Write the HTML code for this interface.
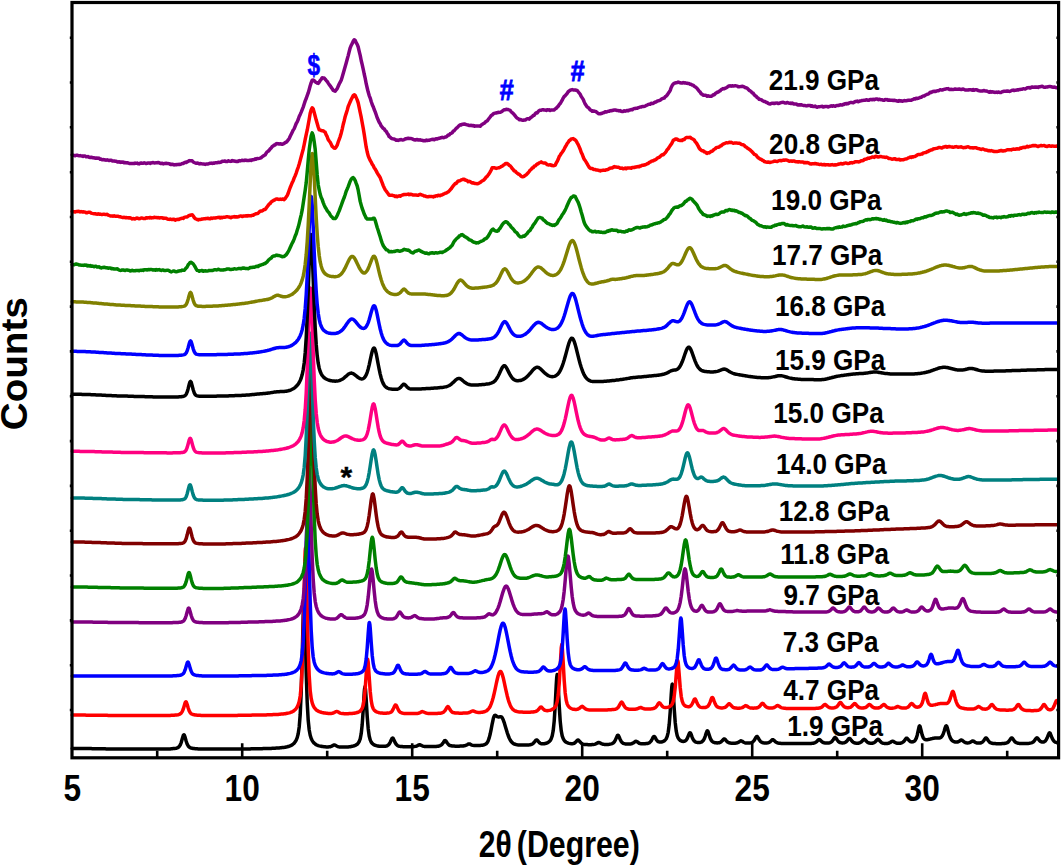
<!DOCTYPE html>
<html><head><meta charset="utf-8"><style>
html,body{margin:0;padding:0;background:#fff;}
body{width:1061px;height:866px;overflow:hidden;}
svg{display:block;}
text{font-family:"Liberation Sans",sans-serif;font-weight:bold;fill:#000;}
</style></head><body>
<svg width="1061" height="866" viewBox="0 0 1061 866">
<rect width="1061" height="866" fill="#fff"/>
<g fill="none" stroke-width="3.5" stroke-linejoin="round" stroke-linecap="round">
<path d="M72.2 748.5L73.2 748.5 74.2 748.5 75.2 748.5 76.2 748.5 77.2 748.5 78.2 748.5 79.2 748.5 80.2 748.5 81.2 748.5 82.2 748.5 83.2 748.6 84.2 748.6 85.2 748.6 86.2 748.6 87.2 748.6 88.2 748.6 89.2 748.6 90.2 748.6 91.2 748.6 92.2 748.7 93.2 748.7 94.2 748.7 95.2 748.7 96.2 748.7 97.2 748.7 98.2 748.7 99.2 748.8 100.2 748.8 101.2 748.8 102.2 748.8 103.2 748.8 104.2 748.8 105.2 748.8 106.2 748.9 107.2 748.9 108.2 748.9 109.2 748.9 110.2 748.9 111.2 748.9 112.2 748.9 113.2 749.0 114.2 749.0 115.2 749.0 116.2 749.0 117.2 749.0 118.2 749.0 119.2 749.0 120.2 749.0 121.2 749.1 122.2 749.1 123.2 749.1 124.2 749.1 125.2 749.1 126.2 749.1 127.2 749.1 128.2 749.1 129.2 749.1 130.2 749.1 131.2 749.1 132.2 749.1 133.2 749.1 134.2 749.1 135.2 749.1 136.2 749.1 137.2 749.1 138.2 749.1 139.2 749.1 140.2 749.1 141.2 749.1 142.2 749.1 143.2 749.1 144.2 749.1 145.2 749.1 146.2 749.1 147.2 749.1 148.2 749.1 149.2 749.1 150.2 749.1 151.2 749.1 152.2 749.1 153.2 749.1 154.2 749.1 155.2 749.1 156.2 749.1 157.2 749.1 158.2 749.1 159.2 749.1 160.2 749.1 161.2 749.1 162.2 749.0 163.2 749.0 164.2 749.0 165.2 749.0 166.2 749.0 167.2 749.0 168.2 748.9 169.2 748.9 170.2 748.9 171.2 748.8 172.2 748.7 173.2 748.6 174.2 748.5 175.2 748.4 176.2 748.2 177.2 747.9 178.2 747.4 179.2 746.5 180.2 745.0 181.2 742.6 182.2 739.1 183.2 735.7 183.4 735.2 183.9 734.7 184.2 734.9 184.4 735.2 185.2 737.6 186.2 741.3 187.2 744.2 188.2 746.0 189.2 747.1 190.2 747.7 191.2 748.1 192.2 748.3 193.2 748.5 194.2 748.6 195.2 748.7 196.2 748.8 197.2 748.8 198.2 748.9 199.2 748.9 200.2 749.0 201.2 749.0 202.2 749.0 203.2 749.0 204.2 749.0 205.2 749.1 206.2 749.1 207.2 749.1 208.2 749.1 209.2 749.1 210.2 749.1 211.2 749.1 212.2 749.1 213.2 749.1 214.2 749.1 215.2 749.1 216.2 749.1 217.2 749.1 218.2 749.1 219.2 749.1 220.2 749.1 221.2 749.1 222.2 749.1 223.2 749.1 224.2 749.1 225.2 749.1 226.2 749.1 227.2 749.1 228.2 749.1 229.2 749.1 230.2 749.1 231.2 749.1 232.2 749.1 233.2 749.0 234.2 749.0 235.2 749.0 236.2 749.0 237.2 749.0 238.2 749.0 239.2 749.0 240.2 749.0 241.2 749.0 242.2 749.0 243.2 748.9 244.2 748.9 245.2 748.9 246.2 748.9 247.2 748.9 248.2 748.9 249.2 748.9 250.2 748.9 251.2 748.8 252.2 748.8 253.2 748.8 254.2 748.8 255.2 748.8 256.2 748.8 257.2 748.8 258.2 748.7 259.2 748.7 260.2 748.7 261.2 748.7 262.2 748.7 263.2 748.6 264.2 748.6 265.2 748.6 266.2 748.6 267.2 748.5 268.2 748.5 269.2 748.5 270.2 748.4 271.2 748.4 272.2 748.3 273.2 748.3 274.2 748.2 275.2 748.2 276.2 748.1 277.2 748.1 278.2 748.0 279.2 747.9 280.2 747.8 281.2 747.7 282.2 747.6 283.2 747.5 284.2 747.4 285.2 747.2 286.2 747.0 287.2 746.8 288.2 746.5 289.2 746.2 290.2 745.8 291.2 745.4 292.2 744.8 293.2 744.0 294.2 743.1 295.2 741.8 296.2 740.1 297.2 737.6 298.2 733.7 299.2 727.0 300.2 714.5 301.2 692.2 302.2 656.8 303.2 615.6 303.5 606.5 304.0 600.0 304.2 601.1 304.5 606.5 305.2 631.3 306.2 672.4 307.2 702.5 308.2 720.3 309.2 730.0 310.2 735.3 311.2 738.5 312.2 740.6 313.2 742.1 314.2 743.2 315.2 744.0 316.2 744.7 317.2 745.2 318.2 745.6 319.2 745.9 320.2 746.1 321.2 746.3 322.2 746.5 323.2 746.6 324.2 746.8 325.2 746.8 326.2 746.9 327.2 746.9 328.2 746.9 329.2 746.8 330.2 746.7 331.2 746.4 332.2 745.9 333.2 745.3 333.8 745.0 334.2 744.9 334.3 744.9 334.8 745.0 335.2 745.2 336.2 745.8 337.2 746.3 338.2 746.7 339.2 746.9 340.2 747.0 341.2 747.1 342.2 747.1 343.2 747.1 344.2 747.1 345.2 747.1 346.2 747.0 347.2 747.0 348.2 746.9 349.2 746.8 350.2 746.7 351.2 746.5 352.2 746.3 353.2 746.1 354.2 745.8 355.2 745.4 356.2 744.9 357.2 744.2 358.2 743.1 359.2 741.5 360.2 738.8 361.2 733.7 362.2 724.5 363.2 710.0 364.2 693.1 364.5 689.4 365.0 686.7 365.2 687.1 365.5 689.4 366.2 699.5 367.2 716.4 368.2 728.7 369.2 736.0 370.2 739.9 371.2 742.1 372.2 743.4 373.2 744.3 374.2 744.9 375.2 745.3 376.2 745.6 377.2 745.9 378.2 746.0 379.2 746.2 380.2 746.2 381.2 746.3 382.2 746.3 383.2 746.3 384.2 746.3 385.2 746.2 386.2 746.0 387.2 745.7 388.2 745.1 389.2 744.0 390.2 742.3 391.2 740.0 392.1 738.3 392.2 738.2 392.6 738.0 393.1 738.3 393.2 738.5 394.2 740.5 395.2 742.7 396.2 744.3 397.2 745.3 398.2 745.9 399.2 746.2 400.2 746.4 401.2 746.5 402.2 746.6 403.2 746.7 404.2 746.7 405.2 746.7 406.2 746.8 407.2 746.8 408.2 746.8 409.2 746.8 410.2 746.8 411.2 746.7 412.2 746.7 413.2 746.7 414.2 746.6 415.2 746.4 416.2 746.2 417.2 745.8 418.2 745.2 419.1 744.8 419.2 744.8 419.6 744.8 420.1 744.8 420.2 744.9 421.2 745.3 422.2 745.8 423.2 746.2 424.2 746.4 425.2 746.5 426.2 746.6 427.2 746.6 428.2 746.6 429.2 746.6 430.2 746.6 431.2 746.6 432.2 746.6 433.2 746.5 434.2 746.5 435.2 746.4 436.2 746.4 437.2 746.3 438.2 746.2 439.2 746.0 440.2 745.6 441.2 745.0 442.2 744.1 443.2 742.7 444.2 741.2 444.6 740.7 445.1 740.5 445.2 740.5 445.6 740.7 446.2 741.4 447.2 743.0 448.2 744.2 449.2 745.1 450.2 745.6 451.2 745.8 452.2 746.0 453.2 746.1 454.2 746.1 455.2 746.2 456.2 746.2 457.2 746.2 458.2 746.2 459.2 746.2 460.2 746.1 461.2 746.1 462.2 746.1 463.2 746.0 464.2 745.8 465.2 745.6 466.2 745.2 467.2 744.7 468.2 744.1 468.5 744.0 469.0 743.9 469.2 743.9 469.5 743.9 470.2 744.2 471.2 744.8 472.2 745.2 473.2 745.4 474.2 745.6 475.2 745.6 476.2 745.6 477.2 745.6 478.2 745.5 479.2 745.5 480.2 745.4 481.2 745.3 482.2 745.2 483.2 745.0 484.2 744.7 485.2 744.3 486.2 743.7 487.2 742.6 488.2 740.8 489.2 737.9 490.2 734.0 491.2 729.1 492.2 723.8 493.2 719.1 493.5 717.9 494.0 716.5 494.2 716.1 494.5 715.6 495.2 715.2 496.2 715.8 497.2 716.6 498.2 717.0 499.2 716.9 500.2 716.7 501.0 716.7 501.2 716.8 501.5 717.0 502.0 717.5 502.2 717.8 503.2 719.8 504.2 722.6 505.2 725.9 506.2 729.3 507.2 732.6 508.2 735.5 509.2 738.0 510.2 740.0 511.2 741.5 512.2 742.6 513.2 743.4 514.2 744.0 515.2 744.3 516.2 744.6 517.2 744.8 518.2 744.9 519.2 745.0 520.2 745.0 521.2 745.0 522.2 745.1 523.2 745.1 524.2 745.1 525.2 745.1 526.2 745.1 527.2 745.0 528.2 744.9 529.2 744.9 530.2 744.7 531.2 744.5 532.2 744.1 533.2 743.4 534.2 742.3 535.2 741.0 536.0 740.1 536.2 739.9 536.5 739.9 537.0 740.0 537.2 740.2 538.2 741.3 539.2 742.5 540.2 743.2 541.2 743.7 542.2 743.8 543.2 743.8 544.2 743.7 545.2 743.5 546.2 743.3 547.2 742.9 548.2 742.3 549.2 741.6 550.2 740.5 551.2 738.8 552.2 735.9 553.2 730.7 554.2 721.1 555.2 705.4 556.2 685.5 556.7 677.5 557.2 674.4 557.7 677.5 558.2 685.5 559.2 705.4 560.2 721.1 561.2 730.6 562.2 735.9 563.2 738.7 564.2 740.4 565.2 741.5 566.2 742.2 567.2 742.7 568.2 743.1 569.2 743.4 570.2 743.6 571.2 743.7 572.2 743.7 573.2 743.5 574.2 743.2 575.2 742.5 576.2 741.5 577.2 740.4 577.5 740.1 578.0 740.0 578.2 740.0 578.5 740.2 579.2 740.9 580.2 742.1 581.2 743.1 582.2 743.8 583.2 744.2 584.2 744.4 585.2 744.5 586.2 744.6 587.2 744.6 588.2 744.7 589.2 744.7 590.2 744.7 591.2 744.7 592.2 744.6 593.2 744.6 594.2 744.4 595.2 744.1 596.2 743.7 597.2 743.1 598.2 742.6 598.3 742.5 598.8 742.4 599.2 742.5 599.3 742.5 600.2 743.0 601.2 743.6 602.2 744.0 603.2 744.2 604.2 744.4 605.2 744.4 606.2 744.4 607.2 744.4 608.2 744.4 609.2 744.3 610.2 744.1 611.2 743.9 612.2 743.6 613.2 743.0 614.2 742.0 615.2 740.4 616.2 738.1 617.2 735.9 617.4 735.5 617.9 735.2 618.2 735.3 618.4 735.5 619.2 737.1 620.2 739.5 621.2 741.4 622.2 742.6 623.2 743.3 624.2 743.6 625.2 743.9 626.2 744.0 627.2 744.0 628.2 744.1 629.2 744.0 630.2 744.0 631.2 743.8 632.2 743.5 633.2 743.0 634.2 742.3 635.2 741.5 635.5 741.4 636.0 741.3 636.2 741.3 636.5 741.4 637.2 741.8 638.2 742.5 639.2 743.2 640.2 743.5 641.2 743.7 642.2 743.8 643.2 743.8 644.2 743.8 645.2 743.7 646.2 743.6 647.2 743.5 648.2 743.2 649.2 742.8 650.2 742.0 651.2 740.8 652.2 739.0 653.2 737.1 653.5 736.7 654.0 736.4 654.2 736.4 654.5 736.6 655.2 737.6 656.2 739.4 657.2 740.8 658.2 741.6 659.2 742.0 660.2 742.1 661.2 742.1 662.2 741.8 663.2 741.4 664.2 740.9 665.2 740.0 666.2 738.7 667.2 736.4 668.2 732.3 669.2 724.6 670.2 711.9 671.2 695.2 671.8 686.8 672.2 684.3 672.3 684.2 672.8 686.8 673.2 692.0 674.2 708.7 675.2 722.4 676.2 730.9 677.2 735.6 678.2 738.1 679.2 739.5 680.2 740.4 681.2 740.9 682.2 741.3 683.2 741.4 684.2 741.3 685.2 740.9 686.2 740.1 687.2 738.5 688.2 736.1 689.2 733.6 689.5 733.1 690.0 732.7 690.2 732.8 690.5 733.1 691.2 734.6 692.2 737.4 693.2 739.5 694.2 740.9 695.2 741.8 696.2 742.2 697.2 742.4 698.2 742.5 699.2 742.5 700.2 742.4 701.2 742.1 702.2 741.6 703.2 740.6 704.2 738.9 705.2 736.3 706.2 733.1 706.9 731.3 707.2 730.9 707.4 730.8 707.9 731.3 708.2 731.9 709.2 735.1 710.2 738.1 711.2 740.1 712.2 741.4 713.2 742.1 714.2 742.5 715.2 742.7 716.2 742.8 717.2 742.9 718.2 742.8 719.2 742.7 720.2 742.4 721.2 741.7 722.2 740.8 723.2 739.6 723.8 739.1 724.2 738.9 724.3 738.9 724.8 739.1 725.2 739.4 726.2 740.6 727.2 741.7 728.2 742.4 729.2 742.8 730.2 743.1 731.2 743.2 732.2 743.3 733.2 743.3 734.2 743.3 735.2 743.2 736.2 743.1 737.2 742.8 738.2 742.4 739.2 741.8 740.2 741.1 740.5 740.9 741.0 740.8 741.2 740.9 741.5 740.9 742.2 741.3 743.2 742.0 744.2 742.5 745.2 742.9 746.2 743.0 747.2 743.1 748.2 743.1 749.2 743.0 750.2 742.9 751.2 742.7 752.2 742.3 753.2 741.5 754.2 740.3 755.2 738.6 756.2 736.9 756.4 736.7 756.9 736.4 757.2 736.5 757.4 736.7 758.2 737.9 759.2 739.7 760.2 741.1 761.2 742.0 762.2 742.5 763.2 742.8 764.2 742.9 765.2 743.0 766.2 743.0 767.2 742.9 768.2 742.7 769.2 742.3 770.2 741.7 771.2 740.8 772.2 739.9 772.3 739.8 772.8 739.7 773.2 739.8 773.3 739.9 774.2 740.6 775.2 741.6 776.2 742.3 777.2 742.8 778.2 743.1 779.2 743.3 780.2 743.3 781.2 743.4 782.2 743.5 783.2 743.5 784.2 743.5 785.2 743.5 786.2 743.6 787.2 743.6 788.2 743.6 789.2 743.6 790.2 743.6 791.2 743.6 792.2 743.6 793.2 743.6 794.2 743.6 795.2 743.6 796.2 743.6 797.2 743.6 798.2 743.6 799.2 743.6 800.2 743.6 801.2 743.6 802.2 743.6 803.2 743.6 804.2 743.6 805.2 743.6 806.2 743.5 807.2 743.5 808.2 743.5 809.2 743.5 810.2 743.4 811.2 743.4 812.2 743.3 813.2 743.2 814.2 743.0 815.2 742.6 816.2 742.0 817.2 741.1 818.2 740.1 818.7 739.7 819.2 739.5 819.7 739.7 820.2 740.0 821.2 741.1 822.2 741.9 823.2 742.5 824.2 742.8 825.2 743.0 826.2 743.1 827.2 743.1 828.2 743.0 829.2 742.9 830.2 742.6 831.2 742.0 832.2 741.1 833.2 739.7 834.2 738.1 834.6 737.7 835.1 737.4 835.2 737.5 835.6 737.7 836.2 738.4 837.2 740.0 838.2 741.3 839.2 742.1 840.2 742.6 841.2 742.8 842.2 742.9 843.2 742.9 844.2 742.7 845.2 742.4 846.2 741.7 847.2 740.7 848.2 739.3 848.9 738.6 849.2 738.4 849.4 738.4 849.9 738.6 850.2 738.9 851.2 740.2 852.2 741.4 853.2 742.3 854.2 742.8 855.2 743.1 856.2 743.2 857.2 743.2 858.2 743.2 859.2 743.0 860.2 742.6 861.2 742.0 862.2 741.0 863.2 739.9 863.7 739.5 864.2 739.3 864.7 739.5 865.2 739.9 866.2 741.1 867.2 742.1 868.2 742.7 869.2 743.1 870.2 743.2 871.2 743.3 872.2 743.2 873.2 743.0 874.2 742.6 875.2 741.9 876.2 740.8 877.2 739.7 877.5 739.4 878.0 739.3 878.2 739.3 878.5 739.4 879.2 740.1 880.2 741.3 881.2 742.3 882.2 742.9 883.2 743.2 884.2 743.4 885.2 743.5 886.2 743.5 887.2 743.5 888.2 743.3 889.2 743.0 890.2 742.5 891.2 741.8 892.1 741.3 892.2 741.3 892.6 741.2 893.1 741.3 893.2 741.3 894.2 741.9 895.2 742.5 896.2 743.0 897.2 743.2 898.2 743.3 899.2 743.3 900.2 743.2 901.2 743.0 902.2 742.6 903.2 741.9 904.2 740.9 905.2 739.5 906.1 738.4 906.2 738.3 906.6 738.2 907.1 738.3 907.2 738.4 908.2 739.5 909.2 740.7 910.2 741.5 911.2 741.8 912.2 741.9 913.2 741.7 914.2 741.2 915.2 740.2 916.2 738.4 917.2 735.2 918.2 730.5 919.1 726.6 919.2 726.3 919.6 725.8 920.1 726.5 920.2 726.8 921.2 731.0 922.2 735.1 923.2 737.7 924.2 739.0 925.2 739.6 926.2 739.8 927.2 739.7 928.2 739.6 929.2 739.3 930.2 739.1 931.2 738.8 932.2 738.6 933.2 738.3 934.2 738.2 934.5 738.1 935.0 738.1 935.2 738.1 935.5 738.1 936.2 738.0 937.2 738.0 938.2 738.0 939.2 738.0 940.2 737.8 941.2 737.2 942.2 736.0 943.2 734.0 944.2 731.0 945.2 727.6 945.8 726.1 946.2 725.8 946.3 725.8 946.8 726.4 947.2 727.5 948.2 731.3 949.2 735.0 950.2 737.7 951.2 739.5 952.2 740.6 953.2 741.3 954.2 741.8 955.2 742.0 956.2 742.1 957.2 742.1 958.2 741.8 959.2 741.2 960.2 740.5 960.9 740.1 961.2 740.0 961.4 740.0 961.9 740.1 962.2 740.3 963.2 741.2 964.2 742.0 965.2 742.5 966.2 742.8 967.2 742.9 968.2 742.9 969.2 742.7 970.2 742.3 971.2 741.7 972.2 741.1 972.3 741.0 972.8 741.0 973.2 741.0 973.3 741.1 974.2 741.6 975.2 742.3 976.2 742.7 977.2 743.0 978.2 743.1 979.2 743.1 980.2 743.0 981.2 742.7 982.2 742.2 983.2 741.3 984.2 739.9 985.2 738.4 985.5 738.1 986.0 737.9 986.2 738.0 986.5 738.1 987.2 739.0 988.2 740.5 989.2 741.8 990.2 742.6 991.2 743.0 992.2 743.3 993.2 743.5 994.2 743.6 995.2 743.6 996.2 743.7 997.2 743.7 998.2 743.7 999.2 743.7 1000.2 743.7 1001.2 743.7 1002.2 743.6 1003.2 743.6 1004.2 743.5 1005.2 743.3 1006.2 743.1 1007.2 742.7 1008.2 742.0 1009.2 740.9 1010.2 739.4 1011.2 738.1 1011.7 737.9 1012.2 738.1 1013.2 739.4 1014.2 740.9 1015.2 742.0 1016.2 742.6 1017.2 743.0 1018.2 743.2 1019.2 743.4 1020.2 743.4 1021.2 743.5 1022.2 743.5 1023.2 743.5 1024.2 743.5 1025.2 743.5 1026.2 743.5 1027.2 743.4 1028.2 743.4 1029.2 743.3 1030.2 743.1 1031.2 742.9 1032.2 742.6 1033.2 742.0 1034.2 741.0 1035.2 739.6 1036.2 738.2 1036.4 738.0 1036.9 737.8 1037.2 737.9 1037.4 738.0 1038.2 738.9 1039.2 740.2 1040.2 741.2 1041.2 741.8 1042.2 742.1 1043.2 742.0 1044.2 741.7 1045.2 741.1 1046.2 739.8 1047.2 737.8 1048.2 735.2 1049.1 733.2 1049.2 733.0 1049.6 732.8 1050.1 733.2 1050.2 733.3 1051.2 735.8 1052.2 738.4 1053.2 740.2 1054.2 741.4 1055.2 742.1 1056.2 742.4 1057.2 742.7 1058.2 742.8" stroke="#000000"/>
<path d="M72.2 715.1L73.2 715.1 74.2 715.1 75.2 715.1 76.2 715.1 77.2 715.1 78.2 715.1 79.2 715.1 80.2 715.1 81.2 715.1 82.2 715.1 83.2 715.1 84.2 715.1 85.2 715.1 86.2 715.2 87.2 715.2 88.2 715.2 89.2 715.2 90.2 715.2 91.2 715.2 92.2 715.2 93.2 715.2 94.2 715.2 95.2 715.2 96.2 715.2 97.2 715.2 98.2 715.3 99.2 715.3 100.2 715.3 101.2 715.3 102.2 715.3 103.2 715.3 104.2 715.3 105.2 715.3 106.2 715.3 107.2 715.3 108.2 715.4 109.2 715.4 110.2 715.4 111.2 715.4 112.2 715.4 113.2 715.4 114.2 715.4 115.2 715.4 116.2 715.4 117.2 715.4 118.2 715.4 119.2 715.4 120.2 715.5 121.2 715.5 122.2 715.5 123.2 715.5 124.2 715.5 125.2 715.5 126.2 715.5 127.2 715.5 128.2 715.5 129.2 715.5 130.2 715.5 131.2 715.5 132.2 715.5 133.2 715.5 134.2 715.5 135.2 715.5 136.2 715.5 137.2 715.5 138.2 715.5 139.2 715.5 140.2 715.5 141.2 715.5 142.2 715.5 143.2 715.5 144.2 715.5 145.2 715.5 146.2 715.5 147.2 715.5 148.2 715.5 149.2 715.5 150.2 715.5 151.2 715.5 152.2 715.5 153.2 715.5 154.2 715.5 155.2 715.5 156.2 715.5 157.2 715.5 158.2 715.5 159.2 715.5 160.2 715.5 161.2 715.5 162.2 715.5 163.2 715.5 164.2 715.5 165.2 715.5 166.2 715.4 167.2 715.4 168.2 715.4 169.2 715.4 170.2 715.4 171.2 715.3 172.2 715.3 173.2 715.2 174.2 715.2 175.2 715.1 176.2 715.0 177.2 714.9 178.2 714.7 179.2 714.4 180.2 713.9 181.2 713.1 182.2 711.6 183.2 709.3 184.2 705.9 185.2 702.6 185.4 702.2 185.9 701.7 186.2 701.9 186.4 702.2 187.2 704.5 188.2 708.0 189.2 710.8 190.2 712.6 191.2 713.7 192.2 714.2 193.2 714.6 194.2 714.8 195.2 715.0 196.2 715.1 197.2 715.2 198.2 715.2 199.2 715.3 200.2 715.3 201.2 715.4 202.2 715.4 203.2 715.4 204.2 715.4 205.2 715.4 206.2 715.5 207.2 715.5 208.2 715.5 209.2 715.5 210.2 715.5 211.2 715.5 212.2 715.5 213.2 715.5 214.2 715.5 215.2 715.5 216.2 715.5 217.2 715.5 218.2 715.5 219.2 715.5 220.2 715.5 221.2 715.5 222.2 715.5 223.2 715.5 224.2 715.5 225.2 715.5 226.2 715.5 227.2 715.5 228.2 715.5 229.2 715.4 230.2 715.4 231.2 715.4 232.2 715.4 233.2 715.4 234.2 715.4 235.2 715.4 236.2 715.4 237.2 715.4 238.2 715.3 239.2 715.3 240.2 715.3 241.2 715.3 242.2 715.3 243.2 715.3 244.2 715.3 245.2 715.3 246.2 715.2 247.2 715.2 248.2 715.2 249.2 715.2 250.2 715.2 251.2 715.2 252.2 715.1 253.2 715.1 254.2 715.1 255.2 715.1 256.2 715.1 257.2 715.1 258.2 715.0 259.2 715.0 260.2 715.0 261.2 715.0 262.2 715.0 263.2 714.9 264.2 714.9 265.2 714.9 266.2 714.9 267.2 714.8 268.2 714.8 269.2 714.8 270.2 714.7 271.2 714.7 272.2 714.7 273.2 714.6 274.2 714.6 275.2 714.5 276.2 714.5 277.2 714.4 278.2 714.4 279.2 714.3 280.2 714.2 281.2 714.1 282.2 714.0 283.2 713.9 284.2 713.8 285.2 713.7 286.2 713.5 287.2 713.3 288.2 713.1 289.2 712.9 290.2 712.6 291.2 712.2 292.2 711.8 293.2 711.2 294.2 710.5 295.2 709.7 296.2 708.5 297.2 707.0 298.2 704.8 299.2 701.5 300.2 696.0 301.2 685.8 302.2 666.6 303.2 633.5 304.2 587.6 305.0 555.2 305.2 550.7 305.5 548.0 306.0 555.2 306.2 561.6 307.2 606.8 308.2 648.5 309.2 675.6 310.2 690.6 311.2 698.5 312.2 702.9 313.2 705.6 314.2 707.5 315.2 708.8 316.2 709.8 317.2 710.6 318.2 711.2 319.2 711.6 320.2 712.0 321.2 712.3 322.2 712.6 323.2 712.8 324.2 713.0 325.2 713.1 326.2 713.2 327.2 713.3 328.2 713.4 329.2 713.4 330.2 713.4 331.2 713.4 332.2 713.3 333.2 713.0 334.2 712.6 335.2 712.0 336.2 711.5 336.3 711.4 336.8 711.4 337.2 711.4 337.3 711.5 338.2 712.0 339.2 712.6 340.2 713.1 341.2 713.4 342.2 713.6 343.2 713.6 344.2 713.7 345.2 713.7 346.2 713.7 347.2 713.7 348.2 713.7 349.2 713.6 350.2 713.6 351.2 713.5 352.2 713.4 353.2 713.3 354.2 713.2 355.2 713.0 356.2 712.8 357.2 712.5 358.2 712.2 359.2 711.7 360.2 711.0 361.2 709.9 362.2 708.2 363.2 705.1 364.2 699.1 365.2 688.7 366.2 673.8 367.1 661.6 367.2 660.7 367.6 659.2 368.1 661.6 368.2 662.5 369.2 677.0 370.2 691.2 371.2 700.6 372.2 705.8 373.2 708.6 374.2 710.1 375.2 711.0 376.2 711.7 377.2 712.1 378.2 712.4 379.2 712.7 380.2 712.9 381.2 713.0 382.2 713.1 383.2 713.2 384.2 713.2 385.2 713.2 386.2 713.2 387.2 713.1 388.2 713.1 389.2 712.9 390.2 712.5 391.2 711.9 392.2 710.9 393.2 709.1 394.2 706.9 395.1 705.2 395.2 705.1 395.6 704.9 396.1 705.2 396.2 705.4 397.2 707.4 398.2 709.6 399.2 711.2 400.2 712.2 401.2 712.7 402.2 713.1 403.2 713.3 404.2 713.4 405.2 713.5 406.2 713.5 407.2 713.6 408.2 713.6 409.2 713.6 410.2 713.6 411.2 713.6 412.2 713.6 413.2 713.6 414.2 713.6 415.2 713.6 416.2 713.5 417.2 713.5 418.2 713.3 419.2 713.0 420.2 712.6 421.2 712.0 422.0 711.7 422.2 711.6 422.5 711.6 423.0 711.7 423.2 711.7 424.2 712.2 425.2 712.7 426.2 713.1 427.2 713.3 428.2 713.4 429.2 713.5 430.2 713.5 431.2 713.5 432.2 713.5 433.2 713.5 434.2 713.5 435.2 713.5 436.2 713.4 437.2 713.4 438.2 713.3 439.2 713.3 440.2 713.2 441.2 713.0 442.2 712.7 443.2 712.3 444.2 711.5 445.2 710.3 446.2 708.6 447.2 707.0 447.3 706.9 447.8 706.6 448.2 706.8 448.3 706.8 449.2 708.2 450.2 709.9 451.2 711.2 452.2 712.1 453.2 712.6 454.2 712.8 455.2 713.0 456.2 713.1 457.2 713.1 458.2 713.1 459.2 713.2 460.2 713.2 461.2 713.2 462.2 713.2 463.2 713.1 464.2 713.1 465.2 713.1 466.2 713.0 467.2 712.9 468.2 712.8 469.2 712.5 470.2 712.1 471.2 711.5 472.2 711.0 472.3 711.0 472.8 710.9 473.2 710.9 473.3 710.9 474.2 711.3 475.2 711.8 476.2 712.1 477.2 712.3 478.2 712.4 479.2 712.4 480.2 712.4 481.2 712.3 482.2 712.2 483.2 712.0 484.2 711.8 485.2 711.4 486.2 711.0 487.2 710.3 488.2 709.3 489.2 708.0 490.2 706.3 491.2 703.9 492.2 701.0 493.2 697.5 494.2 693.3 495.2 688.8 496.2 684.0 497.2 679.5 498.2 675.5 499.2 672.7 499.9 671.6 500.2 671.4 500.4 671.4 500.9 671.6 501.2 672.0 502.2 674.2 503.2 677.7 504.2 682.1 505.2 686.8 506.2 691.4 507.2 695.7 508.2 699.5 509.2 702.7 510.2 705.2 511.2 707.2 512.2 708.6 513.2 709.7 514.2 710.5 515.2 711.0 516.2 711.3 517.2 711.6 518.2 711.8 519.2 711.9 520.2 712.0 521.2 712.1 522.2 712.1 523.2 712.2 524.2 712.2 525.2 712.2 526.2 712.2 527.2 712.2 528.2 712.2 529.2 712.2 530.2 712.2 531.2 712.1 532.2 712.1 533.2 712.0 534.2 711.8 535.2 711.6 536.2 711.3 537.2 710.7 538.2 709.8 539.2 708.6 540.2 707.4 540.4 707.2 540.9 707.0 541.2 707.0 541.4 707.1 542.2 707.9 543.2 709.0 544.2 709.9 545.2 710.4 546.2 710.6 547.2 710.7 548.2 710.6 549.2 710.4 550.2 710.2 551.2 709.9 552.2 709.4 553.2 708.9 554.2 708.0 555.2 706.9 556.2 705.0 557.2 701.6 558.2 695.1 559.2 683.6 560.2 666.3 561.2 648.6 561.3 647.4 561.8 644.5 562.2 646.4 562.3 647.4 563.2 662.3 564.2 680.3 565.2 693.0 566.2 700.2 567.2 704.0 568.2 706.0 569.2 707.2 570.2 708.0 571.2 708.5 572.2 708.9 573.2 709.2 574.2 709.3 575.2 709.4 576.2 709.4 577.2 709.3 578.2 709.0 579.2 708.5 580.2 707.6 581.2 706.7 581.6 706.5 582.1 706.3 582.2 706.3 582.6 706.5 583.2 706.9 584.2 707.9 585.2 708.7 586.2 709.3 587.2 709.6 588.2 709.8 589.2 709.9 590.2 709.9 591.2 710.0 592.2 710.0 593.2 710.0 594.2 710.0 595.2 710.0 596.2 710.0 597.2 710.0 598.2 710.0 599.2 710.0 600.2 710.0 601.2 710.0 602.2 710.0 603.2 710.0 604.2 709.9 605.2 709.9 606.2 709.9 607.2 709.9 608.2 709.8 609.2 709.8 610.2 709.8 611.2 709.7 612.2 709.6 613.2 709.5 614.2 709.4 615.2 709.2 616.2 708.9 617.2 708.3 618.2 707.4 619.2 705.8 620.2 703.9 621.1 702.4 621.2 702.3 621.6 702.1 622.1 702.4 622.2 702.5 623.2 704.2 624.2 706.1 625.2 707.5 626.2 708.3 627.2 708.8 628.2 709.0 629.2 709.2 630.2 709.2 631.2 709.3 632.2 709.3 633.2 709.3 634.2 709.3 635.2 709.2 636.2 709.1 637.2 708.8 638.2 708.4 639.2 707.9 640.0 707.6 640.2 707.5 640.5 707.5 641.0 707.6 641.2 707.6 642.2 708.1 643.2 708.5 644.2 708.8 645.2 709.0 646.2 709.0 647.2 709.1 648.2 709.0 649.2 709.0 650.2 708.9 651.2 708.9 652.2 708.7 653.2 708.5 654.2 708.2 655.2 707.7 656.2 706.8 657.2 705.4 658.2 703.8 658.8 703.0 659.2 702.8 659.3 702.8 659.8 703.0 660.2 703.4 661.2 704.8 662.2 706.1 663.2 707.0 664.2 707.4 665.2 707.6 666.2 707.6 667.2 707.4 668.2 707.2 669.2 706.8 670.2 706.2 671.2 705.4 672.2 704.0 673.2 701.4 674.2 696.4 675.2 687.6 676.2 674.8 677.2 662.5 677.7 660.4 678.2 662.5 679.2 674.7 680.2 687.5 681.2 696.3 682.2 701.2 683.2 703.7 684.2 705.1 685.2 705.9 686.2 706.4 687.2 706.6 688.2 706.7 689.2 706.7 690.2 706.3 691.2 705.4 692.2 703.9 693.2 701.7 694.2 699.5 694.4 699.2 694.9 698.9 695.2 699.0 695.4 699.2 696.2 700.8 697.2 703.3 698.2 705.2 699.2 706.4 700.2 707.1 701.2 707.4 702.2 707.6 703.2 707.6 704.2 707.6 705.2 707.5 706.2 707.3 707.2 706.8 708.2 705.9 709.2 704.3 710.2 701.9 711.2 699.1 711.8 697.8 712.2 697.4 712.3 697.4 712.8 697.8 713.2 698.6 714.2 701.4 715.2 703.9 716.2 705.7 717.2 706.7 718.2 707.3 719.2 707.6 720.2 707.8 721.2 707.9 722.2 707.9 723.2 707.8 724.2 707.6 725.2 707.3 726.2 706.6 727.2 705.5 728.2 704.3 728.7 703.9 729.2 703.7 729.7 703.9 730.2 704.4 731.2 705.6 732.2 706.6 733.2 707.4 734.2 707.8 735.2 708.0 736.2 708.1 737.2 708.2 738.2 708.2 739.2 708.2 740.2 708.1 741.2 707.9 742.2 707.6 743.2 707.1 744.2 706.4 745.2 705.8 745.3 705.7 745.8 705.6 746.2 705.7 746.3 705.7 747.2 706.3 748.2 707.0 749.2 707.5 750.2 707.9 751.2 708.0 752.2 708.1 753.2 708.2 754.2 708.1 755.2 708.1 756.2 708.0 757.2 707.8 758.2 707.4 759.2 706.7 760.2 705.7 761.2 704.3 762.0 703.5 762.2 703.4 762.5 703.3 763.0 703.5 763.2 703.6 764.2 704.9 765.2 706.1 766.2 707.0 767.2 707.5 768.2 707.8 769.2 708.0 770.2 708.0 771.2 708.0 772.2 708.0 773.2 707.8 774.2 707.5 775.2 707.0 776.2 706.2 777.2 705.6 777.7 705.5 778.2 705.6 779.2 706.3 780.2 707.0 781.2 707.6 782.2 707.9 783.2 708.1 784.2 708.2 785.2 708.3 786.2 708.4 787.2 708.4 788.2 708.4 789.2 708.4 790.2 708.5 791.2 708.5 792.2 708.5 793.2 708.5 794.2 708.5 795.2 708.5 796.2 708.5 797.2 708.5 798.2 708.5 799.2 708.5 800.2 708.5 801.2 708.5 802.2 708.5 803.2 708.5 804.2 708.5 805.2 708.5 806.2 708.5 807.2 708.5 808.2 708.5 809.2 708.5 810.2 708.5 811.2 708.4 812.2 708.4 813.2 708.4 814.2 708.4 815.2 708.4 816.2 708.3 817.2 708.3 818.2 708.2 819.2 708.1 820.2 707.8 821.2 707.4 822.2 706.8 823.2 705.8 824.2 704.8 824.5 704.6 825.0 704.5 825.2 704.5 825.5 704.6 826.2 705.2 827.2 706.2 828.2 707.0 829.2 707.5 830.2 707.8 831.2 707.9 832.2 707.9 833.2 707.9 834.2 707.8 835.2 707.5 836.2 707.1 837.2 706.3 838.2 705.1 839.2 703.5 839.9 702.7 840.2 702.5 840.4 702.5 840.9 702.7 841.2 703.0 842.2 704.4 843.2 705.8 844.2 706.8 845.2 707.3 846.2 707.6 847.2 707.7 848.2 707.7 849.2 707.6 850.2 707.4 851.2 706.8 852.2 705.9 853.2 704.7 854.2 703.7 854.7 703.5 855.2 703.7 856.2 704.8 857.2 706.0 858.2 706.9 859.2 707.5 860.2 707.8 861.2 707.9 862.2 708.0 863.2 708.0 864.2 707.8 865.2 707.6 866.2 707.1 867.2 706.3 868.2 705.3 869.0 704.6 869.2 704.6 869.5 704.5 870.0 704.6 870.2 704.8 871.2 705.7 872.2 706.7 873.2 707.4 874.2 707.8 875.2 708.0 876.2 708.1 877.2 708.1 878.2 708.0 879.2 707.8 880.2 707.3 881.2 706.6 882.2 705.6 883.2 704.7 883.3 704.6 883.8 704.5 884.2 704.6 884.3 704.6 885.2 705.4 886.2 706.5 887.2 707.3 888.2 707.8 889.2 708.0 890.2 708.2 891.2 708.2 892.2 708.2 893.2 708.1 894.2 707.9 895.2 707.6 896.2 707.1 897.2 706.6 897.3 706.6 897.8 706.5 898.2 706.5 898.3 706.6 899.2 707.0 900.2 707.5 901.2 707.8 902.2 708.0 903.2 708.1 904.2 708.1 905.2 708.0 906.2 707.9 907.2 707.5 908.2 706.9 909.2 705.9 910.2 704.7 911.1 703.7 911.2 703.6 911.6 703.5 912.1 703.6 912.2 703.7 913.2 704.8 914.2 705.9 915.2 706.7 916.2 707.1 917.2 707.2 918.2 707.1 919.2 706.8 920.2 706.2 921.2 705.0 922.2 702.9 923.2 699.4 924.2 695.2 924.6 693.9 925.1 693.2 925.2 693.2 925.6 693.8 926.2 695.7 927.2 699.6 928.2 702.6 929.2 704.2 930.2 705.0 931.2 705.3 932.2 705.3 933.2 705.1 934.2 704.9 935.2 704.7 936.2 704.4 937.2 704.2 938.2 703.9 939.2 703.7 940.2 703.6 940.5 703.5 941.0 703.5 941.2 703.5 941.5 703.5 942.2 703.5 943.2 703.5 944.2 703.6 945.2 703.6 946.2 703.6 947.2 703.3 948.2 702.5 949.2 701.0 950.2 698.5 951.2 695.2 952.2 692.1 952.4 691.7 952.9 691.4 953.2 691.7 953.4 692.0 954.2 694.5 955.2 698.4 956.2 701.8 957.2 704.2 958.2 705.8 959.2 706.8 960.2 707.4 961.2 707.8 962.2 708.1 963.2 708.3 964.2 708.5 965.2 708.7 966.2 708.8 967.2 708.9 968.2 709.0 969.2 709.0 970.2 709.1 971.2 709.1 972.2 709.1 973.2 709.0 974.2 708.8 975.2 708.5 976.2 707.9 977.2 707.2 978.1 706.6 978.2 706.6 978.6 706.5 979.1 706.6 979.2 706.7 980.2 707.4 981.2 708.1 982.2 708.7 983.2 709.0 984.2 709.1 985.2 709.2 986.2 709.1 987.2 708.8 988.2 708.3 989.2 707.4 990.2 706.1 991.2 704.8 991.4 704.7 991.9 704.5 992.2 704.6 992.4 704.7 993.2 705.6 994.2 707.1 995.2 708.2 996.2 709.0 997.2 709.4 998.2 709.6 999.2 709.8 1000.2 709.9 1001.2 710.0 1002.2 710.0 1003.2 710.1 1004.2 710.1 1005.2 710.1 1006.2 710.2 1007.2 710.2 1008.2 710.2 1009.2 710.1 1010.2 710.1 1011.2 710.0 1012.2 709.9 1013.2 709.6 1014.2 709.1 1015.2 708.3 1016.2 707.0 1017.2 705.4 1017.8 704.7 1018.2 704.5 1018.3 704.5 1018.8 704.7 1019.2 705.2 1020.2 706.7 1021.2 708.2 1022.2 709.1 1023.2 709.7 1024.2 710.1 1025.2 710.3 1026.2 710.4 1027.2 710.5 1028.2 710.5 1029.2 710.6 1030.2 710.6 1031.2 710.7 1032.2 710.7 1033.2 710.7 1034.2 710.6 1035.2 710.6 1036.2 710.5 1037.2 710.4 1038.2 710.2 1039.2 709.9 1040.2 709.3 1041.2 708.2 1042.2 706.7 1043.2 705.1 1043.5 704.7 1044.0 704.5 1044.2 704.5 1044.5 704.7 1045.2 705.6 1046.2 707.2 1047.2 708.5 1048.2 709.3 1049.2 709.7 1050.2 709.8 1051.2 709.6 1052.2 709.0 1053.2 707.8 1054.2 705.8 1055.2 703.2 1056.2 700.9 1056.7 700.5 1057.2 700.9 1058.2 703.3" stroke="#ff0000"/>
<path d="M72.2 675.9L73.2 675.9 74.2 675.9 75.2 675.9 76.2 675.9 77.2 675.9 78.2 675.9 79.2 675.9 80.2 675.9 81.2 675.9 82.2 675.9 83.2 675.9 84.2 675.9 85.2 675.9 86.2 675.9 87.2 675.9 88.2 675.9 89.2 675.9 90.2 675.9 91.2 675.9 92.2 675.9 93.2 675.9 94.2 675.9 95.2 675.9 96.2 675.9 97.2 675.9 98.2 675.9 99.2 675.9 100.2 675.9 101.2 675.9 102.2 675.9 103.2 675.9 104.2 675.9 105.2 676.0 106.2 676.0 107.2 676.0 108.2 676.0 109.2 676.0 110.2 676.0 111.2 676.0 112.2 676.0 113.2 676.0 114.2 676.0 115.2 676.0 116.2 676.0 117.2 676.0 118.2 676.0 119.2 676.0 120.2 676.0 121.2 676.0 122.2 676.0 123.2 676.0 124.2 676.0 125.2 676.0 126.2 676.0 127.2 676.0 128.2 676.0 129.2 676.0 130.2 676.0 131.2 676.0 132.2 676.0 133.2 676.0 134.2 676.0 135.2 676.0 136.2 676.0 137.2 676.0 138.2 676.0 139.2 676.0 140.2 676.0 141.2 676.0 142.2 676.0 143.2 676.0 144.2 676.0 145.2 676.0 146.2 676.0 147.2 676.0 148.2 676.0 149.2 676.0 150.2 676.0 151.2 676.0 152.2 676.0 153.2 676.0 154.2 676.0 155.2 676.0 156.2 676.0 157.2 676.0 158.2 676.0 159.2 676.0 160.2 676.0 161.2 676.0 162.2 676.0 163.2 676.0 164.2 676.0 165.2 676.0 166.2 676.0 167.2 676.0 168.2 675.9 169.2 675.9 170.2 675.9 171.2 675.9 172.2 675.9 173.2 675.8 174.2 675.8 175.2 675.8 176.2 675.7 177.2 675.6 178.2 675.5 179.2 675.4 180.2 675.2 181.2 675.0 182.2 674.5 183.2 673.7 184.2 672.2 185.2 669.7 186.2 666.3 187.2 662.9 187.4 662.5 187.9 662.0 188.2 662.2 188.4 662.5 189.2 664.8 190.2 668.4 191.2 671.3 192.2 673.2 193.2 674.2 194.2 674.8 195.2 675.1 196.2 675.4 197.2 675.5 198.2 675.6 199.2 675.7 200.2 675.8 201.2 675.8 202.2 675.9 203.2 675.9 204.2 675.9 205.2 675.9 206.2 676.0 207.2 676.0 208.2 676.0 209.2 676.0 210.2 676.0 211.2 676.0 212.2 676.0 213.2 676.0 214.2 676.0 215.2 676.0 216.2 676.0 217.2 676.0 218.2 676.0 219.2 676.0 220.2 676.0 221.2 676.0 222.2 676.0 223.2 676.0 224.2 676.0 225.2 676.0 226.2 676.0 227.2 676.0 228.2 676.0 229.2 676.0 230.2 675.9 231.2 675.9 232.2 675.9 233.2 675.9 234.2 675.9 235.2 675.9 236.2 675.9 237.2 675.9 238.2 675.9 239.2 675.8 240.2 675.8 241.2 675.8 242.2 675.8 243.2 675.8 244.2 675.8 245.2 675.8 246.2 675.7 247.2 675.7 248.2 675.7 249.2 675.7 250.2 675.7 251.2 675.7 252.2 675.6 253.2 675.6 254.2 675.6 255.2 675.6 256.2 675.6 257.2 675.6 258.2 675.5 259.2 675.5 260.2 675.5 261.2 675.5 262.2 675.5 263.2 675.4 264.2 675.4 265.2 675.4 266.2 675.4 267.2 675.3 268.2 675.3 269.2 675.3 270.2 675.2 271.2 675.2 272.2 675.2 273.2 675.1 274.2 675.1 275.2 675.0 276.2 675.0 277.2 674.9 278.2 674.9 279.2 674.8 280.2 674.8 281.2 674.7 282.2 674.6 283.2 674.5 284.2 674.4 285.2 674.3 286.2 674.2 287.2 674.0 288.2 673.8 289.2 673.6 290.2 673.4 291.2 673.1 292.2 672.8 293.2 672.4 294.2 672.0 295.2 671.4 296.2 670.6 297.2 669.7 298.2 668.5 299.2 666.8 300.2 664.4 301.2 660.6 302.2 654.0 303.2 641.9 304.2 620.6 305.2 587.7 306.2 546.8 307.0 520.5 307.2 517.0 307.5 515.0 308.0 520.5 308.2 525.5 309.2 563.3 310.2 602.2 311.2 630.4 312.2 647.5 313.2 657.0 314.2 662.2 315.2 665.3 316.2 667.3 317.2 668.8 318.2 669.9 319.2 670.7 320.2 671.4 321.2 671.9 322.2 672.3 323.2 672.6 324.2 672.9 325.2 673.1 326.2 673.3 327.2 673.5 328.2 673.6 329.2 673.7 330.2 673.8 331.2 673.8 332.2 673.9 333.2 673.8 334.2 673.7 335.2 673.4 336.2 672.9 337.2 672.3 338.2 671.7 338.7 671.6 339.2 671.7 340.2 672.3 341.2 673.0 342.2 673.6 343.2 673.9 344.2 674.1 345.2 674.2 346.2 674.2 347.2 674.3 348.2 674.3 349.2 674.3 350.2 674.3 351.2 674.2 352.2 674.2 353.2 674.1 354.2 674.0 355.2 674.0 356.2 673.8 357.2 673.7 358.2 673.5 359.2 673.2 360.2 672.9 361.2 672.4 362.2 671.8 363.2 670.8 364.2 669.0 365.2 665.6 366.2 659.1 367.2 648.0 368.2 633.3 368.9 624.7 369.2 622.9 369.4 622.5 369.9 624.7 370.2 627.8 371.2 642.3 372.2 655.2 373.2 663.4 374.2 667.9 375.2 670.1 376.2 671.4 377.2 672.1 378.2 672.6 379.2 673.0 380.2 673.3 381.2 673.5 382.2 673.6 383.2 673.7 384.2 673.8 385.2 673.9 386.2 673.9 387.2 673.9 388.2 673.9 389.2 673.9 390.2 673.8 391.2 673.6 392.2 673.4 393.2 672.9 394.2 672.0 395.2 670.4 396.2 668.2 397.2 666.0 397.5 665.5 398.0 665.2 398.2 665.3 398.5 665.5 399.2 666.8 400.2 669.2 401.2 671.2 402.2 672.5 403.2 673.2 404.2 673.6 405.2 673.8 406.2 674.0 407.2 674.1 408.2 674.1 409.2 674.2 410.2 674.2 411.2 674.2 412.2 674.2 413.2 674.2 414.2 674.2 415.2 674.2 416.2 674.2 417.2 674.2 418.2 674.1 419.2 674.0 420.2 673.9 421.2 673.6 422.2 673.1 423.2 672.4 424.2 671.7 424.5 671.6 425.0 671.5 425.2 671.5 425.5 671.6 426.2 672.0 427.2 672.7 428.2 673.3 429.2 673.7 430.2 673.9 431.2 674.0 432.2 674.0 433.2 674.1 434.2 674.1 435.2 674.1 436.2 674.1 437.2 674.1 438.2 674.0 439.2 674.0 440.2 674.0 441.2 673.9 442.2 673.8 443.2 673.7 444.2 673.6 445.2 673.3 446.2 672.9 447.2 672.0 448.2 670.8 449.2 669.1 450.2 667.6 450.7 667.4 451.2 667.6 452.2 669.0 453.2 670.7 454.2 671.9 455.2 672.7 456.2 673.1 457.2 673.3 458.2 673.5 459.2 673.5 460.2 673.6 461.2 673.6 462.2 673.6 463.2 673.6 464.2 673.5 465.2 673.5 466.2 673.5 467.2 673.4 468.2 673.4 469.2 673.3 470.2 673.1 471.2 672.8 472.2 672.4 473.2 671.8 474.2 671.2 474.7 670.9 475.2 670.8 475.7 670.8 476.2 671.0 477.2 671.6 478.2 672.0 479.2 672.3 480.2 672.5 481.2 672.5 482.2 672.4 483.2 672.3 484.2 672.1 485.2 671.8 486.2 671.5 487.2 671.0 488.2 670.4 489.2 669.5 490.2 668.3 491.2 666.7 492.2 664.6 493.2 661.9 494.2 658.5 495.2 654.5 496.2 650.0 497.2 645.0 498.2 639.7 499.2 634.6 500.2 629.9 501.2 626.1 502.2 623.8 502.5 623.4 503.0 623.2 503.2 623.2 503.5 623.4 504.2 624.5 505.2 627.4 506.2 631.6 507.2 636.5 508.2 641.7 509.2 646.8 510.2 651.7 511.2 656.0 512.2 659.7 513.2 662.7 514.2 665.1 515.2 667.0 516.2 668.5 517.2 669.5 518.2 670.3 519.2 670.8 520.2 671.2 521.2 671.5 522.2 671.7 523.2 671.8 524.2 671.9 525.2 672.0 526.2 672.1 527.2 672.1 528.2 672.2 529.2 672.2 530.2 672.2 531.2 672.2 532.2 672.2 533.2 672.2 534.2 672.1 535.2 672.1 536.2 672.0 537.2 671.8 538.2 671.6 539.2 671.1 540.2 670.4 541.2 669.3 542.2 667.9 542.9 667.2 543.2 667.0 543.4 667.0 543.9 667.1 544.2 667.4 545.2 668.5 546.2 669.6 547.2 670.4 548.2 670.8 549.2 671.0 550.2 671.0 551.2 670.9 552.2 670.8 553.2 670.6 554.2 670.3 555.2 669.9 556.2 669.5 557.2 668.8 558.2 667.8 559.2 666.3 560.2 663.6 561.2 658.2 562.2 648.3 563.2 632.8 564.2 615.4 564.5 611.7 565.0 609.0 565.2 609.4 565.5 611.6 566.2 621.9 567.2 639.4 568.2 652.6 569.2 660.4 570.2 664.5 571.2 666.5 572.2 667.7 573.2 668.4 574.2 668.9 575.2 669.3 576.2 669.5 577.2 669.7 578.2 669.7 579.2 669.7 580.2 669.6 581.2 669.2 582.2 668.6 583.2 667.7 584.2 666.8 584.3 666.8 584.8 666.7 585.2 666.8 585.3 666.8 586.2 667.6 587.2 668.5 588.2 669.3 589.2 669.8 590.2 670.1 591.2 670.2 592.2 670.3 593.2 670.4 594.2 670.4 595.2 670.4 596.2 670.4 597.2 670.5 598.2 670.5 599.2 670.5 600.2 670.5 601.2 670.5 602.2 670.5 603.2 670.5 604.2 670.5 605.2 670.5 606.2 670.5 607.2 670.5 608.2 670.5 609.2 670.5 610.2 670.5 611.2 670.5 612.2 670.5 613.2 670.4 614.2 670.4 615.2 670.4 616.2 670.3 617.2 670.2 618.2 670.1 619.2 669.9 620.2 669.5 621.2 668.9 622.2 667.7 623.2 666.0 624.2 664.1 624.8 663.2 625.2 662.9 625.3 662.9 625.8 663.2 626.2 663.7 627.2 665.6 628.2 667.4 629.2 668.6 630.2 669.4 631.2 669.8 632.2 670.0 633.2 670.1 634.2 670.2 635.2 670.2 636.2 670.2 637.2 670.2 638.2 670.2 639.2 670.1 640.2 669.9 641.2 669.6 642.2 669.1 643.2 668.6 643.6 668.4 644.1 668.3 644.2 668.3 644.6 668.4 645.2 668.6 646.2 669.2 647.2 669.6 648.2 669.9 649.2 670.1 650.2 670.1 651.2 670.1 652.2 670.1 653.2 670.1 654.2 670.0 655.2 669.9 656.2 669.8 657.2 669.5 658.2 669.0 659.2 668.1 660.2 666.7 661.2 665.0 662.0 663.9 662.2 663.7 662.5 663.6 663.0 663.8 663.2 664.0 664.2 665.5 665.2 667.0 666.2 668.1 667.2 668.6 668.2 668.9 669.2 668.9 670.2 668.8 671.2 668.6 672.2 668.3 673.2 667.7 674.2 667.0 675.2 665.7 676.2 663.2 677.2 658.5 678.2 649.8 679.2 636.4 680.2 622.2 680.4 620.2 680.9 618.0 681.2 618.8 681.4 620.2 682.2 630.3 683.2 644.9 684.2 655.5 685.2 661.6 686.2 664.8 687.2 666.4 688.2 667.3 689.2 667.9 690.2 668.2 691.2 668.4 692.2 668.5 693.2 668.3 694.2 667.8 695.2 666.7 696.2 664.9 697.2 662.5 698.2 660.2 698.3 660.0 698.8 659.7 699.2 659.9 699.3 660.1 700.2 662.1 701.2 664.7 702.2 666.7 703.2 668.0 704.2 668.7 705.2 669.1 706.2 669.3 707.2 669.3 708.2 669.3 709.2 669.1 710.2 668.8 711.2 668.2 712.2 667.0 713.2 664.9 714.2 662.0 715.2 659.0 715.5 658.4 716.0 658.0 716.2 658.1 716.5 658.4 717.2 660.2 718.2 663.3 719.2 666.0 720.2 667.7 721.2 668.7 722.2 669.2 723.2 669.5 724.2 669.6 725.2 669.7 726.2 669.8 727.2 669.7 728.2 669.6 729.2 669.3 730.2 668.6 731.2 667.6 732.2 666.3 733.1 665.3 733.2 665.3 733.6 665.1 734.1 665.3 734.2 665.4 735.2 666.6 736.2 667.9 737.2 668.9 738.2 669.5 739.2 669.8 740.2 670.0 741.2 670.0 742.2 670.1 743.2 670.1 744.2 670.0 745.2 669.8 746.2 669.5 747.2 669.0 748.2 668.2 749.2 667.3 749.5 667.2 750.0 667.1 750.2 667.1 750.5 667.2 751.2 667.7 752.2 668.5 753.2 669.2 754.2 669.7 755.2 669.9 756.2 670.1 757.2 670.1 758.2 670.1 759.2 670.1 760.2 670.0 761.2 669.8 762.2 669.4 763.2 668.8 764.2 667.7 765.2 666.3 766.2 665.1 766.7 664.9 767.2 665.0 768.2 666.2 769.2 667.5 770.2 668.5 771.2 669.1 772.2 669.4 773.2 669.5 774.2 669.6 775.2 669.6 776.2 669.5 777.2 669.4 778.2 669.2 779.2 668.9 780.2 668.4 781.2 667.7 782.1 667.3 782.2 667.2 782.6 667.2 783.1 667.2 783.2 667.2 784.2 667.7 785.2 668.2 786.2 668.5 787.2 668.7 788.2 668.8 789.2 668.8 790.2 668.8 791.2 668.8 792.2 668.7 793.2 668.7 794.2 668.7 795.2 668.6 796.2 668.6 797.2 668.6 798.2 668.5 799.2 668.5 800.2 668.5 801.2 668.5 802.2 668.5 803.2 668.5 804.2 668.4 805.2 668.4 806.2 668.4 807.2 668.4 808.2 668.4 809.2 668.3 810.2 668.3 811.2 668.3 812.2 668.3 813.2 668.3 814.2 668.2 815.2 668.2 816.2 668.2 817.2 668.2 818.2 668.1 819.2 668.1 820.2 668.0 821.2 668.0 822.2 667.9 823.2 667.7 824.2 667.5 825.2 667.1 826.2 666.4 827.2 665.4 828.2 664.4 828.5 664.2 829.0 664.0 829.2 664.0 829.5 664.2 830.2 664.7 831.2 665.7 832.2 666.5 833.2 667.0 834.2 667.3 835.2 667.4 836.2 667.4 837.2 667.4 838.2 667.3 839.2 667.0 840.2 666.6 841.2 665.8 842.2 664.6 843.2 663.3 843.6 663.0 844.1 662.8 844.2 662.8 844.6 663.0 845.2 663.5 846.2 664.8 847.2 665.9 848.2 666.6 849.2 666.9 850.2 667.1 851.2 667.2 852.2 667.1 853.2 667.0 854.2 666.8 855.2 666.2 856.2 665.4 857.2 664.1 858.2 662.9 858.4 662.8 858.9 662.6 859.2 662.7 859.4 662.8 860.2 663.6 861.2 664.9 862.2 665.9 863.2 666.5 864.2 666.9 865.2 667.0 866.2 667.1 867.2 667.1 868.2 667.0 869.2 666.8 870.2 666.4 871.2 665.7 872.2 664.8 873.2 663.8 873.5 663.5 874.0 663.4 874.2 663.4 874.5 663.5 875.2 664.1 876.2 665.1 877.2 666.0 878.2 666.5 879.2 666.8 880.2 667.0 881.2 667.0 882.2 667.0 883.2 666.8 884.2 666.6 885.2 666.1 886.2 665.2 887.2 664.2 888.1 663.4 888.2 663.3 888.6 663.2 889.1 663.4 889.2 663.4 890.2 664.4 891.2 665.4 892.2 666.2 893.2 666.6 894.2 666.8 895.2 666.9 896.2 667.0 897.2 666.9 898.2 666.8 899.2 666.5 900.2 666.1 901.2 665.6 902.1 665.1 902.2 665.1 902.6 665.1 903.1 665.1 903.2 665.2 904.2 665.6 905.2 666.1 906.2 666.5 907.2 666.7 908.2 666.8 909.2 666.8 910.2 666.7 911.2 666.6 912.2 666.3 913.2 665.9 914.2 665.1 915.2 663.9 916.2 662.6 916.7 662.1 917.2 661.9 917.7 662.1 918.2 662.5 919.2 663.7 920.2 664.8 921.2 665.4 922.2 665.8 923.2 665.9 924.2 665.8 925.2 665.5 926.2 665.0 927.2 663.9 928.2 662.0 929.2 659.0 930.2 655.6 930.5 654.9 931.0 654.3 931.2 654.4 931.5 654.7 932.2 656.5 933.2 659.7 934.2 662.0 935.2 663.2 936.2 663.7 937.2 663.8 938.2 663.7 939.2 663.5 940.2 663.3 941.2 663.0 942.2 662.7 943.2 662.4 944.2 662.1 945.2 661.9 946.2 661.7 946.5 661.7 947.0 661.6 947.2 661.6 947.5 661.6 948.2 661.6 949.2 661.6 950.2 661.6 951.2 661.5 952.2 661.3 953.2 660.6 954.2 659.3 955.2 657.0 956.2 654.0 957.2 651.1 957.5 650.6 958.0 650.3 958.2 650.4 958.5 650.9 959.2 652.8 960.2 656.4 961.2 659.7 962.2 662.1 963.2 663.6 964.2 664.5 965.2 665.1 966.2 665.5 967.2 665.8 968.2 666.0 969.2 666.1 970.2 666.3 971.2 666.4 972.2 666.5 973.2 666.5 974.2 666.6 975.2 666.6 976.2 666.6 977.2 666.6 978.2 666.5 979.2 666.4 980.2 666.2 981.2 665.7 982.2 665.1 983.2 664.6 983.4 664.5 983.9 664.4 984.2 664.4 984.4 664.5 985.2 664.9 986.2 665.5 987.2 666.0 988.2 666.3 989.2 666.5 990.2 666.5 991.2 666.5 992.2 666.5 993.2 666.3 994.2 666.0 995.2 665.4 996.2 664.4 997.2 663.2 998.0 662.5 998.2 662.4 998.5 662.3 999.0 662.5 999.2 662.6 1000.2 663.7 1001.2 664.9 1002.2 665.7 1003.2 666.2 1004.2 666.4 1005.2 666.6 1006.2 666.7 1007.2 666.7 1008.2 666.8 1009.2 666.8 1010.2 666.8 1011.2 666.8 1012.2 666.8 1013.2 666.8 1014.2 666.7 1015.2 666.7 1016.2 666.6 1017.2 666.6 1018.2 666.4 1019.2 666.2 1020.2 665.8 1021.2 665.1 1022.2 664.0 1023.2 662.8 1023.7 662.4 1024.2 662.2 1024.7 662.4 1025.2 662.8 1026.2 664.0 1027.2 665.0 1028.2 665.7 1029.2 666.1 1030.2 666.3 1031.2 666.4 1032.2 666.5 1033.2 666.5 1034.2 666.6 1035.2 666.6 1036.2 666.6 1037.2 666.6 1038.2 666.5 1039.2 666.5 1040.2 666.5 1041.2 666.4 1042.2 666.4 1043.2 666.3 1044.2 666.2 1045.2 665.9 1046.2 665.4 1047.2 664.7 1048.2 663.7 1049.2 662.6 1049.5 662.4 1050.0 662.2 1050.2 662.2 1050.5 662.3 1051.2 662.9 1052.2 664.0 1053.2 665.0 1054.2 665.6 1055.2 665.9 1056.2 666.1 1057.2 666.2 1058.2 666.2" stroke="#0000ff"/>
<path d="M72.2 622.0L73.2 622.0 74.2 622.0 75.2 622.0 76.2 622.0 77.2 622.0 78.2 622.0 79.2 622.0 80.2 622.0 81.2 622.0 82.2 622.0 83.2 622.0 84.2 622.1 85.2 622.1 86.2 622.1 87.2 622.1 88.2 622.1 89.2 622.1 90.2 622.1 91.2 622.1 92.2 622.1 93.2 622.2 94.2 622.2 95.2 622.2 96.2 622.2 97.2 622.2 98.2 622.2 99.2 622.2 100.2 622.2 101.2 622.3 102.2 622.3 103.2 622.3 104.2 622.3 105.2 622.3 106.2 622.3 107.2 622.3 108.2 622.4 109.2 622.4 110.2 622.4 111.2 622.4 112.2 622.4 113.2 622.4 114.2 622.4 115.2 622.5 116.2 622.5 117.2 622.5 118.2 622.5 119.2 622.5 120.2 622.5 121.2 622.5 122.2 622.5 123.2 622.5 124.2 622.6 125.2 622.6 126.2 622.6 127.2 622.6 128.2 622.6 129.2 622.6 130.2 622.6 131.2 622.6 132.2 622.6 133.2 622.6 134.2 622.6 135.2 622.6 136.2 622.6 137.2 622.6 138.2 622.6 139.2 622.7 140.2 622.7 141.2 622.7 142.2 622.7 143.2 622.7 144.2 622.7 145.2 622.7 146.2 622.7 147.2 622.7 148.2 622.7 149.2 622.7 150.2 622.7 151.2 622.7 152.2 622.7 153.2 622.7 154.2 622.7 155.2 622.7 156.2 622.7 157.2 622.7 158.2 622.7 159.2 622.7 160.2 622.7 161.2 622.7 162.2 622.7 163.2 622.7 164.2 622.7 165.2 622.7 166.2 622.7 167.2 622.7 168.2 622.7 169.2 622.7 170.2 622.7 171.2 622.7 172.2 622.7 173.2 622.6 174.2 622.6 175.2 622.6 176.2 622.5 177.2 622.5 178.2 622.4 179.2 622.3 180.2 622.2 181.2 622.0 182.2 621.7 183.2 621.2 184.2 620.2 185.2 618.4 186.2 615.5 187.2 611.7 188.2 608.5 188.7 608.0 189.2 608.5 190.2 611.7 191.2 615.5 192.2 618.4 193.2 620.2 194.2 621.2 195.2 621.7 196.2 622.0 197.2 622.2 198.2 622.3 199.2 622.4 200.2 622.5 201.2 622.6 202.2 622.6 203.2 622.7 204.2 622.7 205.2 622.7 206.2 622.7 207.2 622.8 208.2 622.8 209.2 622.8 210.2 622.8 211.2 622.8 212.2 622.8 213.2 622.8 214.2 622.8 215.2 622.8 216.2 622.8 217.2 622.8 218.2 622.8 219.2 622.8 220.2 622.8 221.2 622.8 222.2 622.8 223.2 622.7 224.2 622.7 225.2 622.7 226.2 622.7 227.2 622.7 228.2 622.7 229.2 622.6 230.2 622.6 231.2 622.6 232.2 622.6 233.2 622.5 234.2 622.5 235.2 622.5 236.2 622.5 237.2 622.5 238.2 622.4 239.2 622.4 240.2 622.4 241.2 622.3 242.2 622.3 243.2 622.3 244.2 622.3 245.2 622.2 246.2 622.2 247.2 622.2 248.2 622.1 249.2 622.1 250.2 622.1 251.2 622.1 252.2 622.0 253.2 622.0 254.2 622.0 255.2 621.9 256.2 621.9 257.2 621.9 258.2 621.9 259.2 621.8 260.2 621.8 261.2 621.8 262.2 621.7 263.2 621.7 264.2 621.7 265.2 621.6 266.2 621.6 267.2 621.6 268.2 621.5 269.2 621.5 270.2 621.4 271.2 621.4 272.2 621.4 273.2 621.3 274.2 621.3 275.2 621.2 276.2 621.1 277.2 621.1 278.2 621.0 279.2 620.9 280.2 620.9 281.2 620.8 282.2 620.7 283.2 620.6 284.2 620.5 285.2 620.3 286.2 620.2 287.2 620.0 288.2 619.8 289.2 619.6 290.2 619.4 291.2 619.1 292.2 618.8 293.2 618.4 294.2 617.9 295.2 617.3 296.2 616.6 297.2 615.8 298.2 614.7 299.2 613.3 300.2 611.4 301.2 608.8 302.2 604.9 303.2 598.7 304.2 588.5 305.2 571.8 306.2 546.3 307.2 512.4 308.2 479.2 308.5 472.6 309.0 468.0 309.2 468.7 309.5 472.5 310.2 491.1 311.2 526.6 312.2 557.5 313.2 579.3 314.2 593.0 315.2 601.3 316.2 606.4 317.2 609.6 318.2 611.9 319.2 613.5 320.2 614.7 321.2 615.7 322.2 616.4 323.2 617.0 324.2 617.5 325.2 617.9 326.2 618.2 327.2 618.4 328.2 618.7 329.2 618.8 330.2 618.9 331.2 619.0 332.2 619.1 333.2 619.1 334.2 619.0 335.2 618.9 336.2 618.5 337.2 617.9 338.2 617.1 339.2 616.1 340.2 615.1 340.6 614.8 341.1 614.7 341.2 614.7 341.6 614.8 342.2 615.1 343.2 616.0 344.2 616.8 345.2 617.5 346.2 617.9 347.2 618.2 348.2 618.3 349.2 618.3 350.2 618.3 351.2 618.3 352.2 618.3 353.2 618.3 354.2 618.2 355.2 618.2 356.2 618.1 357.2 618.0 358.2 617.8 359.2 617.6 360.2 617.3 361.2 617.0 362.2 616.5 363.2 615.8 364.2 614.8 365.2 613.0 366.2 609.9 367.2 604.8 368.2 597.1 369.2 587.0 370.2 576.2 371.0 570.2 371.2 569.4 371.5 569.0 372.0 570.2 372.2 571.3 373.2 580.5 374.2 591.4 375.2 600.7 376.2 607.4 377.2 611.7 378.2 614.2 379.2 615.8 380.2 616.7 381.2 617.4 382.2 617.8 383.2 618.2 384.2 618.5 385.2 618.7 386.2 618.8 387.2 619.0 388.2 619.1 389.2 619.1 390.2 619.1 391.2 619.1 392.2 619.0 393.2 618.8 394.2 618.5 395.2 618.0 396.2 617.1 397.2 615.7 398.2 613.8 399.2 612.3 399.7 612.0 400.2 612.2 401.2 613.5 402.2 615.1 403.2 616.4 404.2 617.1 405.2 617.5 406.2 617.7 407.2 617.8 408.2 617.9 409.2 617.8 410.2 617.7 411.2 617.4 412.2 616.9 413.2 616.2 414.2 615.7 414.7 615.6 415.2 615.7 416.2 616.4 417.2 617.2 418.2 617.8 419.2 618.2 420.2 618.5 421.2 618.6 422.2 618.7 423.2 618.8 424.2 618.9 425.2 618.9 426.2 619.0 427.2 619.0 428.2 619.1 429.2 619.1 430.2 619.1 431.2 619.1 432.2 619.1 433.2 619.0 434.2 618.9 435.2 618.8 436.2 618.7 437.2 618.5 438.2 618.4 439.2 618.3 440.2 618.1 441.2 618.0 442.2 617.9 443.2 617.8 444.2 617.8 445.2 617.7 446.2 617.7 447.2 617.5 448.2 617.3 449.2 616.8 450.2 616.0 451.2 614.7 452.2 613.3 452.8 612.7 453.2 612.5 453.3 612.5 453.8 612.7 454.2 613.1 455.2 614.5 456.2 615.8 457.2 616.7 458.2 617.2 459.2 617.5 460.2 617.7 461.2 617.8 462.2 617.8 463.2 617.9 464.2 617.9 465.2 617.9 466.2 617.9 467.2 618.0 468.2 618.0 469.2 618.0 470.2 618.0 471.2 618.0 472.2 618.0 473.2 617.9 474.2 617.9 475.2 617.9 476.2 617.9 477.2 617.8 478.2 617.8 479.2 617.8 480.2 617.7 481.2 617.6 482.2 617.5 483.2 617.3 484.2 617.1 485.2 616.6 486.2 615.9 487.2 615.0 488.2 614.1 488.4 614.0 488.9 613.8 489.2 613.8 489.4 613.8 490.2 614.1 491.2 614.6 492.2 614.9 493.2 614.7 494.2 614.1 495.2 613.2 496.2 611.7 497.2 609.9 498.2 607.6 499.2 604.8 500.2 601.6 501.2 598.1 502.2 594.6 503.2 591.3 504.2 588.5 505.2 586.7 505.6 586.3 506.1 586.1 506.2 586.1 506.6 586.2 507.2 586.8 508.2 588.7 509.2 591.5 510.2 594.7 511.2 598.1 512.2 601.4 513.2 604.4 514.2 606.9 515.2 609.1 516.2 610.7 517.2 612.0 518.2 612.9 519.2 613.5 520.2 613.9 521.2 614.2 522.2 614.4 523.2 614.5 524.2 614.6 525.2 614.6 526.2 614.6 527.2 614.6 528.2 614.5 529.2 614.5 530.2 614.4 531.2 614.4 532.2 614.3 533.2 614.2 534.2 614.1 535.2 614.0 536.2 614.0 537.2 613.9 538.2 613.8 539.2 613.8 540.2 613.8 541.2 613.7 542.2 613.6 543.2 613.4 544.2 613.1 545.2 612.5 546.2 611.9 546.5 611.8 547.0 611.8 547.2 611.8 547.5 612.0 548.2 612.4 549.2 613.3 550.2 614.0 551.2 614.5 552.2 614.7 553.2 614.8 554.2 614.8 555.2 614.7 556.2 614.4 557.2 614.0 558.2 613.3 559.2 612.4 560.2 611.1 561.2 608.9 562.2 605.2 563.2 599.5 564.2 591.2 565.2 580.3 566.2 568.1 567.2 558.4 567.4 557.2 567.9 556.0 568.2 556.5 568.4 557.2 569.2 563.6 570.2 575.4 571.2 587.1 572.2 596.5 573.2 603.2 574.2 607.6 575.2 610.3 576.2 611.9 577.2 613.0 578.2 613.7 579.2 614.2 580.2 614.6 581.2 614.9 582.2 615.1 583.2 615.2 584.2 615.1 585.2 614.9 586.2 614.4 587.2 613.7 588.2 613.1 588.7 613.0 589.2 613.2 590.2 613.9 591.2 614.8 592.2 615.4 593.2 615.9 594.2 616.1 595.2 616.2 596.2 616.3 597.2 616.4 598.2 616.4 599.2 616.5 600.2 616.5 601.2 616.5 602.2 616.5 603.2 616.6 604.2 616.6 605.2 616.6 606.2 616.6 607.2 616.6 608.2 616.6 609.2 616.6 610.2 616.6 611.2 616.6 612.2 616.6 613.2 616.5 614.2 616.5 615.2 616.5 616.2 616.5 617.2 616.4 618.2 616.4 619.2 616.3 620.2 616.3 621.2 616.2 622.2 616.0 623.2 615.7 624.2 615.2 625.2 614.3 626.2 612.7 627.2 610.7 628.2 608.9 628.3 608.8 628.8 608.5 629.2 608.7 629.3 608.8 630.2 610.3 631.2 612.3 632.2 613.9 633.2 615.0 634.2 615.5 635.2 615.8 636.2 616.0 637.2 616.0 638.2 616.1 639.2 616.1 640.2 616.2 641.2 616.2 642.2 616.2 643.2 616.2 644.2 616.2 645.2 616.1 646.2 616.1 647.2 616.1 648.2 616.1 649.2 616.0 650.2 616.0 651.2 615.9 652.2 615.9 653.2 615.8 654.2 615.7 655.2 615.7 656.2 615.5 657.2 615.4 658.2 615.2 659.2 614.9 660.2 614.5 661.2 613.8 662.2 612.7 663.2 611.3 664.2 609.6 665.2 608.3 665.3 608.2 665.8 608.0 666.2 608.1 666.3 608.1 667.2 609.0 668.2 610.4 669.2 611.6 670.2 612.5 671.2 612.9 672.2 613.1 673.2 613.0 674.2 612.7 675.2 612.3 676.2 611.7 677.2 610.7 678.2 609.1 679.2 606.4 680.2 602.3 681.2 596.2 682.2 588.1 683.2 579.0 684.2 571.3 684.5 569.9 685.0 568.9 685.2 569.0 685.5 569.8 686.2 573.8 687.2 582.4 688.2 591.2 689.2 598.3 690.2 603.5 691.2 606.8 692.2 608.8 693.2 610.0 694.2 610.7 695.2 611.0 696.2 611.2 697.2 611.0 698.2 610.3 699.2 609.1 700.2 607.4 701.2 605.7 701.4 605.5 701.9 605.3 702.2 605.4 702.4 605.6 703.2 606.8 704.2 608.7 705.2 610.2 706.2 611.2 707.2 611.7 708.2 612.0 709.2 612.1 710.2 612.1 711.2 612.0 712.2 611.9 713.2 611.8 714.2 611.5 715.2 611.0 716.2 610.0 717.2 608.5 718.2 606.3 719.2 604.3 719.4 604.0 719.9 603.7 720.2 603.8 720.4 604.0 721.2 605.3 722.2 607.5 723.2 609.2 724.2 610.3 725.2 610.9 726.2 611.2 727.2 611.4 728.2 611.4 729.2 611.5 730.2 611.5 731.2 611.5 732.2 611.4 733.2 611.3 734.2 611.1 735.2 610.9 736.2 610.7 736.5 610.6 737.0 610.6 737.2 610.6 737.5 610.6 738.2 610.7 739.2 610.9 740.2 611.1 741.2 611.1 742.2 611.2 743.2 611.2 744.2 611.2 745.2 611.2 746.2 611.2 747.2 611.1 748.2 611.1 749.2 611.1 750.2 611.1 751.2 611.1 752.2 611.1 753.2 611.1 754.2 611.0 755.2 611.0 756.2 611.0 757.2 611.0 758.2 611.0 759.2 611.0 760.2 611.0 761.2 611.0 762.2 611.0 763.2 611.0 764.2 610.9 765.2 610.9 766.2 610.8 767.2 610.5 768.2 610.2 769.2 609.9 769.5 609.8 770.0 609.8 770.2 609.8 770.5 609.9 771.2 610.1 772.2 610.5 773.2 610.8 774.2 611.0 775.2 611.2 776.2 611.2 777.2 611.3 778.2 611.4 779.2 611.4 780.2 611.4 781.2 611.5 782.2 611.5 783.2 611.6 784.2 611.6 785.2 611.6 786.2 611.7 787.2 611.7 788.2 611.7 789.2 611.8 790.2 611.8 791.2 611.8 792.2 611.8 793.2 611.9 794.2 611.9 795.2 611.9 796.2 611.9 797.2 612.0 798.2 612.0 799.2 612.0 800.2 612.0 801.2 612.0 802.2 612.0 803.2 612.0 804.2 612.0 805.2 612.1 806.2 612.1 807.2 612.1 808.2 612.1 809.2 612.1 810.2 612.1 811.2 612.1 812.2 612.1 813.2 612.1 814.2 612.1 815.2 612.1 816.2 612.1 817.2 612.1 818.2 612.1 819.2 612.1 820.2 612.1 821.2 612.1 822.2 612.1 823.2 612.1 824.2 612.1 825.2 612.0 826.2 611.9 827.2 611.8 828.2 611.6 829.2 611.2 830.2 610.4 831.2 609.4 832.2 608.4 832.5 608.1 833.0 608.0 833.2 608.0 833.5 608.1 834.2 608.7 835.2 609.8 836.2 610.7 837.2 611.3 838.2 611.7 839.2 611.8 840.2 611.9 841.2 611.9 842.2 611.9 843.2 611.8 844.2 611.6 845.2 611.2 846.2 610.4 847.2 609.3 848.2 607.9 848.9 607.2 849.2 607.0 849.4 607.0 849.9 607.2 850.2 607.4 851.2 608.7 852.2 610.0 853.2 610.9 854.2 611.4 855.2 611.7 856.2 611.8 857.2 611.8 858.2 611.7 859.2 611.5 860.2 611.1 861.2 610.2 862.2 609.0 863.2 607.7 863.7 607.2 864.2 607.0 864.7 607.2 865.2 607.7 866.2 609.0 867.2 610.3 868.2 611.1 869.2 611.6 870.2 611.8 871.2 611.9 872.2 611.9 873.2 611.8 874.2 611.5 875.2 610.9 876.2 610.0 877.2 608.9 878.0 608.1 878.2 608.1 878.5 608.0 879.0 608.2 879.2 608.3 880.2 609.3 881.2 610.4 882.2 611.2 883.2 611.7 884.2 611.9 885.2 612.0 886.2 612.0 887.2 612.0 888.2 611.8 889.2 611.4 890.2 610.8 891.2 609.8 892.2 608.7 892.8 608.2 893.2 608.0 893.3 608.0 893.8 608.2 894.2 608.5 895.2 609.6 896.2 610.6 897.2 611.3 898.2 611.7 899.2 611.9 900.2 612.0 901.2 612.0 902.2 611.9 903.2 611.6 904.2 611.1 905.2 610.5 906.1 610.1 906.2 610.1 906.6 610.0 907.1 610.1 907.2 610.1 908.2 610.6 909.2 611.2 910.2 611.6 911.2 611.9 912.2 612.0 913.2 612.0 914.2 612.0 915.2 611.9 916.2 611.7 917.2 611.3 918.2 610.7 919.2 609.7 920.2 608.3 921.2 607.2 921.7 607.0 922.2 607.1 923.2 608.2 924.2 609.4 925.2 610.3 926.2 610.8 927.2 611.0 928.2 611.0 929.2 610.8 930.2 610.3 931.2 609.3 932.2 607.6 933.2 605.0 934.2 601.8 935.0 599.8 935.2 599.5 935.5 599.3 936.0 599.6 936.2 600.0 937.2 602.6 938.2 605.4 939.2 607.4 940.2 608.4 941.2 608.9 942.2 609.0 943.2 608.9 944.2 608.8 945.2 608.6 946.2 608.4 947.2 608.3 948.2 608.1 949.2 608.0 949.5 608.0 950.0 608.0 950.2 608.0 950.5 608.0 951.2 608.0 952.2 608.1 953.2 608.1 954.2 608.2 955.2 608.2 956.2 608.1 957.2 607.8 958.2 607.0 959.2 605.6 960.2 603.6 961.2 601.1 962.2 599.0 962.4 598.8 962.9 598.6 963.2 598.8 963.4 599.0 964.2 600.6 965.2 603.4 966.2 606.1 967.2 608.1 968.2 609.5 969.2 610.3 970.2 610.9 971.2 611.2 972.2 611.4 973.2 611.6 974.2 611.7 975.2 611.8 976.2 611.9 977.2 612.0 978.2 612.0 979.2 612.1 980.2 612.1 981.2 612.2 982.2 612.2 983.2 612.2 984.2 612.2 985.2 612.3 986.2 612.3 987.2 612.3 988.2 612.3 989.2 612.3 990.2 612.3 991.2 612.3 992.2 612.3 993.2 612.3 994.2 612.3 995.2 612.2 996.2 612.2 997.2 612.1 998.2 612.0 999.2 611.8 1000.2 611.4 1001.2 610.8 1002.2 609.9 1003.2 609.2 1003.3 609.1 1003.8 609.0 1004.2 609.1 1004.3 609.1 1005.2 609.8 1006.2 610.6 1007.2 611.3 1008.2 611.7 1009.2 612.0 1010.2 612.1 1011.2 612.2 1012.2 612.2 1013.2 612.2 1014.2 612.3 1015.2 612.3 1016.2 612.3 1017.2 612.3 1018.2 612.2 1019.2 612.2 1020.2 612.2 1021.2 612.2 1022.2 612.1 1023.2 612.0 1024.2 611.8 1025.2 611.4 1026.2 610.8 1027.2 610.0 1028.2 609.2 1028.4 609.1 1028.9 609.0 1029.2 609.0 1029.4 609.1 1030.2 609.6 1031.2 610.5 1032.2 611.2 1033.2 611.6 1034.2 611.9 1035.2 612.0 1036.2 612.1 1037.2 612.1 1038.2 612.1 1039.2 612.1 1040.2 612.1 1041.2 612.1 1042.2 612.0 1043.2 612.0 1044.2 611.9 1045.2 611.7 1046.2 611.4 1047.2 610.8 1048.2 610.1 1049.2 609.3 1049.5 609.1 1050.0 609.0 1050.2 609.0 1050.5 609.1 1051.2 609.5 1052.2 610.4 1053.2 611.1 1054.2 611.5 1055.2 611.8 1056.2 611.9 1057.2 612.0 1058.2 612.0" stroke="#800080"/>
<path d="M72.2 587.0L73.2 587.0 74.2 587.0 75.2 587.0 76.2 587.0 77.2 587.0 78.2 587.0 79.2 587.0 80.2 587.0 81.2 587.1 82.2 587.1 83.2 587.1 84.2 587.1 85.2 587.1 86.2 587.1 87.2 587.1 88.2 587.2 89.2 587.2 90.2 587.2 91.2 587.2 92.2 587.2 93.2 587.3 94.2 587.3 95.2 587.3 96.2 587.3 97.2 587.3 98.2 587.4 99.2 587.4 100.2 587.4 101.2 587.4 102.2 587.5 103.2 587.5 104.2 587.5 105.2 587.5 106.2 587.5 107.2 587.6 108.2 587.6 109.2 587.6 110.2 587.6 111.2 587.7 112.2 587.7 113.2 587.7 114.2 587.7 115.2 587.7 116.2 587.8 117.2 587.8 118.2 587.8 119.2 587.8 120.2 587.9 121.2 587.9 122.2 587.9 123.2 587.9 124.2 587.9 125.2 587.9 126.2 588.0 127.2 588.0 128.2 588.0 129.2 588.0 130.2 588.0 131.2 588.0 132.2 588.0 133.2 588.0 134.2 588.0 135.2 588.1 136.2 588.1 137.2 588.1 138.2 588.1 139.2 588.1 140.2 588.1 141.2 588.1 142.2 588.1 143.2 588.1 144.2 588.2 145.2 588.2 146.2 588.2 147.2 588.2 148.2 588.2 149.2 588.2 150.2 588.2 151.2 588.2 152.2 588.2 153.2 588.2 154.2 588.2 155.2 588.3 156.2 588.3 157.2 588.3 158.2 588.3 159.2 588.3 160.2 588.3 161.2 588.3 162.2 588.3 163.2 588.3 164.2 588.3 165.2 588.3 166.2 588.3 167.2 588.3 168.2 588.3 169.2 588.3 170.2 588.3 171.2 588.3 172.2 588.3 173.2 588.3 174.2 588.3 175.2 588.2 176.2 588.2 177.2 588.2 178.2 588.1 179.2 588.0 180.2 587.9 181.2 587.8 182.2 587.5 183.2 587.1 184.2 586.2 185.2 584.5 186.2 581.6 187.2 577.7 188.2 573.8 188.5 573.0 189.0 572.5 189.2 572.6 189.5 573.0 190.2 575.2 191.2 579.4 192.2 583.0 193.2 585.4 194.2 586.7 195.2 587.4 196.2 587.7 197.2 587.9 198.2 588.1 199.2 588.2 200.2 588.2 201.2 588.3 202.2 588.3 203.2 588.4 204.2 588.4 205.2 588.4 206.2 588.5 207.2 588.5 208.2 588.5 209.2 588.5 210.2 588.5 211.2 588.5 212.2 588.5 213.2 588.5 214.2 588.5 215.2 588.5 216.2 588.5 217.2 588.5 218.2 588.5 219.2 588.5 220.2 588.4 221.2 588.4 222.2 588.4 223.2 588.4 224.2 588.3 225.2 588.3 226.2 588.3 227.2 588.3 228.2 588.2 229.2 588.2 230.2 588.2 231.2 588.1 232.2 588.1 233.2 588.1 234.2 588.0 235.2 588.0 236.2 588.0 237.2 587.9 238.2 587.9 239.2 587.8 240.2 587.8 241.2 587.8 242.2 587.7 243.2 587.7 244.2 587.6 245.2 587.6 246.2 587.6 247.2 587.5 248.2 587.5 249.2 587.4 250.2 587.4 251.2 587.4 252.2 587.3 253.2 587.3 254.2 587.2 255.2 587.2 256.2 587.2 257.2 587.1 258.2 587.1 259.2 587.0 260.2 587.0 261.2 587.0 262.2 586.9 263.2 586.9 264.2 586.8 265.2 586.8 266.2 586.8 267.2 586.7 268.2 586.7 269.2 586.6 270.2 586.6 271.2 586.5 272.2 586.5 273.2 586.4 274.2 586.4 275.2 586.3 276.2 586.3 277.2 586.2 278.2 586.1 279.2 586.1 280.2 586.0 281.2 585.9 282.2 585.8 283.2 585.7 284.2 585.6 285.2 585.5 286.2 585.3 287.2 585.2 288.2 585.0 289.2 584.8 290.2 584.6 291.2 584.4 292.2 584.1 293.2 583.8 294.2 583.4 295.2 583.0 296.2 582.5 297.2 581.9 298.2 581.1 299.2 580.1 300.2 578.9 301.2 577.4 302.2 575.3 303.2 572.5 304.2 568.2 305.2 561.4 306.2 550.2 307.2 531.9 308.2 503.9 309.2 466.7 310.2 430.3 310.5 423.0 311.0 418.0 311.2 418.8 311.5 423.0 312.2 443.4 313.2 482.3 314.2 516.2 315.2 540.0 316.2 555.1 317.2 564.2 318.2 569.7 319.2 573.3 320.2 575.7 321.2 577.5 322.2 578.9 323.2 579.9 324.2 580.7 325.2 581.3 326.2 581.9 327.2 582.3 328.2 582.6 329.2 582.9 330.2 583.1 331.2 583.3 332.2 583.4 333.2 583.5 334.2 583.5 335.2 583.5 336.2 583.3 337.2 583.0 338.2 582.5 339.2 581.8 340.2 580.9 341.2 580.2 341.4 580.1 341.9 580.0 342.2 580.0 342.4 580.0 343.2 580.3 344.2 580.9 345.2 581.5 346.2 581.9 347.2 582.2 348.2 582.3 349.2 582.3 350.2 582.3 351.2 582.2 352.2 582.2 353.2 582.1 354.2 582.1 355.2 582.0 356.2 581.9 357.2 581.8 358.2 581.7 359.2 581.5 360.2 581.3 361.2 581.1 362.2 580.8 363.2 580.4 364.2 579.8 365.2 578.8 366.2 577.0 367.2 573.9 368.2 568.6 369.2 560.9 370.2 551.3 371.2 542.0 371.8 538.3 372.2 537.3 372.3 537.3 372.8 538.4 373.2 540.7 374.2 549.6 375.2 559.6 376.2 567.9 377.2 573.8 378.2 577.5 379.2 579.6 380.2 580.9 381.2 581.6 382.2 582.1 383.2 582.5 384.2 582.8 385.2 583.0 386.2 583.2 387.2 583.4 388.2 583.5 389.2 583.5 390.2 583.6 391.2 583.5 392.2 583.5 393.2 583.4 394.2 583.2 395.2 583.0 396.2 582.6 397.2 581.8 398.2 580.6 399.2 579.0 400.2 577.5 400.5 577.1 401.0 576.9 401.2 576.9 401.5 577.1 402.2 577.8 403.2 579.3 404.2 580.6 405.2 581.5 406.2 582.0 407.2 582.2 408.2 582.4 409.2 582.5 410.2 582.7 411.2 582.8 412.2 582.9 413.2 583.1 414.2 583.2 415.2 583.4 416.2 583.5 417.2 583.6 418.2 583.8 419.2 584.0 420.2 584.1 421.2 584.3 422.2 584.5 423.2 584.6 424.2 584.7 425.2 584.8 426.2 584.8 427.2 584.8 428.2 584.8 429.2 584.8 430.2 584.7 431.2 584.7 432.2 584.6 433.2 584.6 434.2 584.5 435.2 584.5 436.2 584.4 437.2 584.3 438.2 584.3 439.2 584.2 440.2 584.1 441.2 584.0 442.2 583.9 443.2 583.8 444.2 583.7 445.2 583.5 446.2 583.3 447.2 583.1 448.2 582.8 449.2 582.5 450.2 582.0 451.2 581.3 452.2 580.4 453.2 579.3 454.1 578.4 454.2 578.4 454.6 578.2 455.1 578.2 455.2 578.3 456.2 578.9 457.2 579.7 458.2 580.2 459.2 580.6 460.2 580.7 461.2 580.8 462.2 580.8 463.2 580.8 464.2 580.9 465.2 581.1 466.2 581.2 467.2 581.4 468.2 581.6 469.2 581.8 470.2 582.0 471.2 582.1 472.2 582.2 473.2 582.2 474.2 582.2 475.2 582.1 476.2 581.9 477.2 581.8 478.2 581.6 479.2 581.4 480.2 581.1 481.2 580.9 482.2 580.6 483.2 580.4 484.2 580.2 485.2 579.9 486.2 579.7 487.2 579.6 488.2 579.4 489.2 579.2 490.2 579.0 491.2 578.7 492.2 578.3 493.2 577.7 494.2 576.9 495.2 575.7 496.2 574.2 497.2 572.3 498.2 569.9 499.2 567.2 500.2 564.1 501.2 561.0 502.2 558.2 503.2 555.9 504.2 554.7 504.7 554.5 505.2 554.7 506.2 555.9 507.2 558.1 508.2 560.9 509.2 563.9 510.2 566.9 511.2 569.6 512.2 571.9 513.2 573.8 514.2 575.2 515.2 576.3 516.2 577.0 517.2 577.5 518.2 577.8 519.2 578.0 520.2 578.2 521.2 578.2 522.2 578.3 523.2 578.3 524.2 578.3 525.2 578.2 526.2 578.2 527.2 578.0 528.2 577.7 529.2 577.4 530.2 577.0 531.2 576.5 532.2 576.1 533.2 575.7 534.2 575.4 535.2 575.1 536.2 575.0 537.2 575.0 538.2 575.1 539.2 575.3 540.2 575.6 541.2 575.8 542.2 576.1 543.2 576.4 544.2 576.6 545.2 576.8 546.2 576.9 547.2 576.9 548.2 576.9 549.2 576.8 550.2 576.8 551.2 576.7 552.2 576.6 553.2 576.5 554.2 576.4 555.2 576.2 556.2 576.0 557.2 575.7 558.2 575.3 559.2 574.8 560.2 574.1 561.2 572.9 562.2 570.9 563.2 567.8 564.2 563.3 565.2 557.0 566.2 549.3 567.2 540.7 568.2 533.3 568.9 530.1 569.2 529.5 569.4 529.4 569.9 530.2 570.2 531.3 571.2 537.8 572.2 546.4 573.2 554.7 574.2 561.8 575.2 567.2 576.2 571.0 577.2 573.5 578.2 575.1 579.2 576.2 580.2 576.9 581.2 577.4 582.2 577.8 583.2 578.0 584.2 578.2 585.2 578.2 586.2 577.9 587.2 577.4 588.2 576.8 588.7 576.6 589.2 576.5 589.7 576.7 590.2 577.1 591.2 578.0 592.2 578.8 593.2 579.4 594.2 579.8 595.2 580.0 596.2 580.1 597.2 580.2 598.2 580.3 599.2 580.3 600.2 580.3 601.2 580.2 602.2 580.0 603.2 579.7 604.2 579.2 605.2 578.5 605.9 578.2 606.2 578.1 606.4 578.1 606.9 578.2 607.2 578.2 608.2 578.7 609.2 579.2 610.2 579.6 611.2 579.7 612.2 579.8 613.2 579.8 614.2 579.8 615.2 579.7 616.2 579.7 617.2 579.6 618.2 579.6 619.2 579.5 620.2 579.5 621.2 579.4 622.2 579.3 623.2 579.2 624.2 578.8 625.2 578.2 626.2 577.1 627.2 575.7 628.2 574.5 628.3 574.4 628.8 574.2 629.2 574.3 629.3 574.4 630.2 575.4 631.2 576.8 632.2 578.0 633.2 578.7 634.2 579.1 635.2 579.3 636.2 579.4 637.2 579.5 638.2 579.5 639.2 579.5 640.2 579.5 641.2 579.6 642.2 579.6 643.2 579.6 644.2 579.6 645.2 579.6 646.2 579.5 647.2 579.5 648.2 579.5 649.2 579.5 650.2 579.5 651.2 579.5 652.2 579.4 653.2 579.4 654.2 579.4 655.2 579.3 656.2 579.3 657.2 579.2 658.2 579.2 659.2 579.1 660.2 579.0 661.2 578.8 662.2 578.5 663.2 578.1 664.2 577.4 665.2 576.3 666.2 575.0 667.2 573.7 667.9 573.1 668.2 572.9 668.4 572.9 668.9 573.0 669.2 573.1 670.2 574.1 671.2 575.2 672.2 576.1 673.2 576.7 674.2 576.9 675.2 576.8 676.2 576.5 677.2 575.8 678.2 574.6 679.2 572.6 680.2 569.5 681.2 565.0 682.2 558.8 683.2 551.6 684.2 544.7 685.1 540.6 685.2 540.3 685.6 539.9 686.1 540.6 686.2 540.8 687.2 545.9 688.2 553.0 689.2 560.0 690.2 565.7 691.2 570.0 692.2 572.8 693.2 574.5 694.2 575.5 695.2 576.1 696.2 576.4 697.2 576.4 698.2 576.2 699.2 575.6 700.2 574.4 701.2 572.9 702.2 571.7 702.7 571.5 703.2 571.7 704.2 573.1 705.2 574.7 706.2 576.0 707.2 576.7 708.2 577.2 709.2 577.3 710.2 577.4 711.2 577.4 712.2 577.4 713.2 577.4 714.2 577.3 715.2 577.1 716.2 576.6 717.2 575.8 718.2 574.3 719.2 572.2 720.2 570.0 720.7 569.2 721.2 568.9 721.7 569.2 722.2 570.0 723.2 572.2 724.2 574.2 725.2 575.7 726.2 576.5 727.2 576.9 728.2 577.0 729.2 577.1 730.2 577.2 731.2 577.2 732.2 577.1 733.2 577.0 734.2 576.8 735.2 576.4 736.2 575.8 737.2 575.2 737.9 574.8 738.2 574.7 738.4 574.7 738.9 574.8 739.2 574.9 740.2 575.5 741.2 576.2 742.2 576.6 743.2 576.9 744.2 577.0 745.2 577.1 746.2 577.1 747.2 577.1 748.2 577.1 749.2 577.1 750.2 577.1 751.2 577.1 752.2 577.1 753.2 577.1 754.2 577.1 755.2 577.1 756.2 577.1 757.2 577.1 758.2 577.0 759.2 577.0 760.2 577.0 761.2 577.0 762.2 576.9 763.2 576.8 764.2 576.7 765.2 576.4 766.2 576.0 767.2 575.4 768.2 574.8 769.2 574.2 769.5 574.1 770.0 574.0 770.2 574.0 770.5 574.1 771.2 574.4 772.2 575.0 773.2 575.7 774.2 576.2 775.2 576.5 776.2 576.7 777.2 576.8 778.2 576.9 779.2 576.9 780.2 577.0 781.2 577.0 782.2 577.0 783.2 577.0 784.2 577.0 785.2 577.0 786.2 577.0 787.2 577.0 788.2 577.0 789.2 577.0 790.2 577.0 791.2 577.0 792.2 577.0 793.2 577.0 794.2 577.0 795.2 577.0 796.2 577.0 797.2 577.0 798.2 577.0 799.2 577.0 800.2 577.0 801.2 577.0 802.2 577.0 803.2 577.0 804.2 577.0 805.2 577.0 806.2 577.0 807.2 577.0 808.2 576.9 809.2 576.9 810.2 576.9 811.2 576.9 812.2 576.9 813.2 576.9 814.2 576.9 815.2 576.9 816.2 576.8 817.2 576.8 818.2 576.8 819.2 576.8 820.2 576.8 821.2 576.7 822.2 576.7 823.2 576.6 824.2 576.5 825.2 576.3 826.2 575.9 827.2 575.5 828.2 574.9 829.2 574.4 829.5 574.4 830.0 574.3 830.2 574.3 830.5 574.3 831.2 574.6 832.2 575.1 833.2 575.6 834.2 576.0 835.2 576.2 836.2 576.4 837.2 576.4 838.2 576.5 839.2 576.5 840.2 576.5 841.2 576.4 842.2 576.4 843.2 576.3 844.2 576.2 845.2 576.0 846.2 575.6 847.2 575.2 848.2 574.6 849.2 574.1 849.5 574.0 850.0 574.0 850.2 574.0 850.5 574.0 851.2 574.3 852.2 574.8 853.2 575.3 854.2 575.7 855.2 575.9 856.2 576.1 857.2 576.2 858.2 576.2 859.2 576.2 860.2 576.2 861.2 576.1 862.2 576.1 863.2 576.0 864.2 575.9 865.2 575.7 866.2 575.3 867.2 574.8 868.2 574.3 869.2 573.8 869.5 573.7 870.0 573.6 870.2 573.6 870.5 573.6 871.2 573.9 872.2 574.4 873.2 574.9 874.2 575.3 875.2 575.6 876.2 575.8 877.2 575.8 878.2 575.9 879.2 575.9 880.2 575.9 881.2 575.8 882.2 575.8 883.2 575.7 884.2 575.6 885.2 575.3 886.2 575.0 887.2 574.5 888.2 573.9 889.2 573.4 889.5 573.3 890.0 573.2 890.2 573.2 890.5 573.2 891.2 573.5 892.2 574.0 893.2 574.6 894.2 575.0 895.2 575.3 896.2 575.4 897.2 575.5 898.2 575.5 899.2 575.5 900.2 575.5 901.2 575.5 902.2 575.4 903.2 575.3 904.2 575.2 905.2 575.0 906.2 574.6 907.2 574.1 908.2 573.5 909.2 573.0 909.5 572.9 910.0 572.8 910.2 572.8 910.5 572.8 911.2 573.1 912.2 573.6 913.2 574.2 914.2 574.6 915.2 574.8 916.2 575.0 917.2 575.0 918.2 575.1 919.2 575.1 920.2 575.0 921.2 575.0 922.2 575.0 923.2 574.9 924.2 574.9 925.2 574.8 926.2 574.7 927.2 574.6 928.2 574.5 929.2 574.3 930.2 574.0 931.2 573.6 932.2 573.0 933.2 571.9 934.2 570.4 935.2 568.6 936.2 566.9 936.7 566.4 937.2 566.1 937.7 566.2 938.2 566.6 939.2 567.9 940.2 569.4 941.2 570.5 942.2 571.2 943.2 571.5 944.2 571.6 945.2 571.6 946.2 571.5 947.2 571.4 948.2 571.3 949.2 571.2 949.5 571.2 950.0 571.1 950.2 571.1 950.5 571.1 951.2 571.2 952.2 571.2 953.2 571.3 954.2 571.4 955.2 571.5 956.2 571.5 957.2 571.5 958.2 571.3 959.2 570.9 960.2 570.2 961.2 569.2 962.2 567.9 963.2 566.5 964.2 565.5 964.4 565.4 964.9 565.3 965.2 565.4 965.4 565.5 966.2 566.3 967.2 567.8 968.2 569.3 969.2 570.7 970.2 571.7 971.2 572.4 972.2 572.9 973.2 573.1 974.2 573.3 975.2 573.4 976.2 573.5 977.2 573.5 978.2 573.5 979.2 573.6 980.2 573.6 981.2 573.6 982.2 573.6 983.2 573.6 984.2 573.5 985.2 573.5 986.2 573.5 987.2 573.5 988.2 573.5 989.2 573.4 990.2 573.4 991.2 573.4 992.2 573.3 993.2 573.2 994.2 573.0 995.2 572.8 996.2 572.4 997.2 571.9 998.2 571.3 999.2 570.7 999.5 570.6 1000.0 570.5 1000.2 570.5 1000.5 570.6 1001.2 570.8 1002.2 571.4 1003.2 571.9 1004.2 572.4 1005.2 572.7 1006.2 572.8 1007.2 572.9 1008.2 572.9 1009.2 572.9 1010.2 572.9 1011.2 572.9 1012.2 572.9 1013.2 572.9 1014.2 572.8 1015.2 572.8 1016.2 572.8 1017.2 572.8 1018.2 572.7 1019.2 572.7 1020.2 572.6 1021.2 572.6 1022.2 572.5 1023.2 572.4 1024.2 572.3 1025.2 572.0 1026.2 571.7 1027.2 571.1 1028.2 570.5 1029.2 570.0 1029.5 569.9 1030.0 569.8 1030.2 569.9 1030.5 569.9 1031.2 570.1 1032.2 570.7 1033.2 571.2 1034.2 571.6 1035.2 571.8 1036.2 572.0 1037.2 572.0 1038.2 572.1 1039.2 572.1 1040.2 572.0 1041.2 572.0 1042.2 572.0 1043.2 571.9 1044.2 571.7 1045.2 571.5 1046.2 571.2 1047.2 570.8 1048.2 570.2 1049.2 569.8 1049.5 569.7 1050.0 569.6 1050.2 569.6 1050.5 569.7 1051.2 569.9 1052.2 570.3 1053.2 570.8 1054.2 571.2 1055.2 571.4 1056.2 571.5 1057.2 571.6 1058.2 571.6" stroke="#008000"/>
<path d="M72.2 542.0L73.2 542.0 74.2 542.0 75.2 542.0 76.2 542.0 77.2 542.0 78.2 542.0 79.2 542.1 80.2 542.1 81.2 542.1 82.2 542.1 83.2 542.1 84.2 542.1 85.2 542.2 86.2 542.2 87.2 542.2 88.2 542.2 89.2 542.3 90.2 542.3 91.2 542.3 92.2 542.4 93.2 542.4 94.2 542.4 95.2 542.5 96.2 542.5 97.2 542.5 98.2 542.6 99.2 542.6 100.2 542.6 101.2 542.7 102.2 542.7 103.2 542.7 104.2 542.8 105.2 542.8 106.2 542.8 107.2 542.9 108.2 542.9 109.2 543.0 110.2 543.0 111.2 543.0 112.2 543.1 113.2 543.1 114.2 543.1 115.2 543.2 116.2 543.2 117.2 543.2 118.2 543.2 119.2 543.3 120.2 543.3 121.2 543.3 122.2 543.4 123.2 543.4 124.2 543.4 125.2 543.4 126.2 543.4 127.2 543.5 128.2 543.5 129.2 543.5 130.2 543.5 131.2 543.5 132.2 543.5 133.2 543.5 134.2 543.6 135.2 543.6 136.2 543.6 137.2 543.6 138.2 543.6 139.2 543.6 140.2 543.6 141.2 543.6 142.2 543.6 143.2 543.7 144.2 543.7 145.2 543.7 146.2 543.7 147.2 543.7 148.2 543.7 149.2 543.7 150.2 543.7 151.2 543.7 152.2 543.7 153.2 543.8 154.2 543.8 155.2 543.8 156.2 543.8 157.2 543.8 158.2 543.8 159.2 543.8 160.2 543.8 161.2 543.8 162.2 543.8 163.2 543.8 164.2 543.8 165.2 543.8 166.2 543.8 167.2 543.8 168.2 543.8 169.2 543.8 170.2 543.8 171.2 543.8 172.2 543.8 173.2 543.8 174.2 543.8 175.2 543.8 176.2 543.8 177.2 543.7 178.2 543.7 179.2 543.6 180.2 543.5 181.2 543.4 182.2 543.2 183.2 542.9 184.2 542.3 185.2 540.9 186.2 538.5 187.2 534.8 188.2 530.7 188.9 528.5 189.2 528.1 189.4 528.0 189.9 528.5 190.2 529.3 191.2 533.1 192.2 537.2 193.2 540.1 194.2 541.9 195.2 542.8 196.2 543.2 197.2 543.4 198.2 543.6 199.2 543.7 200.2 543.7 201.2 543.8 202.2 543.8 203.2 543.9 204.2 543.9 205.2 543.9 206.2 544.0 207.2 544.0 208.2 544.0 209.2 544.0 210.2 544.0 211.2 544.0 212.2 544.0 213.2 544.0 214.2 544.0 215.2 544.0 216.2 544.0 217.2 544.0 218.2 544.0 219.2 544.0 220.2 544.0 221.2 543.9 222.2 543.9 223.2 543.9 224.2 543.9 225.2 543.9 226.2 543.8 227.2 543.8 228.2 543.8 229.2 543.8 230.2 543.7 231.2 543.7 232.2 543.7 233.2 543.6 234.2 543.6 235.2 543.6 236.2 543.5 237.2 543.5 238.2 543.5 239.2 543.4 240.2 543.4 241.2 543.4 242.2 543.3 243.2 543.3 244.2 543.2 245.2 543.2 246.2 543.1 247.2 543.1 248.2 543.1 249.2 543.0 250.2 543.0 251.2 542.9 252.2 542.9 253.2 542.8 254.2 542.8 255.2 542.7 256.2 542.7 257.2 542.6 258.2 542.6 259.2 542.5 260.2 542.5 261.2 542.4 262.2 542.4 263.2 542.3 264.2 542.3 265.2 542.2 266.2 542.1 267.2 542.1 268.2 542.0 269.2 541.9 270.2 541.9 271.2 541.8 272.2 541.7 273.2 541.6 274.2 541.6 275.2 541.5 276.2 541.4 277.2 541.3 278.2 541.2 279.2 541.1 280.2 540.9 281.2 540.8 282.2 540.7 283.2 540.5 284.2 540.4 285.2 540.2 286.2 540.0 287.2 539.8 288.2 539.6 289.2 539.4 290.2 539.1 291.2 538.8 292.2 538.4 293.2 538.0 294.2 537.5 295.2 537.0 296.2 536.4 297.2 535.6 298.2 534.7 299.2 533.5 300.2 532.1 301.2 530.3 302.2 527.9 303.2 524.4 304.2 519.3 305.2 511.4 306.2 498.7 307.2 479.2 308.2 451.4 309.2 416.8 310.2 384.9 310.5 378.8 311.0 374.6 311.2 375.3 311.5 378.7 312.2 396.0 313.2 430.8 314.2 463.1 315.2 487.4 316.2 503.7 317.2 514.1 318.2 520.6 319.2 524.8 320.2 527.6 321.2 529.6 322.2 531.1 323.2 532.2 324.2 533.1 325.2 533.8 326.2 534.4 327.2 534.8 328.2 535.2 329.2 535.5 330.2 535.7 331.2 535.8 332.2 535.9 333.2 536.0 334.2 536.0 335.2 535.9 336.2 535.7 337.2 535.3 338.2 534.9 339.2 534.3 340.2 533.8 341.2 533.2 341.9 533.0 342.2 532.9 342.4 532.9 342.9 532.9 343.2 532.9 344.2 533.1 345.2 533.5 346.2 533.9 347.2 534.2 348.2 534.4 349.2 534.6 350.2 534.7 351.2 534.7 352.2 534.7 353.2 534.7 354.2 534.6 355.2 534.5 356.2 534.4 357.2 534.3 358.2 534.2 359.2 534.0 360.2 533.8 361.2 533.6 362.2 533.3 363.2 532.9 364.2 532.2 365.2 531.1 366.2 529.3 367.2 526.2 368.2 521.6 369.2 515.3 370.2 507.7 371.2 500.0 372.2 494.7 372.3 494.4 372.8 493.8 373.2 494.3 373.3 494.6 374.2 499.1 375.2 506.8 376.2 514.8 377.2 521.7 378.2 526.9 379.2 530.5 380.2 532.8 381.2 534.2 382.2 535.1 383.2 535.7 384.2 536.1 385.2 536.5 386.2 536.7 387.2 537.0 388.2 537.1 389.2 537.2 390.2 537.3 391.2 537.4 392.2 537.4 393.2 537.4 394.2 537.4 395.2 537.3 396.2 537.0 397.2 536.5 398.2 535.6 399.2 534.3 400.2 532.8 400.8 532.2 401.2 532.0 401.3 532.0 401.8 532.2 402.2 532.5 403.2 533.9 404.2 535.3 405.2 536.2 406.2 536.8 407.2 537.0 408.2 537.2 409.2 537.2 410.2 537.2 411.2 537.3 412.2 537.3 413.2 537.3 414.2 537.3 415.2 537.3 416.2 537.3 417.2 537.4 418.2 537.5 419.2 537.7 420.2 538.0 421.2 538.3 422.2 538.6 423.2 538.8 424.2 539.0 425.2 539.1 426.2 539.1 427.2 539.1 428.2 539.1 429.2 539.1 430.2 539.1 431.2 539.0 432.2 539.0 433.2 539.0 434.2 538.9 435.2 538.9 436.2 538.9 437.2 538.8 438.2 538.8 439.2 538.7 440.2 538.7 441.2 538.6 442.2 538.5 443.2 538.4 444.2 538.3 445.2 538.1 446.2 537.9 447.2 537.6 448.2 537.4 449.2 537.0 450.2 536.6 451.2 535.9 452.2 535.0 453.2 533.8 454.2 532.6 454.6 532.2 455.1 532.0 455.2 532.0 455.6 532.0 456.2 532.3 457.2 533.1 458.2 533.8 459.2 534.3 460.2 534.6 461.2 534.6 462.2 534.7 463.2 534.7 464.2 534.8 465.2 535.0 466.2 535.1 467.2 535.3 468.2 535.5 469.2 535.6 470.2 535.8 471.2 535.9 472.2 536.0 473.2 536.0 474.2 536.0 475.2 535.9 476.2 535.8 477.2 535.6 478.2 535.5 479.2 535.3 480.2 535.1 481.2 534.9 482.2 534.7 483.2 534.5 484.2 534.3 485.2 534.1 486.2 533.9 487.2 533.7 488.2 533.3 489.2 532.8 490.2 532.0 491.2 530.8 492.2 529.4 493.2 527.8 493.7 527.2 494.2 526.7 494.7 526.4 495.2 526.1 496.2 525.8 497.2 525.1 498.2 523.7 499.2 521.7 500.2 519.2 501.2 516.6 502.2 514.2 503.2 512.6 503.5 512.4 504.0 512.2 504.2 512.2 504.5 512.4 505.2 513.1 506.2 515.1 507.2 517.7 508.2 520.5 509.2 523.3 510.2 525.7 511.2 527.7 512.2 529.2 513.2 530.4 514.2 531.1 515.2 531.6 516.2 531.9 517.2 532.1 518.2 532.2 519.2 532.1 520.2 532.1 521.2 532.0 522.2 531.8 523.2 531.6 524.2 531.3 525.2 530.9 526.2 530.5 527.2 530.0 528.2 529.5 529.2 528.9 530.2 528.2 531.2 527.6 532.2 526.9 533.2 526.4 534.2 525.9 535.2 525.5 535.9 525.4 536.2 525.4 536.4 525.4 536.9 525.4 537.2 525.5 538.2 525.7 539.2 526.1 540.2 526.7 541.2 527.3 542.2 527.9 543.2 528.6 544.2 529.2 545.2 529.7 546.2 530.2 547.2 530.6 548.2 531.0 549.2 531.3 550.2 531.5 551.2 531.6 552.2 531.7 553.2 531.7 554.2 531.6 555.2 531.4 556.2 531.2 557.2 530.8 558.2 530.3 559.2 529.4 560.2 528.1 561.2 526.1 562.2 523.2 563.2 519.2 564.2 514.1 565.2 507.8 566.2 500.9 567.2 494.0 568.2 488.5 568.9 486.3 569.2 485.9 569.4 485.8 569.9 486.3 570.2 487.0 571.2 491.5 572.2 498.0 573.2 505.0 574.2 511.6 575.2 517.2 576.2 521.6 577.2 524.9 578.2 527.2 579.2 528.8 580.2 529.8 581.2 530.5 582.2 531.0 583.2 531.3 584.2 531.6 585.2 531.8 586.2 531.9 587.2 532.1 588.2 532.2 589.2 532.3 590.2 532.4 591.2 532.5 592.2 532.5 593.2 532.7 594.2 533.0 595.2 533.4 596.2 533.8 597.2 534.1 598.2 534.4 599.2 534.6 600.2 534.7 601.2 534.7 602.2 534.6 603.2 534.5 604.2 534.2 605.2 533.7 606.2 533.0 607.2 532.2 608.0 531.7 608.2 531.6 608.5 531.5 609.0 531.6 609.2 531.6 610.2 532.1 611.2 532.6 612.2 533.0 613.2 533.2 614.2 533.2 615.2 533.2 616.2 533.2 617.2 533.1 618.2 533.0 619.2 533.0 620.2 533.0 621.2 533.0 622.2 533.0 623.2 532.9 624.2 532.8 625.2 532.6 626.2 532.1 627.2 531.4 628.2 530.3 629.2 529.2 629.6 528.9 630.1 528.8 630.2 528.8 630.6 528.9 631.2 529.4 632.2 530.5 633.2 531.6 634.2 532.3 635.2 532.6 636.2 532.8 637.2 532.9 638.2 533.0 639.2 533.0 640.2 533.0 641.2 533.0 642.2 533.0 643.2 533.0 644.2 533.0 645.2 533.0 646.2 533.0 647.2 533.0 648.2 533.0 649.2 533.0 650.2 533.0 651.2 533.0 652.2 533.0 653.2 532.9 654.2 532.9 655.2 532.9 656.2 532.8 657.2 532.8 658.2 532.7 659.2 532.7 660.2 532.6 661.2 532.5 662.2 532.3 663.2 532.1 664.2 531.7 665.2 531.2 666.2 530.5 667.2 529.6 668.2 528.7 669.2 527.7 670.2 527.0 670.5 526.8 671.0 526.7 671.2 526.7 671.5 526.7 672.2 526.9 673.2 527.5 674.2 528.1 675.2 528.6 676.2 528.9 677.2 528.7 678.2 528.0 679.2 526.5 680.2 524.0 681.2 520.4 682.2 515.6 683.2 509.9 684.2 503.9 685.2 498.9 685.9 496.8 686.2 496.4 686.4 496.3 686.9 496.8 687.2 497.5 688.2 501.7 689.2 507.4 690.2 513.4 691.2 518.6 692.2 522.7 693.2 525.7 694.2 527.7 695.2 528.9 696.2 529.5 697.2 529.7 698.2 529.4 699.2 528.7 700.2 527.6 701.2 526.4 702.2 525.5 702.7 525.4 703.2 525.6 704.2 526.6 705.2 528.1 706.2 529.4 707.2 530.4 708.2 531.0 709.2 531.4 710.2 531.6 711.2 531.7 712.2 531.7 713.2 531.7 714.2 531.6 715.2 531.5 716.2 531.2 717.2 530.6 718.2 529.6 719.2 528.0 720.2 526.0 721.2 524.0 722.0 522.9 722.2 522.8 722.5 522.7 723.0 522.9 723.2 523.1 724.2 524.8 725.2 526.9 726.2 528.7 727.2 530.0 728.2 530.9 729.2 531.3 730.2 531.6 731.2 531.7 732.2 531.8 733.2 531.8 734.2 531.7 735.2 531.6 736.2 531.3 737.2 531.0 738.2 530.6 739.2 530.2 739.5 530.1 740.0 530.1 740.2 530.1 740.5 530.1 741.2 530.3 742.2 530.8 743.2 531.2 744.2 531.5 745.2 531.7 746.2 531.9 747.2 532.0 748.2 532.0 749.2 532.0 750.2 532.0 751.2 532.0 752.2 532.0 753.2 532.0 754.2 532.0 755.2 532.0 756.2 532.0 757.2 532.0 758.2 532.0 759.2 532.0 760.2 532.0 761.2 532.0 762.2 532.0 763.2 531.9 764.2 531.9 765.2 531.8 766.2 531.6 767.2 531.5 768.2 531.2 769.2 530.9 770.2 530.5 771.2 530.2 772.2 530.0 772.7 530.0 773.2 530.0 774.2 530.2 775.2 530.5 776.2 530.9 777.2 531.2 778.2 531.4 779.2 531.6 780.2 531.8 781.2 531.9 782.2 531.9 783.2 531.9 784.2 532.0 785.2 532.0 786.2 532.0 787.2 532.0 788.2 532.0 789.2 532.0 790.2 532.0 791.2 532.0 792.2 532.0 793.2 532.0 794.2 532.0 795.2 532.0 796.2 532.0 797.2 532.0 798.2 532.0 799.2 532.0 800.2 532.0 801.2 532.0 802.2 532.0 803.2 532.0 804.2 532.0 805.2 532.0 806.2 532.0 807.2 531.9 808.2 531.9 809.2 531.9 810.2 531.9 811.2 531.9 812.2 531.9 813.2 531.9 814.2 531.9 815.2 531.8 816.2 531.8 817.2 531.8 818.2 531.8 819.2 531.8 820.2 531.7 821.2 531.7 822.2 531.7 823.2 531.7 824.2 531.7 825.2 531.6 826.2 531.6 827.2 531.6 828.2 531.6 829.2 531.5 830.2 531.5 831.2 531.5 832.2 531.5 833.2 531.4 834.2 531.4 835.2 531.4 836.2 531.4 837.2 531.3 838.2 531.3 839.2 531.3 840.2 531.3 841.2 531.2 842.2 531.2 843.2 531.2 844.2 531.2 845.2 531.1 846.2 531.1 847.2 531.1 848.2 531.0 849.2 531.0 850.2 531.0 851.2 531.0 852.2 530.9 853.2 530.9 854.2 530.9 855.2 530.8 856.2 530.8 857.2 530.8 858.2 530.7 859.2 530.7 860.2 530.7 861.2 530.6 862.2 530.6 863.2 530.6 864.2 530.5 865.2 530.5 866.2 530.4 867.2 530.4 868.2 530.3 869.2 530.3 870.2 530.3 871.2 530.2 872.2 530.2 873.2 530.1 874.2 530.1 875.2 530.0 876.2 530.0 877.2 530.0 878.2 529.9 879.2 529.9 880.2 529.8 881.2 529.8 882.2 529.7 883.2 529.7 884.2 529.6 885.2 529.6 886.2 529.6 887.2 529.5 888.2 529.5 889.2 529.4 890.2 529.4 891.2 529.3 892.2 529.3 893.2 529.3 894.2 529.2 895.2 529.2 896.2 529.1 897.2 529.1 898.2 529.1 899.2 529.0 900.2 529.0 901.2 529.0 902.2 528.9 903.2 528.9 904.2 528.8 905.2 528.8 906.2 528.8 907.2 528.7 908.2 528.7 909.2 528.7 910.2 528.6 911.2 528.6 912.2 528.5 913.2 528.5 914.2 528.5 915.2 528.4 916.2 528.4 917.2 528.3 918.2 528.3 919.2 528.2 920.2 528.2 921.2 528.1 922.2 528.1 923.2 528.0 924.2 528.0 925.2 527.9 926.2 527.8 927.2 527.7 928.2 527.6 929.2 527.5 930.2 527.3 931.2 527.0 932.2 526.6 933.2 526.0 934.2 525.2 935.2 524.2 936.2 523.1 937.2 522.0 938.2 521.2 938.5 521.1 939.0 521.0 939.2 521.0 939.5 521.1 940.2 521.4 941.2 522.3 942.2 523.3 943.2 524.3 944.2 525.2 945.2 525.8 946.2 526.2 947.2 526.5 948.2 526.6 949.2 526.7 950.2 526.7 951.2 526.8 952.2 526.7 953.2 526.7 954.2 526.7 955.2 526.6 956.2 526.5 957.2 526.4 958.2 526.2 959.2 526.0 960.2 525.6 961.2 525.1 962.2 524.4 963.2 523.6 964.2 522.8 965.2 522.1 965.9 521.8 966.2 521.7 966.4 521.7 966.9 521.7 967.2 521.8 968.2 522.4 969.2 523.1 970.2 523.9 971.2 524.5 972.2 525.1 973.2 525.4 974.2 525.7 975.2 525.8 976.2 525.9 977.2 525.9 978.2 526.0 979.2 526.0 980.2 526.0 981.2 525.9 982.2 525.9 983.2 525.9 984.2 525.9 985.2 525.9 986.2 525.8 987.2 525.8 988.2 525.8 989.2 525.7 990.2 525.7 991.2 525.6 992.2 525.5 993.2 525.4 994.2 525.3 995.2 525.1 996.2 524.9 997.2 524.6 998.2 524.3 999.2 524.1 999.5 524.1 1000.0 524.1 1000.2 524.1 1000.5 524.1 1001.2 524.1 1002.2 524.3 1003.2 524.5 1004.2 524.7 1005.2 524.9 1006.2 525.0 1007.2 525.1 1008.2 525.2 1009.2 525.2 1010.2 525.2 1011.2 525.2 1012.2 525.2 1013.2 525.2 1014.2 525.2 1015.2 525.2 1016.2 525.1 1017.2 525.1 1018.2 525.1 1019.2 525.1 1020.2 525.1 1021.2 525.1 1022.2 525.0 1023.2 525.0 1024.2 525.0 1025.2 525.0 1026.2 525.0 1027.2 525.0 1028.2 524.9 1029.2 524.9 1030.2 524.9 1031.2 524.9 1032.2 524.9 1033.2 524.9 1034.2 524.9 1035.2 524.8 1036.2 524.8 1037.2 524.8 1038.2 524.8 1039.2 524.8 1040.2 524.8 1041.2 524.8 1042.2 524.8 1043.2 524.8 1044.2 524.8 1045.2 524.7 1046.2 524.7 1047.2 524.7 1048.2 524.7 1049.2 524.7 1050.2 524.7 1051.2 524.7 1052.2 524.7 1053.2 524.7 1054.2 524.7 1055.2 524.7 1056.2 524.7 1057.2 524.7 1058.2 524.7" stroke="#800000"/>
<path d="M72.2 498.0L73.2 498.0 74.2 498.0 75.2 498.0 76.2 498.0 77.2 498.0 78.2 498.0 79.2 498.1 80.2 498.1 81.2 498.1 82.2 498.1 83.2 498.1 84.2 498.1 85.2 498.2 86.2 498.2 87.2 498.2 88.2 498.2 89.2 498.3 90.2 498.3 91.2 498.3 92.2 498.3 93.2 498.4 94.2 498.4 95.2 498.4 96.2 498.5 97.2 498.5 98.2 498.5 99.2 498.6 100.2 498.6 101.2 498.6 102.2 498.7 103.2 498.7 104.2 498.7 105.2 498.8 106.2 498.8 107.2 498.9 108.2 498.9 109.2 498.9 110.2 499.0 111.2 499.0 112.2 499.0 113.2 499.1 114.2 499.1 115.2 499.1 116.2 499.2 117.2 499.2 118.2 499.2 119.2 499.2 120.2 499.3 121.2 499.3 122.2 499.3 123.2 499.4 124.2 499.4 125.2 499.4 126.2 499.4 127.2 499.4 128.2 499.5 129.2 499.5 130.2 499.5 131.2 499.5 132.2 499.5 133.2 499.6 134.2 499.6 135.2 499.6 136.2 499.6 137.2 499.6 138.2 499.6 139.2 499.6 140.2 499.7 141.2 499.7 142.2 499.7 143.2 499.7 144.2 499.7 145.2 499.7 146.2 499.8 147.2 499.8 148.2 499.8 149.2 499.8 150.2 499.8 151.2 499.8 152.2 499.9 153.2 499.9 154.2 499.9 155.2 499.9 156.2 499.9 157.2 499.9 158.2 499.9 159.2 499.9 160.2 500.0 161.2 500.0 162.2 500.0 163.2 500.0 164.2 500.0 165.2 500.0 166.2 500.0 167.2 500.0 168.2 500.0 169.2 500.0 170.2 500.0 171.2 500.0 172.2 500.0 173.2 500.0 174.2 500.0 175.2 500.0 176.2 500.0 177.2 500.0 178.2 500.0 179.2 499.9 180.2 499.9 181.2 499.8 182.2 499.7 183.2 499.5 184.2 499.1 185.2 498.3 186.2 496.6 187.2 493.7 188.2 489.7 189.2 486.0 189.5 485.3 190.0 484.8 190.2 484.9 190.5 485.3 191.2 487.3 192.2 491.4 193.2 495.0 194.2 497.4 195.2 498.7 196.2 499.4 197.2 499.7 198.2 499.9 199.2 500.0 200.2 500.0 201.2 500.1 202.2 500.1 203.2 500.2 204.2 500.2 205.2 500.2 206.2 500.3 207.2 500.3 208.2 500.3 209.2 500.3 210.2 500.3 211.2 500.3 212.2 500.3 213.2 500.3 214.2 500.3 215.2 500.3 216.2 500.3 217.2 500.3 218.2 500.3 219.2 500.2 220.2 500.2 221.2 500.2 222.2 500.2 223.2 500.2 224.2 500.1 225.2 500.1 226.2 500.1 227.2 500.1 228.2 500.0 229.2 500.0 230.2 500.0 231.2 499.9 232.2 499.9 233.2 499.8 234.2 499.8 235.2 499.8 236.2 499.7 237.2 499.7 238.2 499.6 239.2 499.6 240.2 499.6 241.2 499.5 242.2 499.5 243.2 499.4 244.2 499.4 245.2 499.3 246.2 499.3 247.2 499.2 248.2 499.2 249.2 499.1 250.2 499.1 251.2 499.0 252.2 498.9 253.2 498.9 254.2 498.8 255.2 498.8 256.2 498.7 257.2 498.7 258.2 498.6 259.2 498.5 260.2 498.5 261.2 498.4 262.2 498.4 263.2 498.3 264.2 498.2 265.2 498.1 266.2 498.0 267.2 498.0 268.2 497.9 269.2 497.8 270.2 497.7 271.2 497.6 272.2 497.4 273.2 497.3 274.2 497.2 275.2 497.1 276.2 496.9 277.2 496.8 278.2 496.6 279.2 496.5 280.2 496.3 281.2 496.1 282.2 495.9 283.2 495.7 284.2 495.5 285.2 495.3 286.2 495.1 287.2 494.8 288.2 494.5 289.2 494.2 290.2 493.8 291.2 493.4 292.2 493.0 293.2 492.5 294.2 491.9 295.2 491.3 296.2 490.5 297.2 489.5 298.2 488.4 299.2 487.0 300.2 485.2 301.2 482.9 302.2 479.6 303.2 474.8 304.2 467.4 305.2 455.6 306.2 437.3 307.2 411.1 308.2 377.8 309.2 345.7 309.6 337.3 310.1 333.2 310.2 333.4 310.6 337.2 311.2 351.0 312.2 384.3 313.2 416.3 314.2 440.6 315.2 457.2 316.2 467.7 317.2 474.3 318.2 478.5 319.2 481.3 320.2 483.2 321.2 484.7 322.2 485.8 323.2 486.7 324.2 487.3 325.2 487.8 326.2 488.2 327.2 488.5 328.2 488.7 329.2 488.8 330.2 488.8 331.2 488.8 332.2 488.7 333.2 488.6 334.2 488.4 335.2 488.1 336.2 487.8 337.2 487.5 338.2 487.1 339.2 486.7 340.2 486.4 341.2 486.1 342.2 485.8 343.2 485.7 343.5 485.6 344.0 485.6 344.2 485.6 344.5 485.6 345.2 485.7 346.2 485.8 347.2 486.1 348.2 486.4 349.2 486.7 350.2 487.0 351.2 487.4 352.2 487.7 353.2 488.0 354.2 488.2 355.2 488.4 356.2 488.6 357.2 488.7 358.2 488.7 359.2 488.7 360.2 488.7 361.2 488.5 362.2 488.3 363.2 487.9 364.2 487.3 365.2 486.2 366.2 484.5 367.2 481.8 368.2 477.8 369.2 472.6 370.2 466.3 371.2 459.5 372.2 453.6 373.1 450.4 373.2 450.2 373.6 449.9 374.1 450.5 374.2 450.7 375.2 454.9 376.2 461.3 377.2 468.1 378.2 474.4 379.2 479.6 380.2 483.4 381.2 486.0 382.2 487.8 383.2 488.9 384.2 489.6 385.2 490.1 386.2 490.5 387.2 490.8 388.2 491.0 389.2 491.2 390.2 491.5 391.2 491.7 392.2 491.8 393.2 492.0 394.2 492.1 395.2 492.2 396.2 492.2 397.2 492.1 398.2 491.7 399.2 490.9 400.2 489.7 401.2 488.4 401.8 487.8 402.2 487.7 402.3 487.7 402.8 487.9 403.2 488.3 404.2 489.8 405.2 491.3 406.2 492.3 407.2 493.0 408.2 493.3 409.2 493.5 410.2 493.5 411.2 493.4 412.2 493.1 413.2 492.8 414.2 492.5 415.2 492.3 416.2 492.2 417.2 492.3 418.2 492.4 419.2 492.6 420.2 492.9 421.2 493.2 422.2 493.5 423.2 493.7 424.2 493.9 425.2 494.0 426.2 494.0 427.2 494.0 428.2 494.0 429.2 494.0 430.2 494.0 431.2 493.9 432.2 493.9 433.2 493.9 434.2 493.8 435.2 493.8 436.2 493.8 437.2 493.7 438.2 493.7 439.2 493.6 440.2 493.6 441.2 493.5 442.2 493.4 443.2 493.3 444.2 493.2 445.2 493.0 446.2 492.8 447.2 492.6 448.2 492.4 449.2 492.1 450.2 491.7 451.2 491.1 452.2 490.4 453.2 489.4 454.2 488.3 455.2 487.2 455.9 486.6 456.2 486.5 456.4 486.4 456.9 486.4 457.2 486.5 458.2 487.1 459.2 487.9 460.2 488.5 461.2 489.0 462.2 489.3 463.2 489.4 464.2 489.5 465.2 489.7 466.2 489.8 467.2 490.0 468.2 490.2 469.2 490.4 470.2 490.5 471.2 490.7 472.2 490.8 473.2 490.8 474.2 490.8 475.2 490.7 476.2 490.7 477.2 490.6 478.2 490.6 479.2 490.5 480.2 490.4 481.2 490.3 482.2 490.2 483.2 490.1 484.2 490.0 485.2 489.9 486.2 489.7 487.2 489.4 488.2 489.0 489.2 488.4 490.2 487.6 491.0 487.1 491.2 487.0 491.5 486.9 492.0 486.8 492.2 486.8 493.2 486.9 494.2 486.9 495.2 486.5 496.2 485.7 497.2 484.4 498.2 482.7 499.2 480.5 500.2 478.1 501.2 475.6 502.2 473.4 503.2 471.7 503.7 471.3 504.2 471.1 504.7 471.2 505.2 471.6 506.2 473.1 507.2 475.2 508.2 477.6 509.2 479.8 510.2 481.8 511.2 483.5 512.2 484.8 513.2 485.7 514.2 486.3 515.2 486.7 516.2 486.9 517.2 486.9 518.2 486.9 519.2 486.7 520.2 486.5 521.2 486.2 522.2 485.9 523.2 485.5 524.2 485.1 525.2 484.7 526.2 484.2 527.2 483.6 528.2 482.9 529.2 482.2 530.2 481.5 531.2 480.7 532.2 480.0 533.2 479.4 534.2 478.8 535.2 478.4 535.9 478.3 536.2 478.2 536.4 478.2 536.9 478.2 537.2 478.2 538.2 478.4 539.2 478.8 540.2 479.3 541.2 479.9 542.2 480.5 543.2 481.1 544.2 481.7 545.2 482.2 546.2 482.7 547.2 483.1 548.2 483.5 549.2 483.8 550.2 484.0 551.2 484.1 552.2 484.2 553.2 484.3 554.2 484.5 555.2 484.7 556.2 484.8 557.2 484.8 558.2 484.5 559.2 483.9 560.2 483.0 561.2 481.6 562.2 479.6 563.2 476.9 564.2 473.4 565.2 469.1 566.2 464.0 567.2 458.4 568.2 452.6 569.2 447.4 570.2 443.6 570.8 442.3 571.2 442.0 571.3 442.0 571.8 442.3 572.2 443.1 573.2 446.5 574.2 451.4 575.2 457.1 576.2 462.8 577.2 468.1 578.2 472.6 579.2 476.2 580.2 479.0 581.2 481.1 582.2 482.6 583.2 483.7 584.2 484.4 585.2 484.9 586.2 485.2 587.2 485.5 588.2 485.7 589.2 485.8 590.2 485.9 591.2 486.0 592.2 486.1 593.2 486.2 594.2 486.3 595.2 486.3 596.2 486.3 597.2 486.4 598.2 486.4 599.2 486.4 600.2 486.4 601.2 486.4 602.2 486.4 603.2 486.3 604.2 486.2 605.2 485.9 606.2 485.4 607.2 484.8 608.2 484.2 608.5 484.1 609.0 484.0 609.2 484.0 609.5 484.0 610.2 484.4 611.2 485.0 612.2 485.5 613.2 485.9 614.2 486.1 615.2 486.2 616.2 486.2 617.2 486.2 618.2 486.2 619.2 486.1 620.2 486.1 621.2 486.1 622.2 486.0 623.2 486.0 624.2 485.9 625.2 485.8 626.2 485.7 627.2 485.4 628.2 485.1 629.2 484.7 630.2 484.2 631.0 484.0 631.2 483.9 631.5 483.9 632.0 483.9 632.2 484.0 633.2 484.3 634.2 484.6 635.2 485.0 636.2 485.2 637.2 485.3 638.2 485.4 639.2 485.4 640.2 485.4 641.2 485.4 642.2 485.3 643.2 485.3 644.2 485.3 645.2 485.2 646.2 485.2 647.2 485.1 648.2 485.1 649.2 485.0 650.2 485.0 651.2 484.9 652.2 484.9 653.2 484.8 654.2 484.7 655.2 484.7 656.2 484.6 657.2 484.5 658.2 484.4 659.2 484.3 660.2 484.2 661.2 484.0 662.2 483.9 663.2 483.6 664.2 483.3 665.2 483.0 666.2 482.5 667.2 482.0 668.2 481.4 669.2 480.7 670.2 480.1 671.2 479.6 671.9 479.3 672.2 479.2 672.4 479.2 672.9 479.1 673.2 479.1 674.2 479.2 675.2 479.3 676.2 479.3 677.2 479.2 678.2 478.8 679.2 477.8 680.2 476.2 681.2 473.8 682.2 470.6 683.2 466.6 684.2 462.3 685.2 458.0 686.2 454.5 686.9 453.1 687.2 452.9 687.4 452.8 687.9 453.1 688.2 453.5 689.2 456.3 690.2 460.2 691.2 464.6 692.2 468.7 693.2 472.2 694.2 475.0 695.2 476.9 696.2 478.0 697.2 478.5 698.2 478.5 699.2 478.0 700.2 477.4 700.9 477.1 701.2 477.1 701.4 477.1 701.9 477.2 702.2 477.4 703.2 478.2 704.2 479.2 705.2 480.0 706.2 480.6 707.2 481.0 708.2 481.2 709.2 481.3 710.2 481.4 711.2 481.4 712.2 481.4 713.2 481.4 714.2 481.3 715.2 481.2 716.2 481.1 717.2 480.8 718.2 480.4 719.2 479.8 720.2 479.0 721.2 478.2 722.2 477.5 723.2 477.1 723.3 477.1 723.8 477.1 724.2 477.2 724.3 477.2 725.2 477.8 726.2 478.8 727.2 479.8 728.2 480.9 729.2 481.8 730.2 482.5 731.2 483.0 732.2 483.4 733.2 483.7 734.2 484.0 735.2 484.2 736.2 484.4 737.2 484.6 738.2 484.8 739.2 485.0 740.2 485.1 741.2 485.2 742.2 485.4 743.2 485.5 744.2 485.6 745.2 485.7 746.2 485.7 747.2 485.8 748.2 485.8 749.2 485.8 750.2 485.8 751.2 485.8 752.2 485.8 753.2 485.8 754.2 485.8 755.2 485.8 756.2 485.8 757.2 485.8 758.2 485.7 759.2 485.7 760.2 485.7 761.2 485.6 762.2 485.6 763.2 485.5 764.2 485.4 765.2 485.3 766.2 485.1 767.2 485.0 768.2 484.8 769.2 484.6 770.2 484.5 771.2 484.3 772.2 484.1 773.2 484.0 774.2 483.9 774.5 483.9 775.0 483.9 775.2 483.9 775.5 483.9 776.2 484.0 777.2 484.1 778.2 484.2 779.2 484.4 780.2 484.6 781.2 484.7 782.2 484.9 783.2 485.1 784.2 485.2 785.2 485.4 786.2 485.5 787.2 485.6 788.2 485.7 789.2 485.7 790.2 485.8 791.2 485.8 792.2 485.8 793.2 485.9 794.2 485.9 795.2 485.9 796.2 485.9 797.2 485.9 798.2 485.9 799.2 485.9 800.2 485.9 801.2 486.0 802.2 486.0 803.2 486.0 804.2 486.0 805.2 486.0 806.2 486.0 807.2 486.0 808.2 486.0 809.2 486.0 810.2 486.0 811.2 486.0 812.2 486.0 813.2 486.0 814.2 486.0 815.2 486.0 816.2 486.0 817.2 486.0 818.2 486.0 819.2 486.0 820.2 486.0 821.2 485.9 822.2 485.9 823.2 485.9 824.2 485.8 825.2 485.8 826.2 485.7 827.2 485.7 828.2 485.6 829.2 485.6 830.2 485.5 831.2 485.4 832.2 485.3 833.2 485.3 834.2 485.2 835.2 485.1 836.2 485.0 837.2 484.9 838.2 484.8 839.2 484.8 840.2 484.7 841.2 484.6 842.2 484.5 843.2 484.4 844.2 484.3 845.2 484.2 846.2 484.1 847.2 484.0 848.2 483.9 849.2 483.8 850.2 483.7 851.2 483.6 852.2 483.6 853.2 483.5 854.2 483.4 855.2 483.3 856.2 483.2 857.2 483.2 858.2 483.1 859.2 483.0 860.2 483.0 861.2 482.9 862.2 482.9 863.2 482.8 864.2 482.8 865.2 482.7 866.2 482.6 867.2 482.6 868.2 482.5 869.2 482.5 870.2 482.4 871.2 482.3 872.2 482.3 873.2 482.2 874.2 482.2 875.2 482.1 876.2 482.0 877.2 482.0 878.2 481.9 879.2 481.9 880.2 481.8 881.2 481.8 882.2 481.7 883.2 481.7 884.2 481.6 885.2 481.6 886.2 481.5 887.2 481.5 888.2 481.4 889.2 481.4 890.2 481.3 891.2 481.3 892.2 481.2 893.2 481.2 894.2 481.2 895.2 481.1 896.2 481.1 897.2 481.1 898.2 481.0 899.2 481.0 900.2 481.0 901.2 481.0 902.2 480.9 903.2 480.9 904.2 480.9 905.2 480.9 906.2 480.9 907.2 480.8 908.2 480.8 909.2 480.8 910.2 480.8 911.2 480.7 912.2 480.7 913.2 480.7 914.2 480.6 915.2 480.6 916.2 480.6 917.2 480.5 918.2 480.5 919.2 480.4 920.2 480.3 921.2 480.2 922.2 480.1 923.2 480.0 924.2 479.9 925.2 479.7 926.2 479.5 927.2 479.2 928.2 479.0 929.2 478.7 930.2 478.3 931.2 478.0 932.2 477.6 933.2 477.2 934.2 476.8 935.2 476.5 936.2 476.1 937.2 475.9 938.2 475.6 939.2 475.5 939.3 475.5 939.8 475.5 940.2 475.5 940.3 475.5 941.2 475.6 942.2 475.7 943.2 476.0 944.2 476.3 945.2 476.6 946.2 477.0 947.2 477.3 948.2 477.7 949.2 478.0 950.2 478.3 951.2 478.6 952.2 478.8 953.2 479.0 954.2 479.2 955.2 479.3 956.2 479.3 957.2 479.3 958.2 479.3 959.2 479.2 960.2 479.0 961.2 478.8 962.2 478.5 963.2 478.1 964.2 477.7 965.2 477.4 966.2 477.0 967.2 476.7 968.1 476.6 968.2 476.6 968.6 476.6 969.1 476.6 969.2 476.6 970.2 476.8 971.2 477.1 972.2 477.5 973.2 477.9 974.2 478.3 975.2 478.6 976.2 478.9 977.2 479.2 978.2 479.4 979.2 479.6 980.2 479.7 981.2 479.8 982.2 479.9 983.2 479.9 984.2 480.0 985.2 480.0 986.2 480.0 987.2 480.0 988.2 480.0 989.2 480.0 990.2 480.0 991.2 480.0 992.2 480.0 993.2 480.0 994.2 480.0 995.2 480.0 996.2 480.0 997.2 480.0 998.2 480.0 999.2 480.0 1000.2 480.0 1001.2 480.0 1002.2 480.0 1003.2 480.0 1004.2 480.0 1005.2 479.9 1006.2 479.9 1007.2 479.9 1008.2 479.9 1009.2 479.9 1010.2 479.9 1011.2 479.9 1012.2 479.8 1013.2 479.8 1014.2 479.8 1015.2 479.8 1016.2 479.8 1017.2 479.8 1018.2 479.7 1019.2 479.7 1020.2 479.7 1021.2 479.7 1022.2 479.7 1023.2 479.6 1024.2 479.6 1025.2 479.6 1026.2 479.6 1027.2 479.6 1028.2 479.6 1029.2 479.5 1030.2 479.5 1031.2 479.5 1032.2 479.5 1033.2 479.5 1034.2 479.4 1035.2 479.4 1036.2 479.4 1037.2 479.4 1038.2 479.4 1039.2 479.4 1040.2 479.3 1041.2 479.3 1042.2 479.3 1043.2 479.3 1044.2 479.3 1045.2 479.3 1046.2 479.3 1047.2 479.3 1048.2 479.2 1049.2 479.2 1050.2 479.2 1051.2 479.2 1052.2 479.2 1053.2 479.2 1054.2 479.2 1055.2 479.2 1056.2 479.2 1057.2 479.2 1058.2 479.2" stroke="#008080"/>
<path d="M72.2 451.3L73.2 451.3 74.2 451.3 75.2 451.3 76.2 451.3 77.2 451.3 78.2 451.3 79.2 451.3 80.2 451.4 81.2 451.4 82.2 451.4 83.2 451.4 84.2 451.4 85.2 451.4 86.2 451.5 87.2 451.5 88.2 451.5 89.2 451.5 90.2 451.5 91.2 451.6 92.2 451.6 93.2 451.6 94.2 451.6 95.2 451.7 96.2 451.7 97.2 451.7 98.2 451.7 99.2 451.8 100.2 451.8 101.2 451.8 102.2 451.9 103.2 451.9 104.2 451.9 105.2 451.9 106.2 452.0 107.2 452.0 108.2 452.0 109.2 452.0 110.2 452.1 111.2 452.1 112.2 452.1 113.2 452.2 114.2 452.2 115.2 452.2 116.2 452.2 117.2 452.3 118.2 452.3 119.2 452.3 120.2 452.3 121.2 452.4 122.2 452.4 123.2 452.4 124.2 452.4 125.2 452.4 126.2 452.4 127.2 452.5 128.2 452.5 129.2 452.5 130.2 452.5 131.2 452.5 132.2 452.5 133.2 452.5 134.2 452.5 135.2 452.6 136.2 452.6 137.2 452.6 138.2 452.6 139.2 452.6 140.2 452.6 141.2 452.6 142.2 452.6 143.2 452.6 144.2 452.7 145.2 452.7 146.2 452.7 147.2 452.7 148.2 452.7 149.2 452.7 150.2 452.7 151.2 452.7 152.2 452.7 153.2 452.8 154.2 452.8 155.2 452.8 156.2 452.8 157.2 452.8 158.2 452.8 159.2 452.8 160.2 452.8 161.2 452.8 162.2 452.8 163.2 452.8 164.2 452.8 165.2 452.8 166.2 452.8 167.2 452.9 168.2 452.9 169.2 452.9 170.2 452.9 171.2 452.9 172.2 452.9 173.2 452.8 174.2 452.8 175.2 452.8 176.2 452.8 177.2 452.8 178.2 452.8 179.2 452.7 180.2 452.7 181.2 452.6 182.2 452.5 183.2 452.3 184.2 452.0 185.2 451.3 186.2 449.9 187.2 447.4 188.2 443.8 189.2 440.0 189.7 438.8 190.2 438.3 190.7 438.8 191.2 440.0 192.2 443.8 193.2 447.4 194.2 449.9 195.2 451.4 196.2 452.1 197.2 452.4 198.2 452.6 199.2 452.7 200.2 452.8 201.2 452.8 202.2 452.9 203.2 452.9 204.2 452.9 205.2 452.9 206.2 453.0 207.2 453.0 208.2 453.0 209.2 453.0 210.2 453.0 211.2 453.0 212.2 453.0 213.2 453.0 214.2 453.0 215.2 453.0 216.2 453.0 217.2 453.0 218.2 453.0 219.2 453.0 220.2 452.9 221.2 452.9 222.2 452.9 223.2 452.9 224.2 452.9 225.2 452.9 226.2 452.8 227.2 452.8 228.2 452.8 229.2 452.8 230.2 452.7 231.2 452.7 232.2 452.7 233.2 452.7 234.2 452.6 235.2 452.6 236.2 452.6 237.2 452.5 238.2 452.5 239.2 452.5 240.2 452.4 241.2 452.4 242.2 452.3 243.2 452.3 244.2 452.3 245.2 452.2 246.2 452.2 247.2 452.1 248.2 452.1 249.2 452.0 250.2 452.0 251.2 452.0 252.2 451.9 253.2 451.9 254.2 451.8 255.2 451.8 256.2 451.7 257.2 451.7 258.2 451.6 259.2 451.5 260.2 451.5 261.2 451.4 262.2 451.4 263.2 451.3 264.2 451.2 265.2 451.2 266.2 451.1 267.2 451.0 268.2 450.9 269.2 450.8 270.2 450.7 271.2 450.6 272.2 450.5 273.2 450.4 274.2 450.3 275.2 450.2 276.2 450.1 277.2 449.9 278.2 449.8 279.2 449.6 280.2 449.5 281.2 449.3 282.2 449.1 283.2 448.9 284.2 448.7 285.2 448.5 286.2 448.3 287.2 448.0 288.2 447.7 289.2 447.4 290.2 447.0 291.2 446.6 292.2 446.2 293.2 445.7 294.2 445.1 295.2 444.4 296.2 443.6 297.2 442.6 298.2 441.5 299.2 440.0 300.2 438.2 301.2 435.8 302.2 432.5 303.2 427.7 304.2 420.5 305.2 409.5 306.2 393.0 307.2 369.8 308.2 340.1 309.2 309.0 310.0 291.6 310.2 289.4 310.5 288.1 311.0 291.5 311.2 294.6 312.2 320.6 313.2 352.0 314.2 379.1 315.2 399.3 316.2 413.2 317.2 422.3 318.2 428.2 319.2 432.1 320.2 434.7 321.2 436.6 322.2 438.0 323.2 439.1 324.2 440.0 325.2 440.6 326.2 441.2 327.2 441.6 328.2 441.8 329.2 442.0 330.2 442.2 331.2 442.2 332.2 442.1 333.2 442.0 334.2 441.8 335.2 441.4 336.2 441.0 337.2 440.5 338.2 439.9 339.2 439.2 340.2 438.5 341.2 437.8 342.2 437.1 343.2 436.6 344.2 436.2 344.5 436.1 345.0 436.0 345.2 436.0 345.5 436.0 346.2 436.0 347.2 436.2 348.2 436.6 349.2 437.1 350.2 437.6 351.2 438.1 352.2 438.6 353.2 439.0 354.2 439.4 355.2 439.7 356.2 439.9 357.2 440.0 358.2 440.2 359.2 440.2 360.2 440.2 361.2 440.1 362.2 439.9 363.2 439.6 364.2 439.0 365.2 438.0 366.2 436.4 367.2 433.9 368.2 430.1 369.2 425.2 370.2 419.2 371.2 412.9 372.2 407.3 373.1 404.2 373.2 404.1 373.6 403.8 374.1 404.4 374.2 404.6 375.2 408.6 376.2 414.7 377.2 421.3 378.2 427.4 379.2 432.3 380.2 436.0 381.2 438.5 382.2 440.2 383.2 441.3 384.2 442.1 385.2 442.6 386.2 443.0 387.2 443.3 388.2 443.5 389.2 443.8 390.2 444.0 391.2 444.3 392.2 444.5 393.2 444.6 394.2 444.7 395.2 444.8 396.2 444.9 397.2 444.8 398.2 444.5 399.2 443.8 400.2 442.8 401.2 441.7 401.8 441.3 402.2 441.2 402.3 441.2 402.8 441.4 403.2 441.7 404.2 442.9 405.2 444.1 406.2 445.0 407.2 445.6 408.2 445.8 409.2 446.0 410.2 446.0 411.2 445.9 412.2 445.6 413.2 445.3 414.2 445.0 415.2 444.8 416.2 444.7 417.2 444.8 418.2 445.0 419.2 445.2 420.2 445.5 421.2 445.8 422.2 446.0 423.2 446.0 424.2 446.0 425.2 446.0 426.2 446.0 427.2 446.0 428.2 446.0 429.2 446.0 430.2 446.0 431.2 446.0 432.2 446.0 433.2 446.0 434.2 446.0 435.2 446.0 436.2 446.0 437.2 446.0 438.2 446.0 439.2 446.0 440.2 445.9 441.2 445.7 442.2 445.5 443.2 445.3 444.2 445.0 445.2 444.6 446.2 444.3 447.2 444.0 448.2 443.7 449.2 443.3 450.2 443.0 451.2 442.4 452.2 441.7 453.2 440.7 454.2 439.5 455.2 438.3 455.9 437.7 456.2 437.6 456.4 437.5 456.9 437.5 457.2 437.6 458.2 438.2 459.2 439.0 460.2 439.7 461.2 440.2 462.2 440.5 463.2 440.6 464.2 440.7 465.2 440.9 466.2 441.2 467.2 441.6 468.2 442.0 469.2 442.4 470.2 442.7 471.2 443.0 472.2 443.2 473.2 443.3 474.2 443.3 475.2 443.2 476.2 443.2 477.2 443.1 478.2 443.0 479.2 442.9 480.2 442.9 481.2 442.8 482.2 442.6 483.2 442.5 484.2 442.4 485.2 442.3 486.2 442.1 487.2 441.8 488.2 441.4 489.2 440.8 490.2 440.1 491.0 439.6 491.2 439.5 491.5 439.4 492.0 439.3 492.2 439.3 493.2 439.5 494.2 439.5 495.2 439.2 496.2 438.4 497.2 437.2 498.2 435.6 499.2 433.6 500.2 431.4 501.2 429.1 502.2 427.0 503.2 425.5 503.7 425.1 504.2 424.9 504.7 425.0 505.2 425.4 506.2 426.8 507.2 428.8 508.2 430.9 509.2 433.0 510.2 434.9 511.2 436.4 512.2 437.6 513.2 438.5 514.2 439.0 515.2 439.4 516.2 439.5 517.2 439.6 518.2 439.5 519.2 439.3 520.2 439.1 521.2 438.8 522.2 438.5 523.2 438.1 524.2 437.6 525.2 437.1 526.2 436.4 527.2 435.7 528.2 434.9 529.2 434.1 530.2 433.2 531.2 432.3 532.2 431.4 533.2 430.6 534.2 429.9 535.2 429.4 535.9 429.2 536.2 429.1 536.4 429.1 536.9 429.1 537.2 429.1 538.2 429.2 539.2 429.6 540.2 430.1 541.2 430.7 542.2 431.4 543.2 432.0 544.2 432.7 545.2 433.3 546.2 433.8 547.2 434.2 548.2 434.6 549.2 434.9 550.2 435.1 551.2 435.3 552.2 435.4 553.2 435.4 554.2 435.5 555.2 435.4 556.2 435.3 557.2 435.0 558.2 434.5 559.2 433.8 560.2 432.7 561.2 431.1 562.2 429.1 563.2 426.4 564.2 423.1 565.2 419.1 566.2 414.6 567.2 409.7 568.2 404.8 569.2 400.4 570.2 397.0 571.0 395.6 571.2 395.4 571.5 395.3 572.0 395.6 572.2 395.8 573.2 398.2 574.2 402.0 575.2 406.7 576.2 411.6 577.2 416.4 578.2 420.8 579.2 424.5 580.2 427.6 581.2 430.0 582.2 431.9 583.2 433.2 584.2 434.2 585.2 434.9 586.2 435.4 587.2 435.8 588.2 436.1 589.2 436.3 590.2 436.5 591.2 436.6 592.2 436.8 593.2 437.0 594.2 437.3 595.2 437.7 596.2 438.1 597.2 438.6 598.2 439.0 599.2 439.4 600.2 439.8 601.2 440.0 602.2 440.1 603.2 440.1 604.2 440.0 605.2 439.7 606.2 439.3 607.2 438.7 608.2 438.2 608.5 438.1 609.0 438.0 609.2 438.0 609.5 438.0 610.2 438.3 611.2 438.9 612.2 439.4 613.2 439.7 614.2 439.8 615.2 439.9 616.2 439.8 617.2 439.8 618.2 439.7 619.2 439.7 620.2 439.6 621.2 439.5 622.2 439.4 623.2 439.3 624.2 439.2 625.2 439.0 626.2 438.7 627.2 438.3 628.2 437.7 629.2 436.9 630.2 436.1 631.0 435.7 631.2 435.7 631.5 435.6 632.0 435.6 632.2 435.7 633.2 436.1 634.2 436.7 635.2 437.2 636.2 437.6 637.2 437.7 638.2 437.8 639.2 437.8 640.2 437.7 641.2 437.7 642.2 437.6 643.2 437.5 644.2 437.4 645.2 437.4 646.2 437.3 647.2 437.2 648.2 437.1 649.2 437.1 650.2 437.0 651.2 436.9 652.2 436.8 653.2 436.8 654.2 436.7 655.2 436.6 656.2 436.5 657.2 436.4 658.2 436.3 659.2 436.2 660.2 436.0 661.2 435.9 662.2 435.7 663.2 435.4 664.2 435.1 665.2 434.8 666.2 434.3 667.2 433.8 668.2 433.2 669.2 432.6 670.2 432.0 671.2 431.5 671.9 431.2 672.2 431.1 672.4 431.1 672.9 431.0 673.2 431.0 674.2 431.0 675.2 431.1 676.2 431.1 677.2 430.9 678.2 430.4 679.2 429.5 680.2 428.0 681.2 426.0 682.2 423.2 683.2 419.8 684.2 416.0 685.2 412.0 686.2 408.4 687.2 405.8 687.7 405.1 688.2 404.8 688.7 405.0 689.2 405.7 690.2 408.2 691.2 411.7 692.2 415.6 693.2 419.4 694.2 422.8 695.2 425.5 696.2 427.7 697.2 429.2 698.2 430.1 699.2 430.6 700.2 430.6 701.2 430.5 702.2 430.4 702.7 430.4 703.2 430.5 704.2 431.0 705.2 431.6 706.2 432.1 707.2 432.5 708.2 432.8 709.2 432.9 710.2 433.0 711.2 433.1 712.2 433.1 713.2 433.1 714.2 433.0 715.2 432.9 716.2 432.8 717.2 432.5 718.2 432.0 719.2 431.4 720.2 430.6 721.2 429.8 722.2 429.0 723.2 428.5 723.3 428.5 723.8 428.5 724.2 428.6 724.3 428.6 725.2 429.2 726.2 430.1 727.2 431.2 728.2 432.2 729.2 433.1 730.2 433.8 731.2 434.3 732.2 434.7 733.2 435.0 734.2 435.2 735.2 435.4 736.2 435.6 737.2 435.7 738.2 435.9 739.2 436.0 740.2 436.2 741.2 436.3 742.2 436.4 743.2 436.5 744.2 436.6 745.2 436.7 746.2 436.8 747.2 436.9 748.2 437.0 749.2 437.0 750.2 437.1 751.2 437.1 752.2 437.1 753.2 437.2 754.2 437.2 755.2 437.3 756.2 437.3 757.2 437.3 758.2 437.3 759.2 437.4 760.2 437.4 761.2 437.3 762.2 437.3 763.2 437.3 764.2 437.2 765.2 437.1 766.2 437.0 767.2 436.9 768.2 436.8 769.2 436.7 770.2 436.5 771.2 436.4 772.2 436.3 773.2 436.2 774.2 436.1 774.5 436.1 775.0 436.1 775.2 436.2 775.5 436.2 776.2 436.2 777.2 436.4 778.2 436.5 779.2 436.7 780.2 436.9 781.2 437.2 782.2 437.4 783.2 437.6 784.2 437.7 785.2 437.9 786.2 438.0 787.2 438.2 788.2 438.3 789.2 438.4 790.2 438.4 791.2 438.5 792.2 438.6 793.2 438.6 794.2 438.6 795.2 438.7 796.2 438.7 797.2 438.7 798.2 438.8 799.2 438.8 800.2 438.8 801.2 438.8 802.2 438.9 803.2 438.9 804.2 438.9 805.2 438.9 806.2 438.9 807.2 438.9 808.2 438.9 809.2 439.0 810.2 439.0 811.2 439.0 812.2 439.0 813.2 439.0 814.2 439.0 815.2 439.0 816.2 439.0 817.2 439.0 818.2 439.0 819.2 438.9 820.2 438.9 821.2 438.7 822.2 438.6 823.2 438.4 824.2 438.2 825.2 438.0 826.2 437.8 827.2 437.5 828.2 437.3 829.2 437.0 830.2 436.7 831.2 436.5 832.2 436.2 833.2 436.0 834.2 435.8 835.2 435.6 836.2 435.4 837.2 435.2 838.2 435.1 839.2 435.0 840.2 434.9 841.2 434.8 842.2 434.8 843.2 434.7 844.2 434.7 845.2 434.6 846.2 434.5 847.2 434.5 848.2 434.4 849.2 434.4 850.2 434.3 851.2 434.3 852.2 434.2 853.2 434.1 854.2 434.1 855.2 434.0 856.2 433.9 857.2 433.8 858.2 433.7 859.2 433.6 860.2 433.4 861.2 433.3 862.2 433.1 863.2 432.8 864.2 432.6 865.2 432.4 866.2 432.1 867.2 431.9 868.2 431.6 869.2 431.4 870.2 431.3 870.9 431.2 871.2 431.2 871.4 431.2 871.9 431.2 872.2 431.2 873.2 431.3 874.2 431.4 875.2 431.6 876.2 431.8 877.2 432.0 878.2 432.2 879.2 432.4 880.2 432.5 881.2 432.7 882.2 432.8 883.2 432.9 884.2 433.0 885.2 433.1 886.2 433.1 887.2 433.1 888.2 433.2 889.2 433.2 890.2 433.2 891.2 433.2 892.2 433.2 893.2 433.1 894.2 433.1 895.2 433.1 896.2 433.1 897.2 433.1 898.2 433.0 899.2 433.0 900.2 433.0 901.2 433.0 902.2 432.9 903.2 432.9 904.2 432.9 905.2 432.9 906.2 432.8 907.2 432.8 908.2 432.8 909.2 432.7 910.2 432.7 911.2 432.7 912.2 432.6 913.2 432.6 914.2 432.6 915.2 432.5 916.2 432.5 917.2 432.4 918.2 432.3 919.2 432.3 920.2 432.2 921.2 432.1 922.2 432.0 923.2 431.9 924.2 431.8 925.2 431.6 926.2 431.4 927.2 431.2 928.2 431.0 929.2 430.8 930.2 430.5 931.2 430.2 932.2 429.9 933.2 429.6 934.2 429.2 935.2 428.9 936.2 428.6 937.2 428.3 938.2 428.0 939.2 427.8 940.2 427.6 941.1 427.5 941.2 427.5 941.6 427.5 942.1 427.5 942.2 427.5 943.2 427.6 944.2 427.7 945.2 427.9 946.2 428.1 947.2 428.3 948.2 428.6 949.2 428.9 950.2 429.2 951.2 429.4 952.2 429.7 953.2 429.9 954.2 430.1 955.2 430.2 956.2 430.3 957.2 430.4 958.2 430.4 959.2 430.3 960.2 430.2 961.2 430.1 962.2 429.9 963.2 429.7 964.2 429.5 965.2 429.2 966.2 429.0 967.2 428.8 968.2 428.7 968.8 428.6 969.2 428.6 969.3 428.6 969.8 428.6 970.2 428.6 971.2 428.8 972.2 428.9 973.2 429.2 974.2 429.4 975.2 429.7 976.2 430.0 977.2 430.2 978.2 430.4 979.2 430.6 980.2 430.7 981.2 430.8 982.2 430.9 983.2 431.0 984.2 431.0 985.2 431.1 986.2 431.1 987.2 431.1 988.2 431.1 989.2 431.1 990.2 431.1 991.2 431.1 992.2 431.1 993.2 431.1 994.2 431.1 995.2 431.1 996.2 431.0 997.2 431.0 998.2 431.0 999.2 431.0 1000.2 431.0 1001.2 431.0 1002.2 431.0 1003.2 431.0 1004.2 430.9 1005.2 430.9 1006.2 430.9 1007.2 430.9 1008.2 430.9 1009.2 430.8 1010.2 430.8 1011.2 430.8 1012.2 430.8 1013.2 430.8 1014.2 430.8 1015.2 430.7 1016.2 430.7 1017.2 430.7 1018.2 430.7 1019.2 430.6 1020.2 430.6 1021.2 430.6 1022.2 430.6 1023.2 430.6 1024.2 430.5 1025.2 430.5 1026.2 430.5 1027.2 430.5 1028.2 430.5 1029.2 430.4 1030.2 430.4 1031.2 430.4 1032.2 430.4 1033.2 430.4 1034.2 430.3 1035.2 430.3 1036.2 430.3 1037.2 430.3 1038.2 430.3 1039.2 430.3 1040.2 430.2 1041.2 430.2 1042.2 430.2 1043.2 430.2 1044.2 430.2 1045.2 430.2 1046.2 430.2 1047.2 430.2 1048.2 430.1 1049.2 430.1 1050.2 430.1 1051.2 430.1 1052.2 430.1 1053.2 430.1 1054.2 430.1 1055.2 430.1 1056.2 430.1 1057.2 430.1 1058.2 430.1" stroke="#ff0080"/>
<path d="M72.2 394.2L73.2 394.2 74.2 394.2 75.2 394.2 76.2 394.2 77.2 394.2 78.2 394.3 79.2 394.3 80.2 394.3 81.2 394.3 82.2 394.4 83.2 394.4 84.2 394.4 85.2 394.4 86.2 394.5 87.2 394.5 88.2 394.6 89.2 394.6 90.2 394.6 91.2 394.7 92.2 394.7 93.2 394.8 94.2 394.8 95.2 394.8 96.2 394.9 97.2 394.9 98.2 395.0 99.2 395.0 100.2 395.1 101.2 395.1 102.2 395.2 103.2 395.2 104.2 395.3 105.2 395.3 106.2 395.4 107.2 395.4 108.2 395.5 109.2 395.5 110.2 395.6 111.2 395.6 112.2 395.7 113.2 395.7 114.2 395.7 115.2 395.8 116.2 395.8 117.2 395.9 118.2 395.9 119.2 395.9 120.2 396.0 121.2 396.0 122.2 396.0 123.2 396.0 124.2 396.1 125.2 396.1 126.2 396.1 127.2 396.1 128.2 396.2 129.2 396.2 130.2 396.2 131.2 396.3 132.2 396.3 133.2 396.3 134.2 396.4 135.2 396.4 136.2 396.4 137.2 396.4 138.2 396.5 139.2 396.5 140.2 396.5 141.2 396.6 142.2 396.6 143.2 396.6 144.2 396.6 145.2 396.7 146.2 396.7 147.2 396.7 148.2 396.7 149.2 396.8 150.2 396.8 151.2 396.8 152.2 396.8 153.2 396.9 154.2 396.9 155.2 396.9 156.2 396.9 157.2 396.9 158.2 397.0 159.2 397.0 160.2 397.0 161.2 397.0 162.2 397.0 163.2 397.0 164.2 397.0 165.2 397.0 166.2 397.0 167.2 397.0 168.2 397.0 169.2 397.0 170.2 397.0 171.2 397.0 172.2 397.0 173.2 397.0 174.2 397.0 175.2 397.0 176.2 396.9 177.2 396.9 178.2 396.9 179.2 396.8 180.2 396.7 181.2 396.7 182.2 396.5 183.2 396.4 184.2 396.1 185.2 395.5 186.2 394.2 187.2 391.9 188.2 388.4 189.2 384.3 190.0 381.9 190.2 381.6 190.5 381.4 191.0 381.9 191.2 382.3 192.2 385.9 193.2 389.8 194.2 392.8 195.2 394.6 196.2 395.5 197.2 395.9 198.2 396.1 199.2 396.2 200.2 396.3 201.2 396.3 202.2 396.3 203.2 396.3 204.2 396.3 205.2 396.3 206.2 396.3 207.2 396.3 208.2 396.3 209.2 396.3 210.2 396.3 211.2 396.3 212.2 396.2 213.2 396.2 214.2 396.2 215.2 396.2 216.2 396.2 217.2 396.1 218.2 396.1 219.2 396.1 220.2 396.1 221.2 396.1 222.2 396.0 223.2 396.0 224.2 396.0 225.2 396.0 226.2 395.9 227.2 395.9 228.2 395.9 229.2 395.8 230.2 395.8 231.2 395.8 232.2 395.7 233.2 395.7 234.2 395.7 235.2 395.6 236.2 395.6 237.2 395.6 238.2 395.5 239.2 395.5 240.2 395.4 241.2 395.4 242.2 395.3 243.2 395.3 244.2 395.2 245.2 395.2 246.2 395.1 247.2 395.0 248.2 395.0 249.2 394.9 250.2 394.8 251.2 394.7 252.2 394.6 253.2 394.5 254.2 394.4 255.2 394.3 256.2 394.2 257.2 394.1 258.2 394.0 259.2 393.9 260.2 393.8 261.2 393.7 262.2 393.7 263.2 393.6 264.2 393.5 265.2 393.4 266.2 393.3 267.2 393.2 268.2 393.0 269.2 392.9 270.2 392.8 271.2 392.6 272.2 392.4 273.2 392.3 274.2 392.1 275.2 392.0 276.2 391.9 276.5 391.8 277.0 391.8 277.2 391.8 277.5 391.8 278.2 391.7 279.2 391.7 280.2 391.6 281.2 391.6 282.2 391.5 283.2 391.5 284.2 391.4 285.2 391.3 286.2 391.2 287.2 391.0 288.2 390.8 289.2 390.5 290.2 390.2 291.2 389.8 292.2 389.3 293.2 388.8 294.2 388.1 295.2 387.3 296.2 386.4 297.2 385.3 298.2 384.1 299.2 382.5 300.2 380.5 301.2 378.0 302.2 374.6 303.2 369.8 304.2 362.9 305.2 352.7 306.2 337.9 307.2 317.5 308.2 291.6 309.2 263.0 310.2 240.3 310.4 237.6 310.9 234.6 311.2 235.5 311.4 237.3 312.2 251.7 313.2 278.8 314.2 305.8 315.2 327.9 316.2 344.2 317.2 355.6 318.2 363.2 319.2 368.2 320.2 371.5 321.2 373.8 322.2 375.5 323.2 376.7 324.2 377.7 325.2 378.4 326.2 379.0 327.2 379.5 328.2 379.9 329.2 380.2 330.2 380.5 331.2 380.7 332.2 380.9 333.2 381.0 334.2 381.1 335.2 381.2 336.2 381.1 337.2 381.1 338.2 380.9 339.2 380.6 340.2 380.3 341.2 379.8 342.2 379.3 343.2 378.6 344.2 377.8 345.2 376.9 346.2 376.1 347.2 375.2 348.2 374.3 349.2 373.7 350.2 373.2 350.6 373.2 351.1 373.1 351.2 373.1 351.6 373.1 352.2 373.3 353.2 373.7 354.2 374.3 355.2 375.1 356.2 375.9 357.2 376.8 358.2 377.5 359.2 378.1 360.2 378.6 361.2 378.9 362.2 378.9 363.2 378.6 364.2 377.9 365.2 376.7 366.2 374.9 367.2 372.3 368.2 368.9 369.2 364.8 370.2 360.2 371.2 355.5 372.2 351.4 373.2 348.7 373.6 348.1 374.1 348.0 374.2 348.1 374.6 348.5 375.2 349.9 376.2 353.7 377.2 358.8 378.2 364.2 379.2 369.4 380.2 374.1 381.2 378.0 382.2 381.1 383.2 383.5 384.2 385.2 385.2 386.5 386.2 387.3 387.2 388.0 388.2 388.4 389.2 388.7 390.2 388.9 391.2 389.1 392.2 389.2 393.2 389.3 394.2 389.3 395.2 389.3 396.2 389.3 397.2 389.2 398.2 388.9 399.2 388.5 400.2 387.7 401.2 386.6 402.2 385.4 403.2 384.4 403.4 384.3 403.9 384.2 404.2 384.2 404.4 384.3 405.2 384.9 406.2 386.0 407.2 387.2 408.2 388.0 409.2 388.6 410.2 388.9 411.2 389.0 412.2 389.1 413.2 389.1 414.2 389.1 415.2 389.1 416.2 389.0 417.2 389.0 418.2 389.0 419.2 388.9 420.2 388.9 421.2 388.9 422.2 388.8 423.2 388.8 424.2 388.7 425.2 388.7 426.2 388.6 427.2 388.6 428.2 388.5 429.2 388.4 430.2 388.4 431.2 388.3 432.2 388.3 433.2 388.2 434.2 388.1 435.2 388.0 436.2 388.0 437.2 387.9 438.2 387.8 439.2 387.7 440.2 387.6 441.2 387.5 442.2 387.4 443.2 387.3 444.2 387.1 445.2 386.9 446.2 386.7 447.2 386.4 448.2 386.0 449.2 385.5 450.2 384.9 451.2 384.2 452.2 383.3 453.2 382.4 454.2 381.4 455.2 380.4 456.2 379.6 457.2 378.9 458.1 378.5 458.2 378.5 458.6 378.4 459.1 378.4 459.2 378.4 460.2 378.7 461.2 379.3 462.2 380.1 463.2 381.0 464.2 381.8 465.2 382.6 466.2 383.2 467.2 383.8 468.2 384.2 469.2 384.5 470.2 384.8 471.2 384.9 472.2 385.0 473.2 385.0 474.2 385.0 475.2 385.0 476.2 385.0 477.2 384.9 478.2 384.9 479.2 384.8 480.2 384.7 481.2 384.7 482.2 384.6 483.2 384.5 484.2 384.4 485.2 384.3 486.2 384.1 487.2 384.0 488.2 383.9 489.2 383.7 490.2 383.4 491.2 383.1 492.2 382.7 493.2 382.2 494.2 381.5 495.2 380.6 496.2 379.3 497.2 377.8 498.2 376.0 499.2 374.0 500.2 371.8 501.2 369.6 502.2 367.6 503.2 366.3 503.7 365.9 504.2 365.7 504.7 365.8 505.2 366.1 506.2 367.3 507.2 369.1 508.2 371.1 509.2 373.1 510.2 375.0 511.2 376.6 512.2 378.0 513.2 379.0 514.2 379.7 515.2 380.2 516.2 380.5 517.2 380.7 518.2 380.7 519.2 380.6 520.2 380.5 521.2 380.2 522.2 379.9 523.2 379.4 524.2 378.9 525.2 378.2 526.2 377.4 527.2 376.5 528.2 375.5 529.2 374.4 530.2 373.3 531.2 372.1 532.2 370.9 533.2 369.7 534.2 368.7 535.2 368.0 536.2 367.5 536.4 367.4 536.9 367.3 537.2 367.3 537.4 367.3 538.2 367.4 539.2 367.9 540.2 368.6 541.2 369.5 542.2 370.5 543.2 371.5 544.2 372.5 545.2 373.4 546.2 374.2 547.2 375.0 548.2 375.6 549.2 376.0 550.2 376.4 551.2 376.6 552.2 376.7 553.2 376.6 554.2 376.4 555.2 376.1 556.2 375.5 557.2 374.7 558.2 373.7 559.2 372.4 560.2 370.7 561.2 368.6 562.2 366.2 563.2 363.3 564.2 360.1 565.2 356.6 566.2 352.9 567.2 349.1 568.2 345.5 569.2 342.3 570.2 339.9 571.2 338.5 571.5 338.3 572.0 338.2 572.2 338.3 572.5 338.4 573.2 339.3 574.2 341.5 575.2 344.6 576.2 348.3 577.2 352.3 578.2 356.3 579.2 360.3 580.2 364.0 581.2 367.3 582.2 370.2 583.2 372.8 584.2 374.9 585.2 376.6 586.2 377.9 587.2 379.0 588.2 379.8 589.2 380.4 590.2 380.9 591.2 381.2 592.2 381.4 593.2 381.5 594.2 381.6 595.2 381.6 596.2 381.6 597.2 381.6 598.2 381.6 599.2 381.6 600.2 381.5 601.2 381.5 602.2 381.5 603.2 381.4 604.2 381.3 605.2 381.3 606.2 381.2 607.2 381.1 608.2 381.0 609.2 380.9 610.2 380.8 611.2 380.7 612.2 380.6 613.2 380.5 614.2 380.4 615.2 380.3 616.2 380.1 617.2 380.0 618.2 379.9 619.2 379.8 620.2 379.6 621.2 379.5 622.2 379.4 623.2 379.2 624.2 379.1 625.2 378.9 626.2 378.7 627.2 378.6 628.2 378.4 629.2 378.2 630.2 378.0 631.2 377.8 632.2 377.7 632.3 377.7 632.8 377.6 633.2 377.5 633.3 377.5 634.2 377.4 635.2 377.4 636.2 377.3 637.2 377.2 638.2 377.1 639.2 377.0 640.2 377.0 641.2 376.9 642.2 376.8 643.2 376.7 644.2 376.6 645.2 376.5 646.2 376.4 647.2 376.3 648.2 376.2 649.2 376.1 650.2 376.0 651.2 375.9 652.2 375.8 653.2 375.7 654.2 375.6 655.2 375.5 656.2 375.4 657.2 375.3 658.2 375.2 659.2 375.0 660.2 374.9 661.2 374.7 662.2 374.5 663.2 374.3 664.2 374.1 665.2 373.7 666.2 373.3 667.2 372.9 668.2 372.4 669.2 371.8 670.2 371.3 671.2 370.8 671.9 370.6 672.2 370.5 672.4 370.4 672.9 370.3 673.2 370.2 674.2 370.1 675.2 370.0 676.2 369.7 677.2 369.3 678.2 368.6 679.2 367.5 680.2 366.0 681.2 364.1 682.2 361.8 683.2 359.1 684.2 356.2 685.2 353.3 686.2 350.6 687.2 348.5 688.2 347.4 688.7 347.2 689.2 347.3 690.2 348.4 691.2 350.4 692.2 353.0 693.2 355.9 694.2 358.7 695.2 361.3 696.2 363.7 697.2 365.7 698.2 367.3 699.2 368.5 700.2 369.5 701.2 370.2 702.2 370.7 703.2 371.0 704.2 371.3 705.2 371.5 706.2 371.6 707.2 371.7 708.2 371.8 709.2 371.8 710.2 371.9 711.2 371.9 712.2 371.9 713.2 371.9 714.2 371.8 715.2 371.7 716.2 371.6 717.2 371.4 718.2 371.1 719.2 370.8 720.2 370.3 721.2 369.9 722.2 369.5 723.2 369.2 724.1 369.1 724.2 369.1 724.6 369.1 725.1 369.2 725.2 369.2 726.2 369.6 727.2 370.1 728.2 370.8 729.2 371.4 730.2 372.0 731.2 372.5 732.2 373.0 733.2 373.4 734.2 373.7 735.2 374.0 736.2 374.2 737.2 374.4 738.2 374.6 739.2 374.8 740.2 375.0 741.2 375.1 742.2 375.3 743.2 375.5 744.2 375.6 745.2 375.8 746.2 376.0 747.2 376.1 748.2 376.3 749.2 376.4 750.2 376.5 751.2 376.7 752.2 376.8 753.2 376.9 754.2 377.1 755.2 377.2 756.2 377.3 757.2 377.4 758.2 377.5 759.2 377.6 760.2 377.6 761.2 377.7 762.2 377.8 763.2 377.8 764.2 377.8 765.2 377.8 766.2 377.8 767.2 377.7 768.2 377.7 769.2 377.6 770.2 377.4 771.2 377.3 772.2 377.1 773.2 376.9 774.2 376.7 775.2 376.5 776.2 376.2 777.2 376.0 778.2 375.8 779.2 375.7 780.1 375.7 780.2 375.7 780.6 375.7 781.1 375.7 781.2 375.7 782.2 375.9 783.2 376.1 784.2 376.4 785.2 376.7 786.2 377.0 787.2 377.3 788.2 377.6 789.2 377.9 790.2 378.1 791.2 378.3 792.2 378.5 793.2 378.7 794.2 378.8 795.2 379.0 796.2 379.1 797.2 379.1 798.2 379.2 799.2 379.3 800.2 379.3 801.2 379.4 802.2 379.4 803.2 379.4 804.2 379.5 805.2 379.5 806.2 379.5 807.2 379.5 808.2 379.6 809.2 379.6 810.2 379.6 811.2 379.6 812.2 379.6 813.2 379.6 814.2 379.7 815.2 379.7 816.2 379.7 817.2 379.7 818.2 379.7 819.2 379.7 820.2 379.7 821.2 379.7 822.2 379.6 823.2 379.5 824.2 379.4 825.2 379.2 826.2 379.0 827.2 378.8 828.2 378.5 829.2 378.3 830.2 378.0 831.2 377.8 832.2 377.5 833.2 377.2 834.2 377.0 835.2 376.7 836.2 376.5 837.2 376.3 838.2 376.1 839.2 375.9 840.2 375.8 841.2 375.6 842.2 375.5 843.2 375.4 844.2 375.2 845.2 375.1 846.2 374.9 847.2 374.8 848.2 374.7 849.2 374.5 850.2 374.4 851.2 374.3 852.2 374.2 853.2 374.1 854.2 374.0 855.2 373.9 856.2 373.8 857.2 373.8 858.2 373.7 859.2 373.6 860.2 373.6 861.2 373.5 862.2 373.5 863.2 373.4 864.2 373.3 865.2 373.2 866.2 373.1 867.2 372.9 868.2 372.8 869.2 372.6 870.2 372.5 871.2 372.3 872.2 372.2 873.2 372.1 874.2 372.0 874.5 372.0 875.0 372.0 875.2 372.0 875.5 372.0 876.2 372.1 877.2 372.1 878.2 372.3 879.2 372.5 880.2 372.6 881.2 372.8 882.2 373.0 883.2 373.1 884.2 373.3 885.2 373.4 886.2 373.6 887.2 373.6 888.2 373.7 889.2 373.8 890.2 373.9 891.2 373.9 892.2 373.9 893.2 374.0 894.2 374.0 895.2 374.0 896.2 374.0 897.2 374.0 898.2 374.0 899.2 374.1 900.2 374.1 901.2 374.1 902.2 374.1 903.2 374.1 904.2 374.1 905.2 374.1 906.2 374.1 907.2 374.0 908.2 374.0 909.2 374.0 910.2 374.0 911.2 374.0 912.2 373.9 913.2 373.9 914.2 373.9 915.2 373.8 916.2 373.7 917.2 373.7 918.2 373.6 919.2 373.5 920.2 373.4 921.2 373.2 922.2 373.1 923.2 372.9 924.2 372.7 925.2 372.5 926.2 372.3 927.2 372.0 928.2 371.8 929.2 371.5 930.2 371.2 931.2 370.8 932.2 370.5 933.2 370.1 934.2 369.7 935.2 369.4 936.2 369.0 937.2 368.7 938.2 368.3 939.2 368.0 940.2 367.8 941.2 367.6 942.2 367.4 943.0 367.3 943.2 367.3 943.5 367.3 944.0 367.3 944.2 367.3 945.2 367.3 946.2 367.4 947.2 367.5 948.2 367.7 949.2 368.0 950.2 368.2 951.2 368.5 952.2 368.7 953.2 369.0 954.2 369.2 955.2 369.5 956.2 369.7 957.2 369.9 958.2 370.0 959.2 370.1 960.2 370.1 961.2 370.1 962.2 370.0 963.2 369.9 964.2 369.7 965.2 369.5 966.2 369.2 967.2 369.0 968.2 368.7 969.2 368.5 970.2 368.4 970.5 368.4 971.0 368.4 971.2 368.4 971.5 368.4 972.2 368.5 973.2 368.7 974.2 368.9 975.2 369.2 976.2 369.5 977.2 369.8 978.2 370.1 979.2 370.4 980.2 370.6 981.2 370.8 982.2 370.9 983.2 371.0 984.2 371.1 985.2 371.2 986.2 371.2 987.2 371.2 988.2 371.2 989.2 371.2 990.2 371.2 991.2 371.2 992.2 371.2 993.2 371.2 994.2 371.1 995.2 371.1 996.2 371.1 997.2 371.1 998.2 371.0 999.2 371.0 1000.2 371.0 1001.2 371.0 1002.2 370.9 1003.2 370.9 1004.2 370.9 1005.2 370.9 1006.2 370.8 1007.2 370.8 1008.2 370.8 1009.2 370.7 1010.2 370.7 1011.2 370.7 1012.2 370.6 1013.2 370.6 1014.2 370.6 1015.2 370.5 1016.2 370.5 1017.2 370.5 1018.2 370.4 1019.2 370.4 1020.2 370.4 1021.2 370.3 1022.2 370.3 1023.2 370.3 1024.2 370.2 1025.2 370.2 1026.2 370.2 1027.2 370.1 1028.2 370.1 1029.2 370.1 1030.2 370.0 1031.2 370.0 1032.2 370.0 1033.2 369.9 1034.2 369.9 1035.2 369.9 1036.2 369.9 1037.2 369.8 1038.2 369.8 1039.2 369.8 1040.2 369.7 1041.2 369.7 1042.2 369.7 1043.2 369.7 1044.2 369.7 1045.2 369.6 1046.2 369.6 1047.2 369.6 1048.2 369.6 1049.2 369.6 1050.2 369.6 1051.2 369.5 1052.2 369.5 1053.2 369.5 1054.2 369.5 1055.2 369.5 1056.2 369.5 1057.2 369.5 1058.2 369.5" stroke="#000000"/>
<path d="M72.2 351.3L73.2 351.3 74.2 351.3 75.2 351.3 76.2 351.3 77.2 351.4 78.2 351.4 79.2 351.4 80.2 351.4 81.2 351.5 82.2 351.5 83.2 351.5 84.2 351.6 85.2 351.6 86.2 351.7 87.2 351.7 88.2 351.7 89.2 351.8 90.2 351.8 91.2 351.9 92.2 352.0 93.2 352.0 94.2 352.1 95.2 352.1 96.2 352.2 97.2 352.3 98.2 352.3 99.2 352.4 100.2 352.4 101.2 352.5 102.2 352.6 103.2 352.6 104.2 352.7 105.2 352.8 106.2 352.8 107.2 352.9 108.2 353.0 109.2 353.0 110.2 353.1 111.2 353.1 112.2 353.2 113.2 353.3 114.2 353.3 115.2 353.4 116.2 353.4 117.2 353.5 118.2 353.5 119.2 353.6 120.2 353.6 121.2 353.7 122.2 353.7 123.2 353.8 124.2 353.8 125.2 353.8 126.2 353.9 127.2 353.9 128.2 354.0 129.2 354.0 130.2 354.1 131.2 354.1 132.2 354.2 133.2 354.2 134.2 354.3 135.2 354.3 136.2 354.4 137.2 354.4 138.2 354.5 139.2 354.5 140.2 354.6 141.2 354.6 142.2 354.7 143.2 354.7 144.2 354.8 145.2 354.8 146.2 354.9 147.2 354.9 148.2 354.9 149.2 355.0 150.2 355.0 151.2 355.1 152.2 355.1 153.2 355.2 154.2 355.2 155.2 355.2 156.2 355.3 157.2 355.3 158.2 355.3 159.2 355.4 160.2 355.4 161.2 355.4 162.2 355.4 163.2 355.5 164.2 355.5 165.2 355.5 166.2 355.5 167.2 355.5 168.2 355.5 169.2 355.5 170.2 355.5 171.2 355.5 172.2 355.5 173.2 355.5 174.2 355.5 175.2 355.5 176.2 355.4 177.2 355.4 178.2 355.4 179.2 355.3 180.2 355.3 181.2 355.2 182.2 355.1 183.2 354.9 184.2 354.6 185.2 354.1 186.2 352.9 187.2 350.8 188.2 347.5 189.2 343.6 190.0 341.4 190.2 341.1 190.5 340.9 191.0 341.3 191.2 341.8 192.2 345.1 193.2 348.8 194.2 351.6 195.2 353.2 196.2 354.1 197.2 354.4 198.2 354.6 199.2 354.7 200.2 354.8 201.2 354.8 202.2 354.8 203.2 354.8 204.2 354.8 205.2 354.8 206.2 354.8 207.2 354.8 208.2 354.8 209.2 354.8 210.2 354.8 211.2 354.8 212.2 354.7 213.2 354.7 214.2 354.7 215.2 354.7 216.2 354.7 217.2 354.6 218.2 354.6 219.2 354.6 220.2 354.6 221.2 354.5 222.2 354.5 223.2 354.5 224.2 354.5 225.2 354.4 226.2 354.4 227.2 354.4 228.2 354.3 229.2 354.3 230.2 354.3 231.2 354.2 232.2 354.2 233.2 354.2 234.2 354.1 235.2 354.1 236.2 354.0 237.2 354.0 238.2 353.9 239.2 353.9 240.2 353.9 241.2 353.8 242.2 353.7 243.2 353.7 244.2 353.6 245.2 353.6 246.2 353.5 247.2 353.4 248.2 353.3 249.2 353.2 250.2 353.1 251.2 353.0 252.2 352.9 253.2 352.8 254.2 352.7 255.2 352.6 256.2 352.4 257.2 352.3 258.2 352.2 259.2 352.0 260.2 351.9 261.2 351.7 262.2 351.6 263.2 351.4 264.2 351.2 265.2 351.1 266.2 350.8 267.2 350.6 268.2 350.3 269.2 350.1 270.2 349.8 271.2 349.4 272.2 349.1 273.2 348.8 274.2 348.5 275.2 348.2 276.2 347.9 276.5 347.9 277.0 347.8 277.2 347.8 277.5 347.7 278.2 347.7 279.2 347.6 280.2 347.6 281.2 347.5 282.2 347.5 283.2 347.5 284.2 347.4 285.2 347.4 286.2 347.2 287.2 347.0 288.2 346.8 289.2 346.5 290.2 346.1 291.2 345.6 292.2 345.1 293.2 344.5 294.2 343.7 295.2 342.9 296.2 341.9 297.2 340.8 298.2 339.4 299.2 337.8 300.2 335.7 301.2 333.1 302.2 329.7 303.2 324.9 304.2 318.2 305.2 308.5 306.2 294.9 307.2 276.7 308.2 253.8 309.2 228.2 310.2 205.9 310.7 199.0 311.2 196.4 311.7 198.6 312.2 205.2 313.2 226.7 314.2 251.6 315.2 273.9 316.2 291.4 317.2 304.3 318.2 313.3 319.2 319.4 320.2 323.5 321.2 326.3 322.2 328.3 323.2 329.7 324.2 330.7 325.2 331.5 326.2 332.1 327.2 332.6 328.2 332.9 329.2 333.2 330.2 333.3 331.2 333.5 332.2 333.5 333.2 333.5 334.2 333.5 335.2 333.4 336.2 333.3 337.2 333.0 338.2 332.7 339.2 332.2 340.2 331.6 341.2 330.9 342.2 329.9 343.2 328.9 344.2 327.6 345.2 326.3 346.2 324.8 347.2 323.3 348.2 321.9 349.2 320.7 350.2 319.7 351.2 319.1 351.7 319.0 352.2 319.0 353.2 319.4 354.2 320.1 355.2 321.2 356.2 322.4 357.2 323.7 358.2 324.9 359.2 326.0 360.2 327.0 361.2 327.7 362.2 328.2 363.2 328.4 364.2 328.3 365.2 327.7 366.2 326.6 367.2 324.9 368.2 322.6 369.2 319.5 370.2 316.0 371.2 312.3 372.2 308.9 373.2 306.5 373.9 305.7 374.2 305.7 374.4 305.8 374.9 306.4 375.2 307.0 376.2 310.2 377.2 314.6 378.2 319.6 379.2 324.5 380.2 329.0 381.2 332.9 382.2 336.1 383.2 338.6 384.2 340.5 385.2 341.9 386.2 343.0 387.2 343.8 388.2 344.5 389.2 344.9 390.2 345.2 391.2 345.4 392.2 345.5 393.2 345.6 394.2 345.6 395.2 345.6 396.2 345.6 397.2 345.5 398.2 345.2 399.2 344.7 400.2 343.9 401.2 342.7 402.2 341.4 403.2 340.4 403.4 340.2 403.9 340.1 404.2 340.1 404.4 340.2 405.2 340.9 406.2 342.1 407.2 343.4 408.2 344.3 409.2 344.9 410.2 345.3 411.2 345.5 412.2 345.5 413.2 345.6 414.2 345.6 415.2 345.5 416.2 345.5 417.2 345.5 418.2 345.5 419.2 345.4 420.2 345.4 421.2 345.4 422.2 345.3 423.2 345.3 424.2 345.2 425.2 345.1 426.2 345.1 427.2 345.0 428.2 344.9 429.2 344.8 430.2 344.8 431.2 344.7 432.2 344.6 433.2 344.5 434.2 344.4 435.2 344.3 436.2 344.2 437.2 344.1 438.2 343.9 439.2 343.8 440.2 343.7 441.2 343.5 442.2 343.4 443.2 343.2 444.2 343.0 445.2 342.8 446.2 342.5 447.2 342.1 448.2 341.7 449.2 341.1 450.2 340.5 451.2 339.7 452.2 338.8 453.2 337.8 454.2 336.8 455.2 335.7 456.2 334.8 457.2 334.0 458.1 333.6 458.2 333.6 458.6 333.5 459.1 333.5 459.2 333.5 460.2 333.8 461.2 334.4 462.2 335.2 463.2 336.0 464.2 336.8 465.2 337.6 466.2 338.3 467.2 338.8 468.2 339.2 469.2 339.6 470.2 339.8 471.2 339.9 472.2 340.0 473.2 340.0 474.2 340.0 475.2 340.0 476.2 340.0 477.2 339.9 478.2 339.9 479.2 339.8 480.2 339.8 481.2 339.7 482.2 339.6 483.2 339.5 484.2 339.5 485.2 339.4 486.2 339.3 487.2 339.2 488.2 339.0 489.2 338.9 490.2 338.7 491.2 338.5 492.2 338.2 493.2 337.7 494.2 337.2 495.2 336.4 496.2 335.3 497.2 334.0 498.2 332.4 499.2 330.6 500.2 328.5 501.2 326.3 502.2 324.3 503.2 322.7 504.2 321.7 504.7 321.6 505.2 321.7 506.2 322.5 507.2 324.0 508.2 325.9 509.2 327.9 510.2 329.8 511.2 331.5 512.2 333.0 513.2 334.1 514.2 335.0 515.2 335.6 516.2 336.0 517.2 336.2 518.2 336.3 519.2 336.3 520.2 336.2 521.2 336.0 522.2 335.7 523.2 335.3 524.2 334.8 525.2 334.2 526.2 333.5 527.2 332.7 528.2 331.8 529.2 330.7 530.2 329.6 531.2 328.4 532.2 327.2 533.2 326.0 534.2 324.9 535.2 323.9 536.2 323.1 537.2 322.6 537.7 322.4 538.2 322.3 539.2 322.4 540.2 322.8 541.2 323.3 542.2 324.0 543.2 324.8 544.2 325.6 545.2 326.4 546.2 327.1 547.2 327.8 548.2 328.3 549.2 328.8 550.2 329.1 551.2 329.4 552.2 329.5 553.2 329.5 554.2 329.4 555.2 329.2 556.2 328.8 557.2 328.3 558.2 327.5 559.2 326.4 560.2 325.1 561.2 323.4 562.2 321.3 563.2 318.8 564.2 316.0 565.2 312.8 566.2 309.3 567.2 305.7 568.2 302.2 569.2 298.9 570.2 296.1 571.2 294.2 572.1 293.4 572.2 293.4 572.6 293.4 573.1 293.7 573.2 293.8 574.2 295.4 575.2 298.1 576.2 301.6 577.2 305.5 578.2 309.6 579.2 313.7 580.2 317.5 581.2 321.1 582.2 324.3 583.2 327.1 584.2 329.5 585.2 331.4 586.2 333.0 587.2 334.2 588.2 335.1 589.2 335.7 590.2 336.0 591.2 336.2 592.2 336.3 593.2 336.2 594.2 336.1 595.2 335.9 596.2 335.7 597.2 335.5 598.2 335.3 599.2 335.1 600.2 334.9 601.2 334.8 602.2 334.7 603.2 334.6 604.2 334.5 605.2 334.4 606.2 334.3 607.2 334.2 608.2 334.1 609.2 334.0 610.2 333.9 611.2 333.7 612.2 333.6 613.2 333.5 614.2 333.4 615.2 333.3 616.2 333.2 617.2 333.1 618.2 333.0 619.2 332.9 620.2 332.8 621.2 332.7 622.2 332.6 623.2 332.5 624.2 332.4 625.2 332.3 626.2 332.2 627.2 332.1 628.2 332.0 629.2 331.9 630.2 331.8 631.2 331.7 632.2 331.6 633.2 331.5 633.6 331.4 634.1 331.4 634.2 331.4 634.6 331.4 635.2 331.3 636.2 331.2 637.2 331.1 638.2 331.1 639.2 331.0 640.2 330.9 641.2 330.8 642.2 330.7 643.2 330.6 644.2 330.6 645.2 330.5 646.2 330.4 647.2 330.3 648.2 330.2 649.2 330.1 650.2 330.0 651.2 329.9 652.2 329.8 653.2 329.7 654.2 329.5 655.2 329.4 656.2 329.3 657.2 329.1 658.2 329.0 659.2 328.8 660.2 328.6 661.2 328.4 662.2 328.1 663.2 327.7 664.2 327.3 665.2 326.7 666.2 326.0 667.2 325.1 668.2 324.1 669.2 323.1 670.2 322.2 671.2 321.4 671.9 321.0 672.2 320.9 672.4 320.8 672.9 320.7 673.2 320.7 674.2 320.9 675.2 321.3 676.2 321.6 677.2 321.8 678.2 321.8 679.2 321.3 680.2 320.5 681.2 319.1 682.2 317.3 683.2 315.1 684.2 312.6 685.2 309.8 686.2 307.1 687.2 304.6 688.2 302.8 689.0 302.0 689.2 301.9 689.5 301.8 690.0 301.9 690.2 302.0 691.2 303.3 692.2 305.3 693.2 307.8 694.2 310.5 695.2 313.2 696.2 315.7 697.2 317.8 698.2 319.6 699.2 321.1 700.2 322.2 701.2 323.0 702.2 323.7 703.2 324.1 704.2 324.4 705.2 324.6 706.2 324.8 707.2 324.9 708.2 325.0 709.2 325.0 710.2 325.1 711.2 325.1 712.2 325.1 713.2 325.1 714.2 325.0 715.2 324.9 716.2 324.8 717.2 324.6 718.2 324.3 719.2 323.9 720.2 323.5 721.2 322.9 722.2 322.4 723.2 321.9 724.2 321.6 724.7 321.6 725.2 321.6 725.7 321.7 726.2 321.9 727.2 322.4 728.2 323.1 729.2 323.9 730.2 324.6 731.2 325.3 732.2 325.9 733.2 326.4 734.2 326.8 735.2 327.2 736.2 327.4 737.2 327.7 738.2 327.9 739.2 328.1 740.2 328.3 741.2 328.5 742.2 328.7 743.2 328.9 744.2 329.0 745.2 329.2 746.2 329.4 747.2 329.5 748.2 329.7 749.2 329.9 750.2 330.0 751.2 330.2 752.2 330.3 753.2 330.4 754.2 330.6 755.2 330.7 756.2 330.8 757.2 330.9 758.2 331.0 759.2 331.1 760.2 331.2 761.2 331.3 762.2 331.3 763.2 331.4 764.2 331.4 765.2 331.4 766.2 331.4 767.2 331.3 768.2 331.3 769.2 331.2 770.2 331.1 771.2 331.0 772.2 330.8 773.2 330.6 774.2 330.4 775.2 330.2 776.2 330.0 777.2 329.8 778.2 329.6 779.2 329.5 780.1 329.5 780.2 329.5 780.6 329.5 781.1 329.5 781.2 329.5 782.2 329.7 783.2 329.9 784.2 330.2 785.2 330.4 786.2 330.8 787.2 331.1 788.2 331.4 789.2 331.6 790.2 331.9 791.2 332.1 792.2 332.3 793.2 332.5 794.2 332.6 795.2 332.7 796.2 332.8 797.2 332.9 798.2 333.0 799.2 333.0 800.2 333.1 801.2 333.1 802.2 333.2 803.2 333.2 804.2 333.2 805.2 333.3 806.2 333.3 807.2 333.3 808.2 333.3 809.2 333.4 810.2 333.4 811.2 333.4 812.2 333.4 813.2 333.4 814.2 333.5 815.2 333.5 816.2 333.5 817.2 333.5 818.2 333.5 819.2 333.5 820.2 333.5 821.2 333.5 822.2 333.4 823.2 333.3 824.2 333.2 825.2 333.0 826.2 332.8 827.2 332.6 828.2 332.3 829.2 332.1 830.2 331.8 831.2 331.6 832.2 331.3 833.2 331.0 834.2 330.8 835.2 330.5 836.2 330.3 837.2 330.1 838.2 329.9 839.2 329.7 840.2 329.6 841.2 329.4 842.2 329.3 843.2 329.2 844.2 329.1 845.2 328.9 846.2 328.8 847.2 328.7 848.2 328.5 849.2 328.4 850.2 328.3 851.2 328.2 852.2 328.1 853.2 328.0 854.2 327.9 855.2 327.9 856.2 327.8 857.2 327.8 858.2 327.7 859.2 327.7 860.2 327.7 861.2 327.7 862.2 327.7 863.2 327.7 864.2 327.7 865.2 327.7 866.2 327.8 867.2 327.8 868.2 327.8 869.2 327.8 870.2 327.9 871.2 327.9 872.2 327.9 873.2 327.9 874.2 328.0 875.2 328.0 876.2 328.1 877.2 328.1 878.2 328.1 879.2 328.2 880.2 328.2 881.2 328.3 882.2 328.3 883.2 328.4 884.2 328.4 885.2 328.4 886.2 328.5 887.2 328.5 888.2 328.6 889.2 328.6 890.2 328.6 891.2 328.7 892.2 328.7 893.2 328.8 894.2 328.8 895.2 328.8 896.2 328.9 897.2 328.9 898.2 328.9 899.2 328.9 900.2 328.9 901.2 329.0 902.2 329.0 903.2 329.0 904.2 329.0 905.2 329.0 906.2 328.9 907.2 328.9 908.2 328.9 909.2 328.8 910.2 328.8 911.2 328.7 912.2 328.7 913.2 328.6 914.2 328.5 915.2 328.4 916.2 328.2 917.2 328.1 918.2 327.9 919.2 327.8 920.2 327.6 921.2 327.3 922.2 327.1 923.2 326.8 924.2 326.6 925.2 326.3 926.2 326.0 927.2 325.6 928.2 325.3 929.2 324.9 930.2 324.5 931.2 324.1 932.2 323.7 933.2 323.3 934.2 322.9 935.2 322.6 936.2 322.2 937.2 321.8 938.2 321.5 939.2 321.2 940.2 320.9 941.2 320.7 942.2 320.5 943.0 320.4 943.2 320.3 943.5 320.3 944.0 320.3 944.2 320.2 945.2 320.2 946.2 320.2 947.2 320.3 948.2 320.4 949.2 320.5 950.2 320.7 951.2 320.8 952.2 321.0 953.2 321.2 954.2 321.4 955.2 321.6 956.2 321.8 957.2 322.0 958.2 322.2 959.2 322.3 960.2 322.4 961.2 322.5 962.2 322.6 963.2 322.6 964.2 322.6 965.2 322.5 966.2 322.5 967.2 322.4 968.2 322.3 969.2 322.2 970.2 322.2 970.7 322.2 971.2 322.2 971.7 322.2 972.2 322.2 973.2 322.3 974.2 322.4 975.2 322.5 976.2 322.7 977.2 322.8 978.2 322.9 979.2 323.0 980.2 323.1 981.2 323.1 982.2 323.2 983.2 323.2 984.2 323.2 985.2 323.2 986.2 323.2 987.2 323.2 988.2 323.2 989.2 323.2 990.2 323.1 991.2 323.1 992.2 323.1 993.2 323.1 994.2 323.1 995.2 323.0 996.2 323.0 997.2 323.0 998.2 323.0 999.2 323.0 1000.2 323.0 1001.2 323.0 1002.2 323.0 1003.2 323.0 1004.2 323.0 1005.2 323.0 1006.2 323.0 1007.2 323.0 1008.2 323.0 1009.2 323.0 1010.2 323.0 1011.2 323.0 1012.2 323.0 1013.2 323.0 1014.2 323.0 1015.2 323.0 1016.2 323.0 1017.2 323.0 1018.2 323.0 1019.2 323.0 1020.2 323.0 1021.2 323.0 1022.2 323.0 1023.2 323.0 1024.2 323.0 1025.2 323.0 1026.2 322.9 1027.2 322.9 1028.2 322.9 1029.2 322.9 1030.2 322.9 1031.2 322.9 1032.2 322.9 1033.2 322.9 1034.2 322.9 1035.2 322.9 1036.2 322.9 1037.2 322.9 1038.2 322.9 1039.2 322.9 1040.2 322.9 1041.2 322.9 1042.2 322.9 1043.2 322.9 1044.2 322.9 1045.2 322.9 1046.2 322.9 1047.2 322.9 1048.2 322.9 1049.2 322.9 1050.2 322.9 1051.2 322.9 1052.2 322.9 1053.2 322.9 1054.2 322.9 1055.2 322.9 1056.2 322.9 1057.2 322.9 1058.2 322.9" stroke="#0000ff"/>
<path d="M72.2 301.8L73.2 301.8 74.2 301.8 75.2 301.8 76.2 301.9 77.2 301.9 78.2 301.9 79.2 302.0 80.2 302.0 81.2 302.0 82.2 302.1 83.2 302.1 84.2 302.2 85.2 302.3 86.2 302.3 87.2 302.4 88.2 302.5 89.2 302.5 90.2 302.6 91.2 302.7 92.2 302.8 93.2 302.9 94.2 303.0 95.2 303.0 96.2 303.1 97.2 303.2 98.2 303.3 99.2 303.4 100.2 303.5 101.2 303.6 102.2 303.7 103.2 303.8 104.2 303.9 105.2 304.0 106.2 304.0 107.2 304.1 108.2 304.2 109.2 304.3 110.2 304.4 111.2 304.5 112.2 304.6 113.2 304.6 114.2 304.7 115.2 304.8 116.2 304.9 117.2 304.9 118.2 305.0 119.2 305.1 120.2 305.1 121.2 305.2 122.2 305.2 123.2 305.3 124.2 305.3 125.2 305.4 126.2 305.4 127.2 305.5 128.2 305.5 129.2 305.6 130.2 305.6 131.2 305.7 132.2 305.7 133.2 305.8 134.2 305.8 135.2 305.9 136.2 305.9 137.2 306.0 138.2 306.0 139.2 306.1 140.2 306.1 141.2 306.2 142.2 306.2 143.2 306.3 144.2 306.3 145.2 306.4 146.2 306.4 147.2 306.4 148.2 306.5 149.2 306.5 150.2 306.6 151.2 306.6 152.2 306.6 153.2 306.7 154.2 306.7 155.2 306.8 156.2 306.8 157.2 306.8 158.2 306.8 159.2 306.9 160.2 306.9 161.2 306.9 162.2 306.9 163.2 307.0 164.2 307.0 165.2 307.0 166.2 307.0 167.2 307.0 168.2 307.0 169.2 307.0 170.2 307.0 171.2 307.0 172.2 307.0 173.2 307.0 174.2 307.0 175.2 307.0 176.2 306.9 177.2 306.9 178.2 306.9 179.2 306.8 180.2 306.8 181.2 306.7 182.2 306.6 183.2 306.4 184.2 306.1 185.2 305.6 186.2 304.4 187.2 302.3 188.2 299.0 189.2 295.2 190.0 292.9 190.2 292.6 190.5 292.4 191.0 292.9 191.2 293.3 192.2 296.6 193.2 300.3 194.2 303.1 195.2 304.8 196.2 305.6 197.2 306.0 198.2 306.2 199.2 306.3 200.2 306.3 201.2 306.3 202.2 306.4 203.2 306.4 204.2 306.4 205.2 306.4 206.2 306.3 207.2 306.3 208.2 306.3 209.2 306.3 210.2 306.3 211.2 306.2 212.2 306.2 213.2 306.1 214.2 306.1 215.2 306.0 216.2 306.0 217.2 305.9 218.2 305.9 219.2 305.8 220.2 305.7 221.2 305.7 222.2 305.6 223.2 305.5 224.2 305.4 225.2 305.3 226.2 305.2 227.2 305.2 228.2 305.1 229.2 305.0 230.2 304.9 231.2 304.8 232.2 304.7 233.2 304.6 234.2 304.5 235.2 304.4 236.2 304.3 237.2 304.2 238.2 304.1 239.2 303.9 240.2 303.8 241.2 303.7 242.2 303.6 243.2 303.5 244.2 303.4 245.2 303.2 246.2 303.1 247.2 302.9 248.2 302.8 249.2 302.6 250.2 302.4 251.2 302.2 252.2 302.0 253.2 301.9 254.2 301.7 255.2 301.5 256.2 301.3 257.2 301.1 258.2 300.9 259.2 300.7 260.2 300.6 261.2 300.4 262.2 300.3 263.2 300.1 264.2 300.0 265.2 299.8 266.2 299.6 267.2 299.5 268.2 299.2 269.2 299.0 270.2 298.6 271.2 298.2 272.2 297.7 273.2 297.1 274.2 296.5 275.2 295.9 276.2 295.5 276.5 295.4 277.0 295.3 277.2 295.3 277.5 295.3 278.2 295.3 279.2 295.6 280.2 295.9 281.2 296.3 282.2 296.5 283.2 296.7 284.2 296.8 285.2 296.8 286.2 296.6 287.2 296.4 288.2 296.1 289.2 295.8 290.2 295.3 291.2 294.8 292.2 294.2 293.2 293.5 294.2 292.7 295.2 291.8 296.2 290.8 297.2 289.7 298.2 288.3 299.2 286.8 300.2 285.0 301.2 282.7 302.2 279.9 303.2 276.2 304.2 271.2 305.2 264.3 306.2 254.8 307.2 242.0 308.2 225.2 309.2 204.8 310.2 182.5 311.2 163.0 311.8 155.8 312.2 153.7 312.3 153.6 312.8 155.3 313.2 159.2 314.2 176.2 315.2 197.3 316.2 217.3 317.2 233.8 318.2 246.4 319.2 255.5 320.2 261.9 321.2 266.2 322.2 269.2 323.2 271.2 324.2 272.7 325.2 273.8 326.2 274.5 327.2 275.1 328.2 275.6 329.2 275.9 330.2 276.2 331.2 276.4 332.2 276.5 333.2 276.6 334.2 276.7 335.2 276.7 336.2 276.6 337.2 276.4 338.2 276.1 339.2 275.6 340.2 274.9 341.2 274.0 342.2 272.9 343.2 271.4 344.2 269.8 345.2 267.9 346.2 265.8 347.2 263.6 348.2 261.5 349.2 259.5 350.2 257.9 351.2 256.8 351.7 256.5 352.2 256.4 352.7 256.5 353.2 256.8 354.2 257.8 355.2 259.4 356.2 261.4 357.2 263.5 358.2 265.6 359.2 267.6 360.2 269.4 361.2 270.9 362.2 272.0 363.2 272.7 364.2 273.0 365.2 272.7 366.2 271.8 367.2 270.5 368.2 268.6 369.2 266.2 370.2 263.5 371.2 260.8 372.2 258.3 373.2 256.6 373.9 256.2 374.2 256.3 374.4 256.4 374.9 257.0 375.2 257.5 376.2 260.2 377.2 263.9 378.2 268.1 379.2 272.3 380.2 276.3 381.2 279.8 382.2 282.8 383.2 285.3 384.2 287.3 385.2 289.0 386.2 290.3 387.2 291.3 388.2 292.1 389.2 292.8 390.2 293.4 391.2 293.8 392.2 294.1 393.2 294.3 394.2 294.4 395.2 294.4 396.2 294.4 397.2 294.3 398.2 294.0 399.2 293.5 400.2 292.7 401.2 291.6 402.2 290.4 403.2 289.4 403.4 289.2 403.9 289.1 404.2 289.1 404.4 289.2 405.2 289.8 406.2 290.9 407.2 292.0 408.2 292.9 409.2 293.4 410.2 293.7 411.2 293.9 412.2 293.9 413.2 293.9 414.2 293.9 415.2 293.9 416.2 293.9 417.2 293.9 418.2 293.9 419.2 293.9 420.2 293.9 421.2 293.9 422.2 294.0 423.2 294.0 424.2 294.1 425.2 294.1 426.2 294.2 427.2 294.3 428.2 294.4 429.2 294.5 430.2 294.6 431.2 294.7 432.2 294.8 433.2 294.9 434.2 295.0 435.2 295.2 436.2 295.3 437.2 295.4 438.2 295.5 439.2 295.5 440.2 295.6 441.2 295.7 442.2 295.7 443.2 295.7 444.2 295.7 445.2 295.6 446.2 295.5 447.2 295.3 448.2 294.9 449.2 294.4 450.2 293.8 451.2 292.9 452.2 291.7 453.2 290.3 454.2 288.7 455.2 286.9 456.2 285.0 457.2 283.2 458.2 281.7 459.2 280.6 459.4 280.5 459.9 280.2 460.2 280.1 460.4 280.1 461.2 280.2 462.2 280.9 463.2 281.8 464.2 283.0 465.2 284.1 466.2 285.2 467.2 286.1 468.2 286.9 469.2 287.4 470.2 287.8 471.2 288.0 472.2 288.2 473.2 288.2 474.2 288.2 475.2 288.1 476.2 288.1 477.2 288.0 478.2 287.9 479.2 287.8 480.2 287.7 481.2 287.6 482.2 287.5 483.2 287.3 484.2 287.2 485.2 287.1 486.2 286.9 487.2 286.8 488.2 286.6 489.2 286.4 490.2 286.2 491.2 286.0 492.2 285.6 493.2 285.2 494.2 284.5 495.2 283.7 496.2 282.7 497.2 281.4 498.2 279.8 499.2 277.9 500.2 275.8 501.2 273.6 502.2 271.6 503.2 269.9 504.2 269.0 504.7 268.8 505.2 268.9 506.2 269.6 507.2 271.1 508.2 272.9 509.2 274.9 510.2 276.8 511.2 278.5 512.2 279.9 513.2 281.0 514.2 281.8 515.2 282.4 516.2 282.7 517.2 282.9 518.2 282.9 519.2 282.8 520.2 282.6 521.2 282.4 522.2 282.0 523.2 281.5 524.2 280.9 525.2 280.3 526.2 279.4 527.2 278.5 528.2 277.5 529.2 276.3 530.2 275.0 531.2 273.7 532.2 272.3 533.2 271.0 534.2 269.7 535.2 268.6 536.2 267.7 537.2 267.2 537.7 267.0 538.2 266.9 539.2 267.1 540.2 267.5 541.2 268.1 542.2 269.0 543.2 269.9 544.2 270.8 545.2 271.7 546.2 272.6 547.2 273.4 548.2 274.0 549.2 274.6 550.2 275.0 551.2 275.2 552.2 275.4 553.2 275.4 554.2 275.3 555.2 275.0 556.2 274.6 557.2 273.9 558.2 273.0 559.2 271.9 560.2 270.4 561.2 268.6 562.2 266.4 563.2 263.9 564.2 261.1 565.2 258.0 566.2 254.7 567.2 251.4 568.2 248.2 569.2 245.2 570.2 242.8 571.2 241.2 572.1 240.6 572.2 240.5 572.6 240.6 573.1 240.9 573.2 241.0 574.2 242.6 575.2 245.1 576.2 248.3 577.2 252.0 578.2 256.0 579.2 260.0 580.2 263.8 581.2 267.4 582.2 270.7 583.2 273.7 584.2 276.2 585.2 278.3 586.2 280.1 587.2 281.5 588.2 282.5 589.2 283.3 590.2 283.7 591.2 283.9 592.2 284.0 593.2 283.9 594.2 283.8 595.2 283.5 596.2 283.2 597.2 283.0 598.2 282.7 599.2 282.4 600.2 282.2 601.2 282.0 602.2 281.8 603.2 281.7 604.2 281.5 605.2 281.3 606.2 281.1 607.2 280.8 608.2 280.5 609.2 280.2 610.2 279.8 611.2 279.5 611.7 279.4 612.2 279.3 613.2 279.3 614.2 279.3 615.2 279.4 616.2 279.3 617.2 279.2 618.2 279.1 619.2 279.0 620.2 278.8 621.2 278.7 622.2 278.5 623.2 278.3 624.2 278.2 625.2 278.0 626.2 277.8 627.2 277.5 628.2 277.3 629.2 277.0 630.2 276.7 631.2 276.4 632.2 276.2 633.2 276.0 633.6 275.9 634.1 275.8 634.2 275.8 634.6 275.7 635.2 275.7 636.2 275.6 637.2 275.6 638.2 275.6 639.2 275.6 640.2 275.6 641.2 275.6 642.2 275.5 643.2 275.5 644.2 275.4 645.2 275.3 646.2 275.2 647.2 275.0 648.2 274.9 649.2 274.8 650.2 274.7 651.2 274.5 652.2 274.4 653.2 274.3 654.2 274.1 655.2 274.0 656.2 273.8 657.2 273.7 658.2 273.5 659.2 273.3 660.2 273.0 661.2 272.8 662.2 272.4 663.2 272.0 664.2 271.4 665.2 270.7 666.2 269.8 667.2 268.8 668.2 267.6 669.2 266.3 670.2 265.2 671.2 264.2 671.9 263.7 672.2 263.6 672.4 263.5 672.9 263.4 673.2 263.4 674.2 263.6 675.2 264.1 676.2 264.5 677.2 264.8 678.2 264.8 679.2 264.5 680.2 263.7 681.2 262.4 682.2 260.8 683.2 258.8 684.2 256.6 685.2 254.3 686.2 252.0 687.2 250.0 688.2 248.5 689.0 247.8 689.2 247.8 689.5 247.7 690.0 247.8 690.2 247.9 691.2 248.8 692.2 250.4 693.2 252.5 694.2 254.8 695.2 257.0 696.2 259.2 697.2 261.2 698.2 262.9 699.2 264.3 700.2 265.4 701.2 266.4 702.2 267.0 703.2 267.6 704.2 267.9 705.2 268.2 706.2 268.4 707.2 268.5 708.2 268.6 709.2 268.7 710.2 268.8 711.2 268.8 712.2 268.8 713.2 268.8 714.2 268.8 715.2 268.7 716.2 268.6 717.2 268.4 718.2 268.1 719.2 267.7 720.2 267.2 721.2 266.7 722.2 266.2 723.2 265.7 724.2 265.4 724.7 265.4 725.2 265.4 725.7 265.5 726.2 265.7 727.2 266.3 728.2 267.0 729.2 267.9 730.2 268.7 731.2 269.4 732.2 270.1 733.2 270.6 734.2 271.1 735.2 271.5 736.2 271.8 737.2 272.1 738.2 272.4 739.2 272.6 740.2 272.9 741.2 273.1 742.2 273.3 743.2 273.5 744.2 273.7 745.2 273.9 746.2 274.1 747.2 274.3 748.2 274.5 749.2 274.7 750.2 274.9 751.2 275.1 752.2 275.3 753.2 275.4 754.2 275.6 755.2 275.7 756.2 275.9 757.2 276.0 758.2 276.2 759.2 276.3 760.2 276.4 761.2 276.5 762.2 276.6 763.2 276.6 764.2 276.7 765.2 276.7 766.2 276.7 767.2 276.7 768.2 276.7 769.2 276.7 770.2 276.6 771.2 276.5 772.2 276.4 773.2 276.2 774.2 276.1 775.2 275.9 776.2 275.6 777.2 275.4 778.2 275.2 779.2 275.0 780.2 274.9 781.2 274.9 781.4 274.9 781.9 274.9 782.2 274.9 782.4 274.9 783.2 275.1 784.2 275.3 785.2 275.5 786.2 275.9 787.2 276.2 788.2 276.5 789.2 276.9 790.2 277.2 791.2 277.5 792.2 277.7 793.2 277.9 794.2 278.1 795.2 278.3 796.2 278.4 797.2 278.6 798.2 278.7 799.2 278.8 800.2 278.8 801.2 278.9 802.2 279.0 803.2 279.0 804.2 279.1 805.2 279.1 806.2 279.1 807.2 279.2 808.2 279.2 809.2 279.2 810.2 279.3 811.2 279.3 812.2 279.3 813.2 279.3 814.2 279.3 815.2 279.4 816.2 279.4 817.2 279.4 818.2 279.4 819.2 279.4 820.2 279.4 821.2 279.4 822.2 279.3 823.2 279.1 824.2 279.0 825.2 278.7 826.2 278.5 827.2 278.2 828.2 277.9 829.2 277.6 830.2 277.3 831.2 276.9 832.2 276.6 833.2 276.3 834.2 276.0 835.2 275.8 836.2 275.6 837.2 275.4 838.2 275.2 839.2 275.1 840.2 275.1 841.2 275.1 842.2 275.1 843.2 275.0 844.2 275.0 845.2 275.0 846.2 275.0 847.2 275.0 848.2 274.9 849.2 274.9 850.2 274.9 851.2 274.9 852.2 274.9 853.2 274.8 854.2 274.8 855.2 274.8 856.2 274.7 857.2 274.7 858.2 274.6 859.2 274.6 860.2 274.5 861.2 274.4 862.2 274.3 863.2 274.1 864.2 273.9 865.2 273.7 866.2 273.4 867.2 273.1 868.2 272.7 869.2 272.3 870.2 271.9 871.2 271.5 872.2 271.2 873.2 270.8 874.2 270.6 875.2 270.4 875.3 270.4 875.8 270.4 876.2 270.4 876.3 270.4 877.2 270.5 878.2 270.7 879.2 271.0 880.2 271.4 881.2 271.8 882.2 272.2 883.2 272.5 884.2 272.9 885.2 273.2 886.2 273.5 887.2 273.7 888.2 273.9 889.2 274.0 890.2 274.1 891.2 274.2 892.2 274.3 893.2 274.3 894.2 274.4 895.2 274.4 896.2 274.4 897.2 274.4 898.2 274.4 899.2 274.4 900.2 274.4 901.2 274.4 902.2 274.3 903.2 274.3 904.2 274.3 905.2 274.3 906.2 274.2 907.2 274.2 908.2 274.1 909.2 274.1 910.2 274.0 911.2 274.0 912.2 273.9 913.2 273.8 914.2 273.7 915.2 273.6 916.2 273.4 917.2 273.3 918.2 273.1 919.2 273.0 920.2 272.8 921.2 272.5 922.2 272.3 923.2 272.0 924.2 271.8 925.2 271.5 926.2 271.2 927.2 270.8 928.2 270.5 929.2 270.1 930.2 269.7 931.2 269.3 932.2 268.9 933.2 268.5 934.2 268.0 935.2 267.6 936.2 267.2 937.2 266.8 938.2 266.5 939.2 266.1 940.2 265.8 941.2 265.6 942.2 265.3 943.2 265.2 943.9 265.1 944.2 265.1 944.4 265.1 944.9 265.1 945.2 265.1 946.2 265.1 947.2 265.2 948.2 265.3 949.2 265.5 950.2 265.8 951.2 266.0 952.2 266.3 953.2 266.6 954.2 266.8 955.2 267.1 956.2 267.4 957.2 267.6 958.2 267.8 959.2 267.9 960.2 268.0 961.2 268.0 962.2 268.0 963.2 267.8 964.2 267.7 965.2 267.4 966.2 267.1 967.2 266.9 968.2 266.6 969.2 266.4 970.2 266.4 970.4 266.4 970.9 266.4 971.2 266.4 971.4 266.5 972.2 266.6 973.2 267.0 974.2 267.4 975.2 267.9 976.2 268.4 977.2 268.9 978.2 269.3 979.2 269.7 980.2 270.1 981.2 270.3 982.2 270.6 983.2 270.8 984.2 270.9 985.2 271.0 986.2 271.1 987.2 271.1 988.2 271.1 989.2 271.1 990.2 271.1 991.2 271.1 992.2 271.1 993.2 271.1 994.2 271.1 995.2 271.0 996.2 271.0 997.2 271.0 998.2 270.9 999.2 270.9 1000.2 270.8 1001.2 270.8 1002.2 270.7 1003.2 270.6 1004.2 270.6 1005.2 270.5 1006.2 270.4 1007.2 270.3 1008.2 270.2 1009.2 270.2 1010.2 270.1 1011.2 270.0 1012.2 269.9 1013.2 269.8 1014.2 269.7 1015.2 269.6 1016.2 269.5 1017.2 269.4 1018.2 269.3 1019.2 269.2 1020.2 269.1 1021.2 269.0 1022.2 268.9 1023.2 268.8 1024.2 268.7 1025.2 268.6 1026.2 268.5 1027.2 268.4 1028.2 268.3 1029.2 268.2 1030.2 268.1 1031.2 268.0 1032.2 267.9 1033.2 267.8 1034.2 267.7 1035.2 267.6 1036.2 267.5 1037.2 267.4 1038.2 267.3 1039.2 267.3 1040.2 267.2 1041.2 267.1 1042.2 267.0 1043.2 267.0 1044.2 266.9 1045.2 266.8 1046.2 266.8 1047.2 266.7 1048.2 266.7 1049.2 266.6 1050.2 266.6 1051.2 266.5 1052.2 266.5 1053.2 266.5 1054.2 266.4 1055.2 266.4 1056.2 266.4 1057.2 266.4 1058.2 266.4" stroke="#808000"/>
<path d="M72.2 264.5L73.2 264.7 74.2 264.8 75.2 264.3 76.2 264.0 77.2 264.3 78.2 264.4 79.2 265.0 80.2 265.1 81.2 265.2 82.2 265.2 83.2 265.4 84.2 265.0 85.2 265.2 86.2 265.1 87.2 265.9 88.2 265.4 89.2 266.1 90.2 265.6 91.2 266.2 92.2 266.1 93.2 266.2 94.2 266.8 95.2 266.3 96.2 266.2 97.2 267.1 98.2 267.1 99.2 266.8 100.2 267.6 101.2 268.0 102.2 267.4 103.2 267.5 104.2 267.3 105.2 267.5 106.2 267.9 107.2 267.7 108.2 268.2 109.2 267.9 110.2 267.9 111.2 268.7 112.2 268.6 113.2 268.7 114.2 269.0 115.2 269.1 116.2 269.1 117.2 268.8 118.2 269.5 119.2 270.1 120.2 270.4 121.2 270.3 122.2 270.0 123.2 269.9 124.2 270.3 125.2 270.5 126.2 270.0 127.2 270.0 128.2 270.2 129.2 270.4 130.2 270.9 131.2 270.8 132.2 270.2 133.2 270.8 134.2 270.7 135.2 270.7 136.2 270.4 137.2 270.5 138.2 270.4 139.2 270.8 140.2 270.2 141.2 270.4 142.2 270.0 143.2 270.4 144.2 269.8 145.2 269.8 146.2 269.8 147.2 270.0 148.2 269.5 149.2 269.7 150.2 269.5 151.2 269.4 152.2 269.6 153.2 270.1 154.2 269.8 155.2 270.2 156.2 269.6 157.2 270.1 158.2 269.8 159.2 269.6 160.2 270.1 161.2 270.5 162.2 269.9 163.2 269.9 164.2 270.5 165.2 270.4 166.2 270.4 167.2 270.2 168.2 270.2 169.2 270.8 170.2 271.5 171.2 271.9 172.2 271.5 173.2 271.0 174.2 271.0 175.2 271.6 176.2 271.8 177.2 271.6 178.2 271.1 179.2 271.0 180.2 270.8 181.2 270.7 182.2 270.1 183.2 270.3 184.2 270.2 185.2 269.1 186.2 267.9 187.2 266.9 188.2 264.7 189.2 263.6 190.2 262.4 191.2 262.3 192.2 263.1 193.2 263.9 194.2 265.4 195.2 267.0 196.2 269.0 197.2 270.4 198.2 270.6 199.2 271.2 200.2 270.9 201.2 270.6 202.2 270.6 203.2 271.2 204.2 270.9 205.2 270.8 206.2 271.1 207.2 271.1 208.2 270.9 209.2 270.4 210.2 270.4 211.2 270.6 212.2 270.5 213.2 270.2 214.2 269.8 215.2 269.7 216.2 269.9 217.2 269.8 218.2 269.2 219.2 269.6 220.2 270.0 221.2 270.0 222.2 270.0 223.2 270.1 224.2 269.7 225.2 269.7 226.2 269.3 227.2 268.9 228.2 268.9 229.2 268.9 230.2 269.5 231.2 269.4 232.2 269.3 233.2 269.2 234.2 268.7 235.2 268.9 236.2 269.1 237.2 268.9 238.2 268.6 239.2 268.6 240.2 268.5 241.2 268.8 242.2 268.3 243.2 268.0 244.2 268.1 245.2 268.5 246.2 268.6 247.2 268.6 248.2 268.7 249.2 268.2 250.2 267.5 251.2 267.6 252.2 267.5 253.2 267.1 254.2 267.3 255.2 266.9 256.2 266.4 257.2 266.2 258.2 266.5 259.2 265.5 260.2 265.3 261.2 264.9 262.2 264.5 263.2 264.3 264.2 263.6 265.2 263.6 266.2 262.6 267.2 261.8 268.2 260.4 269.2 259.5 270.2 258.7 271.2 258.1 272.2 256.8 273.2 256.1 274.2 256.0 275.2 255.8 276.2 255.1 277.2 255.3 278.2 255.6 279.2 255.6 280.2 255.9 281.2 256.2 282.2 256.7 283.2 256.5 284.2 256.4 285.2 255.5 286.2 254.8 287.2 253.2 288.2 251.6 289.2 249.7 290.2 247.6 291.2 245.3 292.2 243.1 293.2 241.3 294.2 238.9 295.2 236.0 296.2 233.7 297.2 230.2 298.2 227.3 299.2 223.3 300.2 219.0 301.2 214.8 302.2 209.9 303.2 203.6 304.2 196.8 305.2 190.2 306.2 182.8 307.2 172.2 308.2 160.7 309.2 149.8 310.2 142.4 311.2 135.8 312.2 132.9 313.2 135.6 314.2 141.8 315.2 149.3 316.2 161.8 317.2 175.0 318.2 184.8 319.2 189.8 320.2 194.4 321.2 197.5 322.2 199.6 323.2 202.6 324.2 205.1 325.2 207.3 326.2 208.8 327.2 210.7 328.2 211.9 329.2 213.0 330.2 214.9 331.2 216.4 332.2 217.1 333.2 218.6 334.2 218.5 335.2 218.6 336.2 217.4 337.2 215.5 338.2 213.1 339.2 210.9 340.2 208.2 341.2 205.5 342.2 202.7 343.2 199.9 344.2 197.5 345.2 194.5 346.2 191.2 347.2 189.0 348.2 186.6 349.2 183.8 350.2 181.2 351.2 179.2 352.2 178.1 353.2 177.6 354.2 178.7 355.2 180.6 356.2 183.4 357.2 186.0 358.2 190.2 359.2 195.7 360.2 201.4 361.2 205.1 362.2 208.5 363.2 211.1 364.2 214.0 365.2 216.1 366.2 218.1 367.2 219.1 368.2 219.1 369.2 218.9 370.2 218.9 371.2 219.0 372.2 219.0 373.2 218.3 374.2 218.3 375.2 220.5 376.2 223.9 377.2 227.5 378.2 230.5 379.2 233.7 380.2 236.8 381.2 240.4 382.2 243.1 383.2 245.5 384.2 247.1 385.2 248.3 386.2 249.7 387.2 249.9 388.2 250.6 389.2 251.8 390.2 251.8 391.2 251.4 392.2 251.8 393.2 251.6 394.2 251.5 395.2 251.2 396.2 250.9 397.2 250.6 398.2 250.8 399.2 251.2 400.2 251.2 401.2 250.8 402.2 250.6 403.2 249.8 404.2 249.3 405.2 249.8 406.2 249.8 407.2 250.2 408.2 250.1 409.2 250.6 410.2 251.5 411.2 252.3 412.2 252.8 413.2 252.9 414.2 252.0 415.2 251.2 416.2 251.0 417.2 250.7 418.2 250.2 419.2 250.0 420.2 250.8 421.2 251.4 422.2 251.9 423.2 252.3 424.2 252.8 425.2 253.3 426.2 252.9 427.2 253.2 428.2 253.7 429.2 253.7 430.2 253.1 431.2 253.1 432.2 252.7 433.2 253.1 434.2 253.2 435.2 252.7 436.2 252.8 437.2 252.9 438.2 252.8 439.2 252.6 440.2 252.3 441.2 252.2 442.2 252.6 443.2 251.9 444.2 251.5 445.2 251.0 446.2 250.1 447.2 249.6 448.2 248.8 449.2 248.2 450.2 247.4 451.2 246.2 452.2 245.2 453.2 243.2 454.2 241.4 455.2 240.3 456.2 239.0 457.2 238.2 458.2 237.4 459.2 236.0 460.2 235.7 461.2 234.8 462.2 234.6 463.2 235.3 464.2 236.2 465.2 236.9 466.2 237.2 467.2 238.1 468.2 238.7 469.2 239.8 470.2 240.0 471.2 240.4 472.2 241.3 473.2 241.9 474.2 242.3 475.2 242.5 476.2 243.1 477.2 242.7 478.2 242.9 479.2 242.2 480.2 241.7 481.2 241.2 482.2 240.9 483.2 240.5 484.2 239.4 485.2 238.9 486.2 238.4 487.2 237.4 488.2 236.1 489.2 234.3 490.2 232.6 491.2 230.7 492.2 229.6 493.2 229.1 494.2 230.2 495.2 230.9 496.2 230.9 497.2 231.3 498.2 230.8 499.2 229.0 500.2 228.1 501.2 226.4 502.2 224.8 503.2 223.4 504.2 222.6 505.2 221.8 506.2 221.8 507.2 222.3 508.2 223.4 509.2 224.4 510.2 225.5 511.2 227.2 512.2 228.0 513.2 229.0 514.2 230.3 515.2 231.8 516.2 232.3 517.2 233.3 518.2 234.9 519.2 236.0 520.2 236.8 521.2 236.9 522.2 236.7 523.2 236.1 524.2 236.2 525.2 235.5 526.2 234.3 527.2 233.5 528.2 231.9 529.2 230.9 530.2 230.3 531.2 228.3 532.2 227.1 533.2 225.1 534.2 223.9 535.2 222.5 536.2 220.9 537.2 219.4 538.2 217.9 539.2 217.6 540.2 217.5 541.2 217.9 542.2 218.2 543.2 219.7 544.2 220.4 545.2 221.3 546.2 222.4 547.2 223.2 548.2 223.5 549.2 223.9 550.2 224.7 551.2 224.7 552.2 225.5 553.2 225.0 554.2 225.4 555.2 224.9 556.2 224.1 557.2 223.3 558.2 221.2 559.2 219.5 560.2 218.2 561.2 216.6 562.2 214.8 563.2 213.5 564.2 211.8 565.2 210.1 566.2 207.9 567.2 205.5 568.2 203.2 569.2 201.0 570.2 199.1 571.2 197.5 572.2 197.2 573.2 196.0 574.2 196.1 575.2 196.4 576.2 198.6 577.2 200.5 578.2 202.4 579.2 205.2 580.2 208.2 581.2 212.0 582.2 215.2 583.2 219.0 584.2 222.6 585.2 224.7 586.2 226.2 587.2 227.7 588.2 228.9 589.2 230.0 590.2 230.8 591.2 231.0 592.2 231.7 593.2 231.7 594.2 231.5 595.2 231.3 596.2 231.9 597.2 231.9 598.2 231.7 599.2 232.1 600.2 232.2 601.2 232.1 602.2 232.4 603.2 232.4 604.2 232.3 605.2 232.4 606.2 232.0 607.2 231.1 608.2 231.2 609.2 230.5 610.2 230.8 611.2 229.9 612.2 229.7 613.2 230.2 614.2 230.2 615.2 230.4 616.2 230.2 617.2 230.4 618.2 231.5 619.2 231.2 620.2 231.2 621.2 231.4 622.2 231.8 623.2 231.8 624.2 232.0 625.2 231.7 626.2 231.1 627.2 231.2 628.2 230.5 629.2 229.8 630.2 230.2 631.2 230.1 632.2 229.7 633.2 229.2 634.2 228.5 635.2 228.1 636.2 227.7 637.2 227.4 638.2 227.5 639.2 227.9 640.2 227.9 641.2 227.4 642.2 227.3 643.2 226.9 644.2 227.0 645.2 226.8 646.2 226.9 647.2 226.7 648.2 226.3 649.2 226.0 650.2 225.2 651.2 225.1 652.2 224.8 653.2 224.2 654.2 223.9 655.2 223.7 656.2 223.2 657.2 223.2 658.2 222.7 659.2 222.8 660.2 222.3 661.2 221.6 662.2 220.9 663.2 220.3 664.2 219.4 665.2 219.3 666.2 218.5 667.2 217.3 668.2 216.2 669.2 214.5 670.2 213.5 671.2 211.7 672.2 210.0 673.2 208.9 674.2 207.7 675.2 207.2 676.2 207.3 677.2 207.0 678.2 207.2 679.2 206.3 680.2 205.6 681.2 205.8 682.2 204.9 683.2 204.1 684.2 202.9 685.2 201.5 686.2 201.2 687.2 200.1 688.2 199.7 689.2 198.6 690.2 198.3 691.2 198.8 692.2 199.4 693.2 201.0 694.2 201.9 695.2 202.9 696.2 204.1 697.2 205.4 698.2 207.6 699.2 209.4 700.2 210.9 701.2 212.1 702.2 213.0 703.2 214.6 704.2 214.8 705.2 215.1 706.2 215.6 707.2 216.4 708.2 216.1 709.2 215.9 710.2 216.5 711.2 215.8 712.2 216.0 713.2 215.3 714.2 215.0 715.2 214.5 716.2 214.3 717.2 214.5 718.2 214.3 719.2 213.7 720.2 212.8 721.2 212.3 722.2 212.0 723.2 212.0 724.2 212.0 725.2 210.8 726.2 210.4 727.2 210.8 728.2 210.0 729.2 209.6 730.2 209.7 731.2 210.4 732.2 210.1 733.2 210.6 734.2 210.3 735.2 210.9 736.2 210.8 737.2 211.3 738.2 211.9 739.2 212.4 740.2 212.4 741.2 213.2 742.2 213.3 743.2 214.2 744.2 214.9 745.2 215.7 746.2 215.5 747.2 216.0 748.2 217.0 749.2 218.1 750.2 218.4 751.2 219.6 752.2 220.3 753.2 220.6 754.2 221.3 755.2 221.9 756.2 222.7 757.2 224.1 758.2 224.6 759.2 225.2 760.2 225.8 761.2 225.8 762.2 226.3 763.2 226.7 764.2 227.1 765.2 226.7 766.2 227.5 767.2 227.1 768.2 227.1 769.2 227.3 770.2 227.3 771.2 227.2 772.2 226.5 773.2 226.0 774.2 226.0 775.2 225.1 776.2 225.3 777.2 224.7 778.2 224.4 779.2 224.0 780.2 224.2 781.2 223.7 782.2 223.5 783.2 223.5 784.2 223.6 785.2 224.3 786.2 225.1 787.2 224.6 788.2 225.1 789.2 225.3 790.2 225.4 791.2 225.6 792.2 225.5 793.2 225.8 794.2 225.8 795.2 225.6 796.2 225.6 797.2 226.3 798.2 226.5 799.2 226.8 800.2 226.8 801.2 226.7 802.2 226.2 803.2 226.0 804.2 226.8 805.2 226.9 806.2 227.1 807.2 226.7 808.2 227.3 809.2 227.3 810.2 227.0 811.2 227.1 812.2 228.0 813.2 228.2 814.2 227.8 815.2 227.7 816.2 228.5 817.2 228.4 818.2 228.6 819.2 228.5 820.2 228.5 821.2 228.9 822.2 229.0 823.2 228.8 824.2 228.7 825.2 228.9 826.2 228.7 827.2 228.5 828.2 228.8 829.2 228.4 830.2 228.8 831.2 229.0 832.2 228.9 833.2 229.0 834.2 228.1 835.2 227.9 836.2 227.7 837.2 227.2 838.2 227.6 839.2 226.8 840.2 227.3 841.2 227.1 842.2 227.1 843.2 226.1 844.2 226.4 845.2 226.4 846.2 226.1 847.2 225.7 848.2 225.5 849.2 225.1 850.2 225.2 851.2 224.8 852.2 224.5 853.2 224.0 854.2 223.9 855.2 223.6 856.2 223.7 857.2 223.4 858.2 222.6 859.2 222.5 860.2 221.8 861.2 221.6 862.2 221.4 863.2 221.3 864.2 220.5 865.2 220.1 866.2 219.8 867.2 219.9 868.2 219.4 869.2 219.5 870.2 219.7 871.2 219.3 872.2 218.8 873.2 219.0 874.2 218.8 875.2 218.7 876.2 218.4 877.2 218.9 878.2 218.7 879.2 219.4 880.2 219.3 881.2 219.5 882.2 219.9 883.2 220.3 884.2 219.6 885.2 220.4 886.2 220.0 887.2 220.9 888.2 221.2 889.2 221.0 890.2 221.5 891.2 221.7 892.2 221.8 893.2 222.2 894.2 222.2 895.2 222.6 896.2 222.9 897.2 222.4 898.2 222.8 899.2 223.1 900.2 223.4 901.2 223.2 902.2 223.1 903.2 222.6 904.2 222.4 905.2 222.9 906.2 222.1 907.2 222.5 908.2 221.8 909.2 221.6 910.2 221.5 911.2 220.8 912.2 220.7 913.2 220.8 914.2 220.3 915.2 219.6 916.2 219.1 917.2 219.5 918.2 218.7 919.2 218.7 920.2 218.5 921.2 217.9 922.2 217.8 923.2 217.7 924.2 217.1 925.2 216.7 926.2 217.0 927.2 216.2 928.2 216.0 929.2 215.6 930.2 215.6 931.2 215.5 932.2 215.1 933.2 214.6 934.2 214.1 935.2 213.3 936.2 213.3 937.2 212.9 938.2 213.0 939.2 212.5 940.2 211.9 941.2 211.8 942.2 212.1 943.2 211.8 944.2 211.8 945.2 211.2 946.2 211.1 947.2 211.1 948.2 211.5 949.2 211.4 950.2 212.4 951.2 212.4 952.2 212.2 953.2 212.6 954.2 213.3 955.2 213.8 956.2 214.4 957.2 214.1 958.2 214.9 959.2 215.2 960.2 214.9 961.2 214.9 962.2 214.5 963.2 214.1 964.2 213.6 965.2 214.3 966.2 214.4 967.2 213.9 968.2 213.7 969.2 213.4 970.2 213.3 971.2 212.7 972.2 213.0 973.2 212.5 974.2 212.7 975.2 212.8 976.2 213.2 977.2 213.2 978.2 212.9 979.2 213.6 980.2 213.6 981.2 214.0 982.2 214.6 983.2 215.3 984.2 214.9 985.2 215.3 986.2 215.6 987.2 216.4 988.2 216.5 989.2 217.2 990.2 217.5 991.2 217.4 992.2 217.7 993.2 217.9 994.2 217.3 995.2 217.3 996.2 217.1 997.2 217.7 998.2 217.4 999.2 217.2 1000.2 217.4 1001.2 217.7 1002.2 216.9 1003.2 217.1 1004.2 216.6 1005.2 216.9 1006.2 216.9 1007.2 216.8 1008.2 216.5 1009.2 215.8 1010.2 216.2 1011.2 215.5 1012.2 215.6 1013.2 216.0 1014.2 215.3 1015.2 215.2 1016.2 215.3 1017.2 215.2 1018.2 214.8 1019.2 214.6 1020.2 215.0 1021.2 214.8 1022.2 214.2 1023.2 214.3 1024.2 214.5 1025.2 214.2 1026.2 214.3 1027.2 213.6 1028.2 213.3 1029.2 213.6 1030.2 213.1 1031.2 212.7 1032.2 212.5 1033.2 213.1 1034.2 213.2 1035.2 212.6 1036.2 212.9 1037.2 212.4 1038.2 212.6 1039.2 212.1 1040.2 212.4 1041.2 212.6 1042.2 212.5 1043.2 212.5 1044.2 212.0 1045.2 212.1 1046.2 212.4 1047.2 212.1 1048.2 212.3 1049.2 212.3 1050.2 212.4 1051.2 212.4 1052.2 211.9 1053.2 212.3 1054.2 212.4 1055.2 212.0 1056.2 212.2 1057.2 211.9 1058.2 212.0" stroke="#008000"/>
<path d="M72.2 211.4L73.2 211.7 74.2 211.8 75.2 212.1 76.2 211.5 77.2 211.4 78.2 211.3 79.2 211.4 80.2 211.9 81.2 211.6 82.2 211.9 83.2 211.8 84.2 211.9 85.2 212.1 86.2 212.7 87.2 212.7 88.2 212.2 89.2 212.3 90.2 212.3 91.2 213.1 92.2 213.4 93.2 213.6 94.2 213.8 95.2 213.8 96.2 214.1 97.2 214.2 98.2 213.7 99.2 214.2 100.2 214.1 101.2 214.4 102.2 214.4 103.2 214.3 104.2 214.3 105.2 214.4 106.2 214.4 107.2 214.3 108.2 215.1 109.2 215.5 110.2 215.9 111.2 215.9 112.2 215.9 113.2 216.2 114.2 215.8 115.2 216.3 116.2 216.3 117.2 216.2 118.2 216.3 119.2 216.8 120.2 216.8 121.2 217.1 122.2 217.4 123.2 217.5 124.2 217.3 125.2 217.7 126.2 217.6 127.2 217.7 128.2 217.7 129.2 218.0 130.2 217.8 131.2 218.3 132.2 218.9 133.2 218.6 134.2 218.7 135.2 219.0 136.2 218.2 137.2 218.0 138.2 218.5 139.2 218.7 140.2 218.6 141.2 218.0 142.2 218.0 143.2 218.4 144.2 218.5 145.2 218.5 146.2 217.8 147.2 218.1 148.2 217.7 149.2 217.9 150.2 217.4 151.2 217.9 152.2 217.8 153.2 217.8 154.2 217.3 155.2 217.6 156.2 217.6 157.2 217.7 158.2 217.6 159.2 218.0 160.2 217.8 161.2 217.8 162.2 217.7 163.2 218.4 164.2 218.1 165.2 218.3 166.2 218.3 167.2 218.9 168.2 219.2 169.2 219.4 170.2 219.0 171.2 219.4 172.2 219.5 173.2 219.3 174.2 219.2 175.2 220.1 176.2 219.6 177.2 219.5 178.2 219.3 179.2 219.4 180.2 218.7 181.2 218.6 182.2 218.2 183.2 218.4 184.2 217.4 185.2 217.1 186.2 216.9 187.2 216.9 188.2 216.1 189.2 215.5 190.2 215.3 191.2 214.9 192.2 214.8 193.2 215.9 194.2 217.5 195.2 218.6 196.2 219.0 197.2 219.6 198.2 219.9 199.2 219.4 200.2 219.5 201.2 219.3 202.2 219.0 203.2 218.9 204.2 218.7 205.2 218.8 206.2 218.4 207.2 218.5 208.2 218.2 209.2 218.7 210.2 218.7 211.2 218.0 212.2 218.4 213.2 218.0 214.2 218.0 215.2 218.1 216.2 217.8 217.2 217.6 218.2 217.6 219.2 217.3 220.2 217.9 221.2 217.3 222.2 217.8 223.2 217.3 224.2 217.2 225.2 217.2 226.2 216.8 227.2 216.7 228.2 216.9 229.2 217.0 230.2 217.5 231.2 217.7 232.2 216.9 233.2 217.0 234.2 216.6 235.2 217.1 236.2 216.7 237.2 217.1 238.2 216.9 239.2 216.4 240.2 216.0 241.2 216.0 242.2 216.6 243.2 216.1 244.2 216.1 245.2 216.0 246.2 215.8 247.2 216.1 248.2 215.6 249.2 215.8 250.2 215.7 251.2 215.8 252.2 215.2 253.2 215.2 254.2 214.5 255.2 214.1 256.2 213.7 257.2 213.5 258.2 213.2 259.2 212.0 260.2 211.3 261.2 211.0 262.2 210.9 263.2 210.2 264.2 209.4 265.2 209.4 266.2 208.1 267.2 206.7 268.2 205.4 269.2 204.1 270.2 203.5 271.2 201.9 272.2 201.3 273.2 200.6 274.2 200.1 275.2 199.6 276.2 199.0 277.2 199.0 278.2 199.3 279.2 199.4 280.2 199.1 281.2 199.5 282.2 199.1 283.2 199.1 284.2 199.6 285.2 198.6 286.2 196.9 287.2 195.5 288.2 193.2 289.2 190.3 290.2 187.5 291.2 185.1 292.2 182.6 293.2 180.7 294.2 177.9 295.2 175.7 296.2 173.1 297.2 169.9 298.2 167.3 299.2 164.0 300.2 160.4 301.2 156.6 302.2 152.9 303.2 149.2 304.2 144.5 305.2 139.4 306.2 134.7 307.2 130.2 308.2 124.8 309.2 119.2 310.2 113.3 311.2 109.8 312.2 107.8 313.2 108.9 314.2 112.5 315.2 116.2 316.2 120.1 317.2 123.5 318.2 127.0 319.2 129.8 320.2 129.9 321.2 130.5 322.2 130.7 323.2 130.7 324.2 131.6 325.2 132.3 326.2 134.9 327.2 136.7 328.2 139.6 329.2 141.0 330.2 142.3 331.2 144.3 332.2 146.4 333.2 147.2 334.2 148.1 335.2 148.3 336.2 147.0 337.2 145.2 338.2 142.0 339.2 139.3 340.2 136.6 341.2 133.2 342.2 129.1 343.2 124.5 344.2 120.7 345.2 116.5 346.2 113.4 347.2 110.2 348.2 106.5 349.2 104.1 350.2 101.8 351.2 99.5 352.2 97.6 353.2 95.6 354.2 94.7 355.2 95.4 356.2 97.6 357.2 99.9 358.2 102.9 359.2 107.6 360.2 112.5 361.2 117.2 362.2 122.8 363.2 128.1 364.2 134.1 365.2 140.8 366.2 147.2 367.2 152.0 368.2 155.9 369.2 158.3 370.2 160.4 371.2 162.1 372.2 164.2 373.2 165.6 374.2 167.8 375.2 169.1 376.2 170.9 377.2 172.9 378.2 174.5 379.2 176.0 380.2 177.7 381.2 180.3 382.2 182.8 383.2 185.6 384.2 187.8 385.2 189.8 386.2 191.0 387.2 192.4 388.2 193.9 389.2 195.2 390.2 195.2 391.2 195.3 392.2 195.3 393.2 195.6 394.2 195.8 395.2 196.6 396.2 196.1 397.2 196.7 398.2 196.2 399.2 195.8 400.2 196.3 401.2 195.5 402.2 195.1 403.2 194.8 404.2 194.5 405.2 194.6 406.2 194.4 407.2 194.3 408.2 194.1 409.2 194.7 410.2 194.3 411.2 194.3 412.2 194.7 413.2 195.1 414.2 195.1 415.2 195.1 416.2 195.1 417.2 195.2 418.2 195.3 419.2 194.7 420.2 194.3 421.2 194.8 422.2 195.1 423.2 195.4 424.2 196.1 425.2 196.0 426.2 196.6 427.2 196.7 428.2 196.7 429.2 196.5 430.2 196.4 431.2 196.6 432.2 196.6 433.2 196.9 434.2 196.3 435.2 196.4 436.2 195.7 437.2 195.9 438.2 195.3 439.2 195.6 440.2 195.7 441.2 194.9 442.2 194.9 443.2 194.2 444.2 193.8 445.2 193.2 446.2 193.1 447.2 192.3 448.2 191.9 449.2 191.0 450.2 189.8 451.2 188.8 452.2 187.2 453.2 185.9 454.2 184.8 455.2 183.5 456.2 183.4 457.2 182.1 458.2 181.1 459.2 181.0 460.2 180.6 461.2 179.9 462.2 179.6 463.2 179.3 464.2 179.3 465.2 180.0 466.2 180.3 467.2 180.6 468.2 181.7 469.2 181.3 470.2 181.7 471.2 182.5 472.2 183.0 473.2 182.7 474.2 183.3 475.2 183.5 476.2 183.6 477.2 183.8 478.2 183.6 479.2 183.0 480.2 182.5 481.2 181.6 482.2 180.9 483.2 180.5 484.2 179.6 485.2 178.5 486.2 177.0 487.2 176.4 488.2 174.9 489.2 173.5 490.2 171.9 491.2 170.0 492.2 167.8 493.2 167.7 494.2 167.8 495.2 168.0 496.2 168.4 497.2 168.1 498.2 167.9 499.2 167.7 500.2 167.2 501.2 166.6 502.2 166.2 503.2 165.3 504.2 164.7 505.2 163.8 506.2 163.5 507.2 163.6 508.2 164.2 509.2 165.4 510.2 165.8 511.2 167.0 512.2 168.6 513.2 169.6 514.2 170.9 515.2 171.1 516.2 172.4 517.2 173.1 518.2 174.0 519.2 174.3 520.2 175.2 521.2 176.2 522.2 176.7 523.2 176.7 524.2 176.3 525.2 175.3 526.2 174.9 527.2 173.8 528.2 172.8 529.2 171.5 530.2 170.1 531.2 169.4 532.2 167.9 533.2 167.7 534.2 166.2 535.2 165.9 536.2 164.9 537.2 164.0 538.2 163.7 539.2 162.9 540.2 162.5 541.2 161.9 542.2 162.6 543.2 162.9 544.2 162.9 545.2 163.0 546.2 163.7 547.2 164.6 548.2 165.0 549.2 164.9 550.2 164.7 551.2 165.5 552.2 165.2 553.2 165.7 554.2 165.6 555.2 165.2 556.2 163.0 557.2 161.4 558.2 159.3 559.2 156.6 560.2 155.2 561.2 153.5 562.2 152.2 563.2 150.8 564.2 149.0 565.2 147.0 566.2 145.4 567.2 143.5 568.2 142.2 569.2 140.6 570.2 140.1 571.2 138.9 572.2 138.8 573.2 138.6 574.2 139.4 575.2 139.9 576.2 141.0 577.2 142.9 578.2 144.6 579.2 146.9 580.2 149.2 581.2 152.2 582.2 154.2 583.2 157.0 584.2 159.2 585.2 160.6 586.2 162.1 587.2 163.8 588.2 165.6 589.2 167.2 590.2 168.2 591.2 168.6 592.2 168.4 593.2 169.3 594.2 169.6 595.2 169.5 596.2 170.1 597.2 170.1 598.2 170.2 599.2 170.5 600.2 170.9 601.2 170.4 602.2 170.4 603.2 170.1 604.2 170.3 605.2 170.3 606.2 169.7 607.2 169.7 608.2 169.3 609.2 168.6 610.2 168.1 611.2 167.9 612.2 167.9 613.2 167.4 614.2 166.6 615.2 167.0 616.2 167.1 617.2 167.2 618.2 167.2 619.2 167.6 620.2 168.2 621.2 168.2 622.2 168.1 623.2 168.8 624.2 168.6 625.2 168.1 626.2 168.7 627.2 168.1 628.2 168.0 629.2 168.1 630.2 168.1 631.2 168.2 632.2 167.5 633.2 167.4 634.2 167.6 635.2 167.1 636.2 167.1 637.2 166.7 638.2 166.6 639.2 166.7 640.2 166.0 641.2 165.9 642.2 165.2 643.2 165.3 644.2 165.0 645.2 164.7 646.2 164.4 647.2 163.7 648.2 163.5 649.2 162.4 650.2 162.1 651.2 161.2 652.2 161.1 653.2 160.8 654.2 160.0 655.2 159.9 656.2 159.2 657.2 158.3 658.2 157.6 659.2 157.3 660.2 156.5 661.2 155.5 662.2 154.8 663.2 154.8 664.2 153.7 665.2 152.8 666.2 151.4 667.2 149.7 668.2 148.7 669.2 147.1 670.2 145.6 671.2 144.3 672.2 142.6 673.2 140.4 674.2 139.9 675.2 139.0 676.2 139.0 677.2 139.3 678.2 140.0 679.2 140.3 680.2 140.5 681.2 140.3 682.2 140.5 683.2 139.5 684.2 139.6 685.2 138.3 686.2 137.5 687.2 137.6 688.2 137.5 689.2 137.4 690.2 137.3 691.2 138.3 692.2 138.8 693.2 139.3 694.2 139.9 695.2 141.8 696.2 142.7 697.2 144.3 698.2 146.1 699.2 148.1 700.2 149.4 701.2 150.2 702.2 150.8 703.2 150.7 704.2 151.8 705.2 151.9 706.2 152.9 707.2 153.4 708.2 152.7 709.2 152.9 710.2 152.1 711.2 151.3 712.2 151.2 713.2 150.3 714.2 149.3 715.2 148.8 716.2 147.7 717.2 147.4 718.2 147.2 719.2 147.0 720.2 145.9 721.2 145.8 722.2 144.7 723.2 144.1 724.2 143.7 725.2 143.2 726.2 142.7 727.2 142.9 728.2 142.7 729.2 142.3 730.2 142.6 731.2 142.3 732.2 142.8 733.2 143.3 734.2 143.1 735.2 143.0 736.2 143.1 737.2 143.1 738.2 143.3 739.2 143.2 740.2 143.6 741.2 144.3 742.2 144.7 743.2 144.8 744.2 145.3 745.2 146.6 746.2 147.0 747.2 148.0 748.2 148.6 749.2 149.3 750.2 149.9 751.2 151.0 752.2 151.9 753.2 152.9 754.2 154.3 755.2 154.6 756.2 155.3 757.2 156.7 758.2 157.7 759.2 158.4 760.2 159.2 761.2 159.2 762.2 160.2 763.2 160.4 764.2 161.5 765.2 161.8 766.2 162.1 767.2 162.3 768.2 162.0 769.2 162.2 770.2 162.5 771.2 162.1 772.2 161.9 773.2 161.6 774.2 161.2 775.2 161.1 776.2 161.4 777.2 161.6 778.2 161.0 779.2 160.6 780.2 160.4 781.2 160.8 782.2 160.4 783.2 160.1 784.2 160.2 785.2 160.0 786.2 160.1 787.2 160.2 788.2 160.8 789.2 161.3 790.2 161.0 791.2 160.9 792.2 161.3 793.2 161.0 794.2 161.0 795.2 161.6 796.2 161.8 797.2 161.8 798.2 162.0 799.2 161.7 800.2 161.9 801.2 161.9 802.2 162.0 803.2 162.0 804.2 162.8 805.2 162.4 806.2 162.7 807.2 162.6 808.2 162.7 809.2 163.3 810.2 163.9 811.2 164.1 812.2 163.7 813.2 163.8 814.2 163.8 815.2 163.5 816.2 163.7 817.2 164.1 818.2 164.1 819.2 164.5 820.2 164.4 821.2 164.2 822.2 164.8 823.2 164.7 824.2 164.4 825.2 164.9 826.2 164.8 827.2 164.8 828.2 164.7 829.2 165.1 830.2 165.1 831.2 164.8 832.2 164.6 833.2 164.9 834.2 165.0 835.2 164.8 836.2 164.9 837.2 164.6 838.2 164.3 839.2 164.0 840.2 163.8 841.2 163.5 842.2 164.1 843.2 163.9 844.2 163.3 845.2 163.1 846.2 163.1 847.2 163.5 848.2 163.6 849.2 163.4 850.2 162.8 851.2 162.6 852.2 163.0 853.2 162.5 854.2 162.5 855.2 161.7 856.2 161.8 857.2 161.7 858.2 161.9 859.2 161.8 860.2 161.4 861.2 160.7 862.2 160.7 863.2 160.6 864.2 159.5 865.2 159.3 866.2 159.1 867.2 158.6 868.2 158.1 869.2 158.3 870.2 157.7 871.2 157.6 872.2 156.9 873.2 157.0 874.2 157.4 875.2 156.5 876.2 156.2 877.2 156.8 878.2 157.1 879.2 156.8 880.2 156.5 881.2 156.5 882.2 156.9 883.2 157.1 884.2 157.1 885.2 157.5 886.2 157.1 887.2 157.4 888.2 158.1 889.2 158.6 890.2 158.5 891.2 158.9 892.2 159.2 893.2 159.1 894.2 158.8 895.2 158.8 896.2 159.4 897.2 159.4 898.2 159.6 899.2 159.3 900.2 160.0 901.2 159.7 902.2 159.8 903.2 159.8 904.2 159.4 905.2 159.0 906.2 159.0 907.2 158.6 908.2 157.9 909.2 157.6 910.2 157.1 911.2 157.5 912.2 156.8 913.2 157.0 914.2 156.5 915.2 156.4 916.2 155.7 917.2 155.0 918.2 154.4 919.2 154.5 920.2 154.4 921.2 154.1 922.2 154.0 923.2 152.9 924.2 152.8 925.2 152.6 926.2 152.5 927.2 151.5 928.2 151.6 929.2 150.5 930.2 150.4 931.2 149.9 932.2 149.7 933.2 149.0 934.2 148.8 935.2 148.6 936.2 148.4 937.2 148.2 938.2 147.8 939.2 147.5 940.2 147.5 941.2 147.9 942.2 147.9 943.2 147.0 944.2 147.1 945.2 146.6 946.2 146.5 947.2 147.2 948.2 146.8 949.2 146.4 950.2 146.7 951.2 146.9 952.2 146.9 953.2 147.3 954.2 147.1 955.2 146.8 956.2 146.6 957.2 146.9 958.2 147.2 959.2 147.1 960.2 146.9 961.2 146.8 962.2 147.3 963.2 147.7 964.2 147.5 965.2 147.5 966.2 147.2 967.2 146.9 968.2 146.7 969.2 147.2 970.2 147.8 971.2 147.8 972.2 147.8 973.2 148.0 974.2 147.8 975.2 147.8 976.2 147.7 977.2 148.4 978.2 148.6 979.2 148.7 980.2 149.1 981.2 149.5 982.2 149.0 983.2 149.1 984.2 149.5 985.2 150.1 986.2 150.0 987.2 150.2 988.2 150.7 989.2 150.6 990.2 151.0 991.2 150.6 992.2 150.9 993.2 151.2 994.2 151.6 995.2 151.4 996.2 151.4 997.2 151.4 998.2 151.3 999.2 151.0 1000.2 150.7 1001.2 150.4 1002.2 150.9 1003.2 151.0 1004.2 150.8 1005.2 150.7 1006.2 150.2 1007.2 149.7 1008.2 149.8 1009.2 149.7 1010.2 149.7 1011.2 149.9 1012.2 149.4 1013.2 149.1 1014.2 149.2 1015.2 149.3 1016.2 149.0 1017.2 148.8 1018.2 148.9 1019.2 148.9 1020.2 147.9 1021.2 148.3 1022.2 147.5 1023.2 147.5 1024.2 147.3 1025.2 147.6 1026.2 146.9 1027.2 146.3 1028.2 146.9 1029.2 146.5 1030.2 146.3 1031.2 146.1 1032.2 145.8 1033.2 145.4 1034.2 145.7 1035.2 145.5 1036.2 145.7 1037.2 146.2 1038.2 146.5 1039.2 145.9 1040.2 145.7 1041.2 145.4 1042.2 145.8 1043.2 145.6 1044.2 145.4 1045.2 146.2 1046.2 146.2 1047.2 146.5 1048.2 146.0 1049.2 145.8 1050.2 146.1 1051.2 146.3 1052.2 146.0 1053.2 146.1 1054.2 146.3 1055.2 146.3 1056.2 146.1 1057.2 146.2 1058.2 145.9" stroke="#ff0000"/>
<path d="M72.2 154.8L73.2 155.3 74.2 155.4 75.2 155.8 76.2 155.3 77.2 155.2 78.2 155.6 79.2 155.8 80.2 155.6 81.2 156.0 82.2 155.9 83.2 156.4 84.2 156.0 85.2 156.0 86.2 156.8 87.2 156.7 88.2 156.6 89.2 157.3 90.2 157.5 91.2 157.2 92.2 157.5 93.2 157.9 94.2 157.7 95.2 158.2 96.2 158.0 97.2 158.2 98.2 158.1 99.2 158.3 100.2 159.3 101.2 159.1 102.2 159.8 103.2 159.6 104.2 159.7 105.2 160.1 106.2 160.2 107.2 159.8 108.2 160.2 109.2 160.5 110.2 160.2 111.2 160.2 112.2 161.0 113.2 161.1 114.2 160.9 115.2 161.2 116.2 161.2 117.2 161.9 118.2 162.0 119.2 161.7 120.2 162.4 121.2 162.0 122.2 162.2 123.2 162.0 124.2 162.8 125.2 162.5 126.2 162.9 127.2 162.7 128.2 163.0 129.2 163.4 130.2 163.5 131.2 163.4 132.2 163.4 133.2 163.4 134.2 163.6 135.2 163.1 136.2 163.3 137.2 163.1 138.2 163.7 139.2 163.9 140.2 163.2 141.2 162.9 142.2 163.3 143.2 163.3 144.2 162.8 145.2 163.2 146.2 163.6 147.2 163.2 148.2 162.9 149.2 163.0 150.2 163.4 151.2 162.9 152.2 162.7 153.2 162.5 154.2 162.9 155.2 162.9 156.2 162.7 157.2 162.7 158.2 162.5 159.2 162.7 160.2 163.5 161.2 163.5 162.2 163.2 163.2 163.9 164.2 163.6 165.2 163.5 166.2 163.3 167.2 163.4 168.2 163.6 169.2 163.7 170.2 164.5 171.2 164.2 172.2 164.2 173.2 164.5 174.2 165.0 175.2 164.6 176.2 164.8 177.2 164.5 178.2 164.4 179.2 164.3 180.2 164.4 181.2 164.1 182.2 163.5 183.2 163.5 184.2 162.8 185.2 162.3 186.2 162.5 187.2 161.8 188.2 161.4 189.2 160.6 190.2 160.8 191.2 160.8 192.2 160.8 193.2 162.0 194.2 162.5 195.2 162.9 196.2 163.2 197.2 163.1 198.2 163.2 199.2 163.9 200.2 163.6 201.2 163.7 202.2 163.9 203.2 164.1 204.2 164.1 205.2 164.4 206.2 164.0 207.2 163.9 208.2 163.9 209.2 163.5 210.2 163.3 211.2 163.1 212.2 163.5 213.2 163.0 214.2 163.2 215.2 162.7 216.2 162.8 217.2 162.8 218.2 162.3 219.2 162.6 220.2 162.3 221.2 162.0 222.2 161.3 223.2 161.3 224.2 161.1 225.2 161.1 226.2 161.6 227.2 161.6 228.2 160.8 229.2 161.1 230.2 161.4 231.2 161.2 232.2 160.6 233.2 161.1 234.2 160.9 235.2 161.3 236.2 161.4 237.2 161.3 238.2 161.4 239.2 160.6 240.2 160.9 241.2 160.6 242.2 160.3 243.2 160.4 244.2 160.6 245.2 160.1 246.2 160.3 247.2 160.6 248.2 160.5 249.2 160.4 250.2 160.0 251.2 160.5 252.2 159.8 253.2 159.8 254.2 159.6 255.2 158.7 256.2 159.2 257.2 158.4 258.2 158.6 259.2 158.4 260.2 158.1 261.2 157.6 262.2 156.7 263.2 156.1 264.2 155.3 265.2 154.9 266.2 153.1 267.2 151.8 268.2 151.3 269.2 150.2 270.2 148.9 271.2 148.0 272.2 146.6 273.2 146.0 274.2 145.0 275.2 144.9 276.2 143.7 277.2 143.6 278.2 143.8 279.2 144.1 280.2 143.8 281.2 144.0 282.2 144.3 283.2 143.9 284.2 143.4 285.2 142.5 286.2 142.3 287.2 141.2 288.2 139.9 289.2 138.5 290.2 136.3 291.2 134.3 292.2 132.2 293.2 130.1 294.2 128.6 295.2 126.1 296.2 123.5 297.2 121.9 298.2 119.5 299.2 116.5 300.2 114.4 301.2 112.1 302.2 109.6 303.2 107.1 304.2 104.0 305.2 100.9 306.2 98.5 307.2 95.6 308.2 92.9 309.2 89.4 310.2 85.7 311.2 82.6 312.2 80.2 313.2 80.1 314.2 80.6 315.2 81.8 316.2 82.4 317.2 83.1 318.2 83.4 319.2 82.1 320.2 80.5 321.2 79.3 322.2 77.8 323.2 77.9 324.2 77.9 325.2 79.3 326.2 80.4 327.2 81.4 328.2 83.1 329.2 84.6 330.2 85.8 331.2 87.4 332.2 88.7 333.2 90.4 334.2 90.7 335.2 91.2 336.2 89.8 337.2 88.6 338.2 86.3 339.2 84.0 340.2 82.1 341.2 80.2 342.2 76.9 343.2 73.5 344.2 70.0 345.2 66.6 346.2 63.0 347.2 59.2 348.2 55.6 349.2 51.6 350.2 47.8 351.2 45.3 352.2 43.6 353.2 41.3 354.2 39.8 355.2 40.5 356.2 42.8 357.2 44.4 358.2 47.0 359.2 51.3 360.2 55.3 361.2 60.5 362.2 64.7 363.2 69.1 364.2 74.0 365.2 78.4 366.2 83.7 367.2 88.0 368.2 92.1 369.2 95.6 370.2 98.1 371.2 101.5 372.2 104.5 373.2 106.7 374.2 109.5 375.2 111.9 376.2 114.8 377.2 117.8 378.2 120.0 379.2 122.3 380.2 123.8 381.2 125.9 382.2 127.1 383.2 128.4 384.2 128.8 385.2 130.5 386.2 131.4 387.2 133.2 388.2 134.6 389.2 136.6 390.2 137.2 391.2 138.2 392.2 138.7 393.2 138.9 394.2 138.9 395.2 139.6 396.2 140.3 397.2 140.0 398.2 140.4 399.2 140.0 400.2 139.7 401.2 139.6 402.2 140.0 403.2 139.9 404.2 139.6 405.2 138.8 406.2 138.8 407.2 138.4 408.2 138.2 409.2 138.5 410.2 138.6 411.2 138.5 412.2 138.9 413.2 139.4 414.2 139.8 415.2 140.0 416.2 139.7 417.2 139.4 418.2 140.1 419.2 139.9 420.2 139.8 421.2 140.3 422.2 140.2 423.2 140.7 424.2 140.6 425.2 140.8 426.2 140.1 427.2 140.6 428.2 140.3 429.2 140.3 430.2 139.9 431.2 139.6 432.2 139.5 433.2 139.2 434.2 139.8 435.2 139.1 436.2 138.8 437.2 139.0 438.2 138.5 439.2 138.2 440.2 138.0 441.2 137.8 442.2 137.3 443.2 137.7 444.2 137.6 445.2 136.9 446.2 136.9 447.2 136.1 448.2 135.1 449.2 135.0 450.2 133.7 451.2 133.3 452.2 132.7 453.2 131.1 454.2 130.8 455.2 129.5 456.2 128.3 457.2 127.7 458.2 126.5 459.2 125.6 460.2 124.7 461.2 124.9 462.2 124.3 463.2 124.2 464.2 124.0 465.2 124.3 466.2 124.6 467.2 124.9 468.2 125.0 469.2 125.6 470.2 125.5 471.2 125.3 472.2 125.8 473.2 125.4 474.2 126.3 475.2 126.0 476.2 126.0 477.2 125.9 478.2 125.9 479.2 126.1 480.2 126.2 481.2 125.1 482.2 124.5 483.2 123.6 484.2 123.4 485.2 122.3 486.2 121.3 487.2 120.9 488.2 119.5 489.2 118.2 490.2 117.0 491.2 115.6 492.2 115.0 493.2 113.9 494.2 113.4 495.2 113.1 496.2 113.0 497.2 112.8 498.2 112.3 499.2 112.4 500.2 112.2 501.2 111.9 502.2 111.2 503.2 110.4 504.2 109.7 505.2 109.8 506.2 109.3 507.2 109.5 508.2 109.6 509.2 110.0 510.2 110.4 511.2 111.9 512.2 112.6 513.2 113.5 514.2 114.6 515.2 115.9 516.2 117.2 517.2 118.1 518.2 118.5 519.2 119.8 520.2 119.5 521.2 119.7 522.2 120.2 523.2 120.3 524.2 120.0 525.2 120.1 526.2 119.3 527.2 118.8 528.2 118.7 529.2 119.1 530.2 118.0 531.2 117.3 532.2 116.6 533.2 115.5 534.2 115.2 535.2 113.8 536.2 112.8 537.2 112.9 538.2 111.5 539.2 110.6 540.2 110.2 541.2 110.2 542.2 109.7 543.2 109.8 544.2 110.1 545.2 110.1 546.2 110.4 547.2 109.8 548.2 110.1 549.2 109.8 550.2 110.5 551.2 110.0 552.2 109.9 553.2 110.1 554.2 110.0 555.2 108.8 556.2 108.4 557.2 107.1 558.2 106.2 559.2 104.6 560.2 103.5 561.2 101.9 562.2 100.2 563.2 98.1 564.2 96.5 565.2 95.8 566.2 94.5 567.2 93.4 568.2 91.7 569.2 91.0 570.2 90.2 571.2 89.9 572.2 89.6 573.2 89.9 574.2 89.9 575.2 89.9 576.2 90.3 577.2 90.4 578.2 91.8 579.2 93.0 580.2 94.3 581.2 96.4 582.2 97.9 583.2 99.4 584.2 101.9 585.2 104.1 586.2 105.5 587.2 107.0 588.2 107.5 589.2 108.5 590.2 109.9 591.2 110.3 592.2 111.3 593.2 111.0 594.2 111.1 595.2 111.4 596.2 111.7 597.2 112.7 598.2 113.5 599.2 113.8 600.2 113.8 601.2 113.5 602.2 113.2 603.2 112.7 604.2 112.5 605.2 111.8 606.2 112.1 607.2 111.7 608.2 111.2 609.2 111.3 610.2 110.6 611.2 110.8 612.2 110.5 613.2 110.2 614.2 110.0 615.2 109.9 616.2 110.2 617.2 110.6 618.2 110.5 619.2 111.0 620.2 110.6 621.2 111.3 622.2 111.5 623.2 111.4 624.2 110.7 625.2 111.2 626.2 110.8 627.2 110.4 628.2 110.8 629.2 110.0 630.2 110.0 631.2 109.5 632.2 109.8 633.2 109.0 634.2 108.5 635.2 108.5 636.2 108.3 637.2 108.3 638.2 107.7 639.2 107.4 640.2 107.0 641.2 107.0 642.2 106.4 643.2 106.4 644.2 106.4 645.2 106.1 646.2 105.4 647.2 105.1 648.2 104.4 649.2 104.3 650.2 104.3 651.2 103.3 652.2 103.4 653.2 103.4 654.2 102.6 655.2 102.1 656.2 102.0 657.2 101.2 658.2 100.8 659.2 100.6 660.2 100.2 661.2 99.3 662.2 98.7 663.2 98.3 664.2 98.1 665.2 96.8 666.2 96.1 667.2 95.0 668.2 93.5 669.2 92.1 670.2 90.4 671.2 87.5 672.2 85.5 673.2 84.1 674.2 83.2 675.2 83.1 676.2 82.7 677.2 82.6 678.2 82.1 679.2 82.4 680.2 82.8 681.2 83.0 682.2 83.1 683.2 82.6 684.2 83.0 685.2 82.8 686.2 83.2 687.2 83.2 688.2 83.6 689.2 83.6 690.2 84.3 691.2 84.3 692.2 85.1 693.2 85.2 694.2 86.3 695.2 86.8 696.2 87.7 697.2 88.5 698.2 89.9 699.2 91.2 700.2 92.1 701.2 93.9 702.2 94.2 703.2 95.2 704.2 95.3 705.2 95.3 706.2 95.5 707.2 96.3 708.2 95.8 709.2 96.3 710.2 96.2 711.2 96.2 712.2 95.9 713.2 94.8 714.2 94.8 715.2 93.7 716.2 92.9 717.2 92.3 718.2 92.0 719.2 91.3 720.2 90.7 721.2 89.6 722.2 89.2 723.2 88.6 724.2 88.8 725.2 88.2 726.2 87.8 727.2 87.2 728.2 86.4 729.2 85.9 730.2 85.8 731.2 86.2 732.2 85.8 733.2 86.0 734.2 85.9 735.2 85.7 736.2 85.9 737.2 86.1 738.2 86.7 739.2 86.8 740.2 86.6 741.2 86.4 742.2 86.3 743.2 86.5 744.2 86.9 745.2 87.8 746.2 87.7 747.2 88.3 748.2 89.3 749.2 90.4 750.2 90.9 751.2 91.6 752.2 92.8 753.2 93.2 754.2 94.7 755.2 95.7 756.2 96.3 757.2 97.7 758.2 98.1 759.2 99.3 760.2 99.4 761.2 99.6 762.2 100.4 763.2 101.0 764.2 101.6 765.2 101.6 766.2 102.4 767.2 102.5 768.2 103.4 769.2 103.8 770.2 104.1 771.2 103.5 772.2 103.3 773.2 103.2 774.2 103.5 775.2 103.2 776.2 103.1 777.2 102.9 778.2 103.6 779.2 103.3 780.2 102.9 781.2 102.5 782.2 102.4 783.2 102.2 784.2 102.7 785.2 103.1 786.2 103.1 787.2 102.4 788.2 102.8 789.2 103.3 790.2 103.1 791.2 103.6 792.2 103.1 793.2 103.6 794.2 104.1 795.2 104.1 796.2 103.9 797.2 104.8 798.2 105.0 799.2 104.7 800.2 105.0 801.2 104.7 802.2 105.1 803.2 105.4 804.2 105.5 805.2 105.5 806.2 105.9 807.2 105.7 808.2 105.4 809.2 105.4 810.2 105.5 811.2 106.2 812.2 105.8 813.2 106.6 814.2 106.6 815.2 106.1 816.2 106.9 817.2 107.2 818.2 106.7 819.2 106.8 820.2 106.6 821.2 106.4 822.2 106.3 823.2 107.0 824.2 106.7 825.2 106.5 826.2 106.4 827.2 106.4 828.2 107.0 829.2 106.5 830.2 106.2 831.2 105.8 832.2 106.3 833.2 105.7 834.2 106.1 835.2 106.3 836.2 105.6 837.2 105.4 838.2 105.5 839.2 105.2 840.2 104.7 841.2 105.0 842.2 105.1 843.2 104.3 844.2 104.4 845.2 103.6 846.2 103.9 847.2 103.4 848.2 103.8 849.2 102.9 850.2 102.6 851.2 102.6 852.2 102.6 853.2 102.8 854.2 102.1 855.2 101.6 856.2 101.5 857.2 101.1 858.2 101.7 859.2 101.4 860.2 100.9 861.2 100.7 862.2 100.4 863.2 100.4 864.2 100.2 865.2 100.3 866.2 99.8 867.2 100.0 868.2 100.3 869.2 100.2 870.2 99.4 871.2 99.5 872.2 99.8 873.2 99.2 874.2 99.8 875.2 99.2 876.2 99.0 877.2 98.9 878.2 99.7 879.2 99.2 880.2 99.5 881.2 99.7 882.2 99.7 883.2 100.3 884.2 100.2 885.2 99.6 886.2 99.7 887.2 99.6 888.2 100.3 889.2 100.0 890.2 100.3 891.2 100.3 892.2 100.3 893.2 100.5 894.2 100.3 895.2 100.6 896.2 100.7 897.2 101.0 898.2 101.2 899.2 100.5 900.2 101.0 901.2 100.7 902.2 101.2 903.2 101.0 904.2 100.6 905.2 100.7 906.2 100.7 907.2 100.6 908.2 100.3 909.2 100.3 910.2 100.2 911.2 100.3 912.2 99.7 913.2 99.4 914.2 98.7 915.2 99.0 916.2 98.3 917.2 98.6 918.2 98.2 919.2 97.9 920.2 97.4 921.2 97.2 922.2 96.5 923.2 96.0 924.2 95.9 925.2 95.3 926.2 94.8 927.2 94.2 928.2 94.1 929.2 93.4 930.2 92.3 931.2 92.4 932.2 91.9 933.2 91.4 934.2 91.2 935.2 91.5 936.2 91.3 937.2 90.8 938.2 90.8 939.2 90.4 940.2 89.7 941.2 89.9 942.2 90.0 943.2 89.8 944.2 89.3 945.2 89.2 946.2 88.8 947.2 88.8 948.2 88.6 949.2 89.4 950.2 89.5 951.2 89.3 952.2 89.4 953.2 89.5 954.2 89.3 955.2 89.0 956.2 89.2 957.2 89.3 958.2 89.2 959.2 89.0 960.2 89.3 961.2 89.5 962.2 89.2 963.2 89.0 964.2 89.5 965.2 90.0 966.2 89.9 967.2 90.0 968.2 90.0 969.2 89.7 970.2 89.7 971.2 89.7 972.2 90.2 973.2 89.5 974.2 90.2 975.2 89.7 976.2 89.7 977.2 90.0 978.2 90.6 979.2 90.8 980.2 90.9 981.2 90.9 982.2 91.1 983.2 90.8 984.2 90.5 985.2 91.0 986.2 90.9 987.2 91.2 988.2 91.7 989.2 92.2 990.2 91.6 991.2 92.2 992.2 91.8 993.2 91.9 994.2 92.3 995.2 92.4 996.2 92.1 997.2 92.5 998.2 91.9 999.2 92.3 1000.2 92.6 1001.2 92.5 1002.2 91.7 1003.2 91.6 1004.2 91.2 1005.2 91.3 1006.2 91.3 1007.2 91.0 1008.2 91.1 1009.2 91.4 1010.2 91.3 1011.2 90.8 1012.2 90.3 1013.2 90.1 1014.2 90.6 1015.2 90.2 1016.2 90.2 1017.2 89.8 1018.2 90.0 1019.2 89.4 1020.2 89.4 1021.2 89.3 1022.2 89.2 1023.2 88.7 1024.2 88.9 1025.2 89.1 1026.2 88.4 1027.2 87.8 1028.2 87.7 1029.2 87.6 1030.2 88.1 1031.2 87.3 1032.2 87.0 1033.2 87.3 1034.2 87.2 1035.2 86.9 1036.2 87.2 1037.2 87.0 1038.2 87.4 1039.2 86.8 1040.2 86.8 1041.2 86.4 1042.2 86.2 1043.2 86.9 1044.2 87.2 1045.2 87.2 1046.2 87.0 1047.2 87.1 1048.2 86.7 1049.2 86.6 1050.2 86.6 1051.2 86.7 1052.2 87.0 1053.2 87.2 1054.2 87.1 1055.2 87.2 1056.2 87.7 1057.2 87.9 1058.2 87.4" stroke="#800080"/>
</g>
<path d="M157.2 757.8V750.8 M242.2 757.8V743.3 M327.2 757.8V750.8 M412.2 757.8V743.3 M497.2 757.8V750.8 M582.2 757.8V743.3 M667.2 757.8V750.8 M752.2 757.8V743.3 M837.2 757.8V750.8 M922.2 757.8V743.3 M1007.2 757.8V750.8 M69.8 37.7H72 M1058.6 37.7H1056.4 M69.8 82.5H72 M1058.6 82.5H1056.4 M69.8 127.3H72 M1058.6 127.3H1056.4 M69.8 172.2H72 M1058.6 172.2H1056.4 M69.8 217.0H72 M1058.6 217.0H1056.4 M69.8 261.8H72 M1058.6 261.8H1056.4 M69.8 306.6H72 M1058.6 306.6H1056.4 M69.8 351.4H72 M1058.6 351.4H1056.4 M69.8 396.3H72 M1058.6 396.3H1056.4 M69.8 441.1H72 M1058.6 441.1H1056.4 M69.8 485.9H72 M1058.6 485.9H1056.4 M69.8 530.7H72 M1058.6 530.7H1056.4 M69.8 575.5H72 M1058.6 575.5H1056.4 M69.8 620.4H72 M1058.6 620.4H1056.4 M69.8 665.2H72 M1058.6 665.2H1056.4 M69.8 710.0H72 M1058.6 710.0H1056.4" stroke="#000" stroke-width="2.6" fill="none"/>
<rect x="72" y="2.5" width="986.6" height="755.3" fill="none" stroke="#000" stroke-width="3.2"/>
<g font-size="29"><text x="0" y="0" transform="translate(768.7 89.7) scale(0.901 1)">21.9 GPa</text><text x="0" y="0" transform="translate(769.1 154.4) scale(0.901 1)">20.8 GPa</text><text x="0" y="0" transform="translate(771.1 209.8) scale(0.901 1)">19.0 GPa</text><text x="0" y="0" transform="translate(771.9 265.0) scale(0.901 1)">17.7 GPa</text><text x="0" y="0" transform="translate(774.9 316.3) scale(0.901 1)">16.8 GPa</text><text x="0" y="0" transform="translate(774.9 369.7) scale(0.901 1)">15.9 GPa</text><text x="0" y="0" transform="translate(773.3 422.5) scale(0.901 1)">15.0 GPa</text><text x="0" y="0" transform="translate(776.1 473.6) scale(0.901 1)">14.0 GPa</text><text x="0" y="0" transform="translate(778.8 521.2) scale(0.901 1)">12.8 GPa</text><text x="0" y="0" transform="translate(780.2 564.4) scale(0.901 1)">11.8 GPa</text><text x="0" y="0" transform="translate(783.4 604.8) scale(0.901 1)">9.7 GPa</text><text x="0" y="0" transform="translate(782.7 651.8) scale(0.901 1)">7.3 GPa</text><text x="0" y="0" transform="translate(783.3 699.5) scale(0.901 1)">4.7 GPa</text><text x="0" y="0" transform="translate(787.2 736.2) scale(0.901 1)">1.9 GPa</text></g>
<g font-size="37"><text x="0" y="0" text-anchor="middle" transform="translate(72.2 801.2) scale(0.855 1)">5</text><text x="0" y="0" text-anchor="middle" transform="translate(242.2 801.2) scale(0.855 1)">10</text><text x="0" y="0" text-anchor="middle" transform="translate(412.2 801.2) scale(0.855 1)">15</text><text x="0" y="0" text-anchor="middle" transform="translate(582.2 801.2) scale(0.855 1)">20</text><text x="0" y="0" text-anchor="middle" transform="translate(752.2 801.2) scale(0.855 1)">25</text><text x="0" y="0" text-anchor="middle" transform="translate(922.2 801.2) scale(0.855 1)">30</text></g>
<text x="0" y="0" font-size="36" transform="translate(26.9 430.2) rotate(-90)" textLength="133" lengthAdjust="spacingAndGlyphs">Counts</text>
<text x="478.8" y="856.6" font-size="37.5" textLength="33" lengthAdjust="spacingAndGlyphs">2&#952;</text><text x="516.8" y="856.6" font-size="37.5" textLength="123" lengthAdjust="spacingAndGlyphs">(Degree)</text>
<text x="0" y="0" font-size="29" transform="translate(307.6 75) scale(0.78 1)" style="fill:#00f;stroke:#00f;stroke-width:0.6">$</text>
<text x="0" y="0" font-size="29.5" transform="translate(499.8 99.7) scale(0.85 1)" style="fill:#00f;stroke:#00f;stroke-width:0.9">#</text>
<text x="0" y="0" font-size="29.5" transform="translate(570.8 81) scale(0.85 1)" style="fill:#00f;stroke:#00f;stroke-width:0.9">#</text>
<text x="340.6" y="487" font-size="30" style="stroke:#000;stroke-width:0.4">*</text>
</svg>
</body></html>
